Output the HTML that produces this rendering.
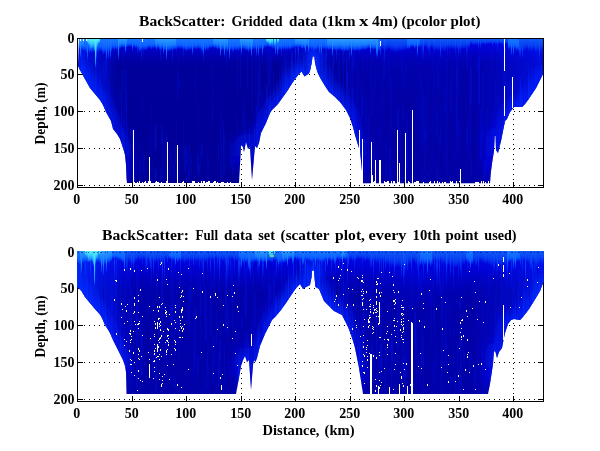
<!DOCTYPE html>
<html><head><meta charset="utf-8"><title>BackScatter</title>
<style>html,body{margin:0;padding:0;background:#fff}body{width:600px;height:451px;overflow:hidden}svg{display:block;will-change:transform;opacity:0.999}.t{font-family:"Liberation Serif",serif;font-weight:bold;font-size:14.67px;fill:#000}</style></head>
<body>
<svg width="600" height="451" viewBox="0 0 600 451" shape-rendering="crispEdges">
<defs>
<linearGradient id="g1" gradientUnits="userSpaceOnUse" x1="0" y1="39" x2="0" y2="187"><stop offset="0" stop-color="#0008e0"/><stop offset="0.054" stop-color="#0002ce"/><stop offset="0.095" stop-color="#0000ba"/><stop offset="0.14" stop-color="#0000a6"/><stop offset="0.2" stop-color="#00009a"/><stop offset="1" stop-color="#000098"/></linearGradient>
<linearGradient id="g2" gradientUnits="userSpaceOnUse" x1="0" y1="251" x2="0" y2="395"><stop offset="0" stop-color="#0010ea"/><stop offset="0.054" stop-color="#0006e0"/><stop offset="0.11" stop-color="#0000d6"/><stop offset="0.19" stop-color="#0000be"/><stop offset="0.28" stop-color="#0000ac"/><stop offset="1" stop-color="#0000aa"/></linearGradient>
<linearGradient id="tb" x1="0" y1="0" x2="0" y2="1"><stop offset="0" stop-color="#1878ff" stop-opacity="1"/><stop offset="0.55" stop-color="#0c60ff" stop-opacity="1"/><stop offset="0.78" stop-color="#0234f8" stop-opacity="0.95"/><stop offset="1" stop-color="#0004e0" stop-opacity="0"/></linearGradient>
<linearGradient id="tb0" x1="0" y1="0" x2="0" y2="1"><stop offset="0" stop-color="#1060f8" stop-opacity="0.9"/><stop offset="0.5" stop-color="#0848f4" stop-opacity="0.85"/><stop offset="0.78" stop-color="#0228ee" stop-opacity="0.7"/><stop offset="1" stop-color="#0004e0" stop-opacity="0"/></linearGradient>
<linearGradient id="hs" x1="0" y1="0" x2="0" y2="1"><stop offset="0" stop-color="#1c78ff" stop-opacity="0.85"/><stop offset="0.4" stop-color="#0c50ff" stop-opacity="0.6"/><stop offset="1" stop-color="#0018f0" stop-opacity="0"/></linearGradient>
<linearGradient id="ss" x1="0" y1="0" x2="0" y2="1"><stop offset="0" stop-color="#0030ff" stop-opacity="0"/><stop offset="0.5" stop-color="#0030ff" stop-opacity="0.8"/><stop offset="1" stop-color="#0838ff" stop-opacity="1"/></linearGradient>
<linearGradient id="tb2" x1="0" y1="0" x2="0" y2="1"><stop offset="0" stop-color="#2c9cff" stop-opacity="1"/><stop offset="0.5" stop-color="#1478ff" stop-opacity="1"/><stop offset="0.78" stop-color="#0440fa" stop-opacity="0.95"/><stop offset="1" stop-color="#0004e0" stop-opacity="0"/></linearGradient>
<linearGradient id="tc" x1="0" y1="0" x2="0" y2="1"><stop offset="0" stop-color="#58f0f4" stop-opacity="1"/><stop offset="0.45" stop-color="#38c8ff" stop-opacity="1"/><stop offset="0.8" stop-color="#1888ff" stop-opacity="0.9"/><stop offset="1" stop-color="#0c50ff" stop-opacity="0"/></linearGradient>
<linearGradient id="hl" x1="0" y1="0" x2="1" y2="0"><stop offset="0" stop-color="#0018f4" stop-opacity="0.7"/><stop offset="1" stop-color="#0018f4" stop-opacity="0"/></linearGradient>
<linearGradient id="hl2" x1="0" y1="0" x2="1" y2="0"><stop offset="0" stop-color="#0030ff" stop-opacity="0.8"/><stop offset="0.5" stop-color="#0020ff" stop-opacity="0.45"/><stop offset="1" stop-color="#0018f4" stop-opacity="0"/></linearGradient>
<linearGradient id="hr" x1="1" y1="0" x2="0" y2="0"><stop offset="0" stop-color="#0018f4" stop-opacity="0.6"/><stop offset="1" stop-color="#0018f4" stop-opacity="0"/></linearGradient>
<radialGradient id="rm"><stop offset="0" stop-color="#0008f0" stop-opacity="0.5"/><stop offset="1" stop-color="#0008f0" stop-opacity="0"/></radialGradient>
<filter id="bl" x="-10%" y="-10%" width="120%" height="120%"><feGaussianBlur stdDeviation="5"/></filter>
<linearGradient id="gg1" gradientUnits="userSpaceOnUse" x1="0" y1="39" x2="0" y2="187"><stop offset="0" stop-color="#0030ff" stop-opacity="0.95"/><stop offset="0.35" stop-color="#0020ff" stop-opacity="0.8"/><stop offset="0.7" stop-color="#0010ff" stop-opacity="0.55"/><stop offset="1" stop-color="#0008ff" stop-opacity="0.35"/></linearGradient>
<linearGradient id="gg2" gradientUnits="userSpaceOnUse" x1="0" y1="251" x2="0" y2="399"><stop offset="0" stop-color="#0030ff" stop-opacity="0.95"/><stop offset="0.35" stop-color="#0020ff" stop-opacity="0.8"/><stop offset="0.7" stop-color="#0010ff" stop-opacity="0.55"/><stop offset="1" stop-color="#0008ff" stop-opacity="0.35"/></linearGradient>
<clipPath id="c1"><path d="M79.0,39.0 L78.0,66.0 L80.0,70.0 L85.0,79.0 L90.0,88.0 L95.0,94.0 L100.0,100.0 L103.0,105.0 L106.0,112.0 L111.0,121.0 L113.0,129.0 L117.0,134.0 L120.0,139.0 L123.0,148.0 L125.0,155.0 L126.0,165.0 L126.5,179.0 L127.0,183.0 L239.0,183.0 L240.0,165.0 L241.0,145.0 L243.0,147.0 L244.0,152.0 L246.0,142.0 L248.0,149.0 L250.0,147.0 L252.0,180.0 L255.0,146.0 L257.0,148.0 L259.0,143.0 L261.0,133.0 L266.0,123.0 L270.0,113.0 L272.0,110.0 L278.0,104.0 L283.0,97.0 L288.0,90.0 L291.0,85.0 L295.0,79.0 L299.0,74.0 L301.5,71.5 L304.5,76.5 L309.0,73.5 L310.5,69.0 L312.0,61.0 L312.6,56.5 L314.4,56.5 L315.0,63.0 L316.5,69.0 L318.0,73.5 L320.5,78.5 L325.0,86.0 L329.0,92.0 L335.0,97.0 L340.0,102.0 L346.0,110.0 L350.0,118.0 L353.0,127.0 L355.0,135.0 L358.0,145.0 L360.0,151.0 L362.0,171.0 L363.0,183.2 L490.0,183.2 L491.0,171.0 L492.5,160.0 L494.0,151.0 L494.6,136.0 L495.6,136.0 L496.0,150.0 L498.0,153.0 L499.5,147.0 L501.0,141.0 L503.0,131.0 L505.0,121.0 L507.0,119.0 L510.0,112.0 L514.0,107.0 L522.0,107.0 L525.0,104.0 L528.0,100.0 L532.0,94.0 L536.0,88.0 L540.0,80.0 L543.0,74.0 L544.0,72.0 L543.0,39.0Z"/></clipPath>
<clipPath id="c2"><path d="M77.0,251.0 L77.0,287.0 L79.0,288.5 L81.5,291.0 L85.0,297.0 L90.0,303.0 L95.0,309.0 L100.0,314.5 L102.0,318.0 L105.0,325.0 L107.0,328.0 L110.0,333.0 L113.0,340.0 L119.0,352.0 L123.0,360.0 L125.0,366.0 L126.0,372.0 L126.5,394.0 L236.0,394.0 L239.0,378.0 L241.0,366.0 L243.0,360.0 L245.0,356.0 L247.0,362.0 L249.0,360.0 L251.0,390.0 L253.0,365.0 L254.0,360.0 L255.5,362.0 L257.0,358.0 L260.0,346.0 L265.0,334.0 L269.0,326.0 L272.0,320.0 L276.0,316.0 L281.0,310.0 L286.0,303.0 L290.0,297.0 L294.0,291.0 L297.0,287.0 L300.0,284.0 L303.0,289.0 L306.0,287.0 L310.0,285.0 L311.6,277.0 L312.0,270.5 L314.0,270.5 L314.6,279.0 L315.5,287.0 L319.0,289.0 L324.0,301.0 L329.0,306.0 L334.0,311.0 L338.0,313.0 L342.0,315.0 L345.0,321.0 L348.0,327.0 L350.0,332.0 L353.0,341.0 L355.0,348.0 L357.0,358.0 L359.0,368.0 L361.0,381.0 L363.0,394.0 L488.0,394.0 L490.0,384.0 L491.5,374.0 L493.0,364.0 L494.0,351.0 L495.5,352.0 L497.0,358.0 L499.0,352.0 L502.0,348.0 L503.5,340.0 L505.0,333.0 L508.0,324.0 L511.0,320.0 L514.0,319.0 L520.0,320.0 L522.0,318.0 L526.0,313.0 L529.0,309.0 L534.0,301.0 L537.0,296.0 L540.0,291.0 L543.0,283.0 L544.0,281.0 L544.0,251.0Z"/></clipPath>
</defs>
<rect width="600" height="451" fill="#fff"/>
<line x1="132.5" y1="184.5" x2="132.5" y2="38.5" stroke="#000" stroke-width="1" stroke-dasharray="1 4"/>
<line x1="186.5" y1="184.5" x2="186.5" y2="38.5" stroke="#000" stroke-width="1" stroke-dasharray="1 4"/>
<line x1="241.5" y1="184.5" x2="241.5" y2="38.5" stroke="#000" stroke-width="1" stroke-dasharray="1 4"/>
<line x1="295.5" y1="184.5" x2="295.5" y2="38.5" stroke="#000" stroke-width="1" stroke-dasharray="1 4"/>
<line x1="350.5" y1="184.5" x2="350.5" y2="38.5" stroke="#000" stroke-width="1" stroke-dasharray="1 4"/>
<line x1="404.5" y1="184.5" x2="404.5" y2="38.5" stroke="#000" stroke-width="1" stroke-dasharray="1 4"/>
<line x1="459.5" y1="184.5" x2="459.5" y2="38.5" stroke="#000" stroke-width="1" stroke-dasharray="1 4"/>
<line x1="513.5" y1="184.5" x2="513.5" y2="38.5" stroke="#000" stroke-width="1" stroke-dasharray="1 4"/>
<line x1="84" y1="74.5" x2="543.5" y2="74.5" stroke="#000" stroke-width="1" stroke-dasharray="1 4"/>
<line x1="84" y1="111.5" x2="543.5" y2="111.5" stroke="#000" stroke-width="1" stroke-dasharray="1 4"/>
<line x1="84" y1="148.5" x2="543.5" y2="148.5" stroke="#000" stroke-width="1" stroke-dasharray="1 4"/>
<line x1="84" y1="185.5" x2="543.5" y2="185.5" stroke="#000" stroke-width="1" stroke-dasharray="1 4"/>
<g clip-path="url(#c1)">
<rect x="78" y="38" width="467" height="150" fill="url(#g1)"/>
<rect x="79" y="39" width="40" height="150" fill="url(#hl)"/>
<rect x="470" y="39" width="74" height="150" fill="url(#hr)"/>
<g filter="url(#bl)"><path d="M78.0,66.0 L80.0,70.0 L85.0,79.0 L90.0,88.0 L95.0,94.0 L100.0,100.0 L103.0,105.0 L106.0,112.0 L111.0,121.0 L113.0,129.0 L117.0,134.0 L120.0,139.0 L123.0,148.0 L125.0,155.0 L126.0,165.0 L126.5,179.0 M240.0,165.0 L241.0,145.0 L243.0,147.0 L244.0,152.0 L246.0,142.0 L248.0,149.0 L250.0,147.0 L252.0,180.0 L255.0,146.0 L257.0,148.0 L259.0,143.0 L261.0,133.0 L266.0,123.0 L270.0,113.0 L272.0,110.0 L278.0,104.0 L283.0,97.0 L288.0,90.0 L291.0,85.0 L295.0,79.0 L299.0,74.0 L301.5,71.5 L304.5,76.5 L309.0,73.5 L310.5,69.0 L312.0,61.0 L312.6,56.5 L314.4,56.5 L315.0,63.0 L316.5,69.0 L318.0,73.5 L320.5,78.5 L325.0,86.0 L329.0,92.0 L335.0,97.0 L340.0,102.0 L346.0,110.0 L350.0,118.0 L353.0,127.0 L355.0,135.0 L358.0,145.0 L360.0,151.0 L362.0,171.0 M491.0,171.0 L492.5,160.0 L494.0,151.0 L494.6,136.0 L495.6,136.0 L496.0,150.0 L498.0,153.0 L499.5,147.0 L501.0,141.0 L503.0,131.0 L505.0,121.0 L507.0,119.0 L510.0,112.0 L514.0,107.0 L522.0,107.0 L525.0,104.0 L528.0,100.0 L532.0,94.0 L536.0,88.0 L540.0,80.0 L543.0,74.0 L544.0,72.0" fill="none" stroke="url(#gg1)" stroke-width="16" stroke-linejoin="round"/></g>
<ellipse cx="420" cy="60" rx="70" ry="40" fill="url(#rm)" opacity="0.25"/>
<rect x="350" y="39" width="195" height="150" fill="#0000ff" opacity="0.13"/>
<rect x="274" y="63" width="2" height="44" fill="#000078" opacity="0.13"/>
<rect x="374" y="48" width="1" height="23" fill="#000078" opacity="0.08"/>
<rect x="155" y="169" width="2" height="10" fill="#0018ff" opacity="0.19"/>
<rect x="109" y="54" width="2" height="41" fill="#0018ff" opacity="0.13"/>
<rect x="363" y="130" width="1" height="14" fill="#000078" opacity="0.16"/>
<rect x="106" y="61" width="1" height="18" fill="#0018ff" opacity="0.17"/>
<rect x="533" y="74" width="1" height="9" fill="#0018ff" opacity="0.10"/>
<rect x="287" y="48" width="1" height="31" fill="#0018ff" opacity="0.12"/>
<rect x="351" y="93" width="1" height="19" fill="#000078" opacity="0.16"/>
<rect x="520" y="80" width="2" height="24" fill="#0018ff" opacity="0.24"/>
<rect x="144" y="158" width="2" height="15" fill="#0018ff" opacity="0.09"/>
<rect x="293" y="61" width="1" height="9" fill="#000078" opacity="0.11"/>
<rect x="454" y="104" width="2" height="53" fill="#0018ff" opacity="0.09"/>
<rect x="220" y="114" width="2" height="64" fill="#0018ff" opacity="0.14"/>
<rect x="245" y="118" width="1" height="21" fill="#0018ff" opacity="0.13"/>
<rect x="453" y="57" width="1" height="42" fill="#0018ff" opacity="0.12"/>
<rect x="420" y="77" width="1" height="69" fill="#0018ff" opacity="0.18"/>
<rect x="247" y="58" width="1" height="32" fill="#0018ff" opacity="0.21"/>
<rect x="385" y="139" width="1" height="15" fill="#0018ff" opacity="0.14"/>
<rect x="536" y="55" width="1" height="17" fill="#0018ff" opacity="0.19"/>
<rect x="405" y="66" width="1" height="40" fill="#000078" opacity="0.13"/>
<rect x="100" y="68" width="1" height="22" fill="#0018ff" opacity="0.19"/>
<rect x="503" y="56" width="1" height="52" fill="#0018ff" opacity="0.15"/>
<rect x="487" y="108" width="1" height="61" fill="#0018ff" opacity="0.16"/>
<rect x="198" y="107" width="1" height="64" fill="#0018ff" opacity="0.12"/>
<rect x="370" y="150" width="2" height="9" fill="#0018ff" opacity="0.19"/>
<rect x="352" y="49" width="1" height="55" fill="#0018ff" opacity="0.21"/>
<rect x="266" y="84" width="2" height="21" fill="#0018ff" opacity="0.11"/>
<rect x="342" y="65" width="1" height="9" fill="#0018ff" opacity="0.14"/>
<rect x="500" y="120" width="1" height="19" fill="#0018ff" opacity="0.16"/>
<rect x="276" y="81" width="1" height="9" fill="#0018ff" opacity="0.16"/>
<rect x="329" y="49" width="1" height="27" fill="#0018ff" opacity="0.14"/>
<rect x="327" y="50" width="1" height="29" fill="#000078" opacity="0.18"/>
<rect x="444" y="86" width="1" height="27" fill="#0018ff" opacity="0.17"/>
<rect x="421" y="101" width="1" height="53" fill="#0018ff" opacity="0.11"/>
<rect x="268" y="70" width="1" height="14" fill="#0018ff" opacity="0.12"/>
<rect x="112" y="103" width="1" height="13" fill="#000078" opacity="0.12"/>
<rect x="178" y="54" width="1" height="34" fill="#0018ff" opacity="0.10"/>
<rect x="155" y="167" width="1" height="10" fill="#0018ff" opacity="0.20"/>
<rect x="165" y="140" width="1" height="38" fill="#0018ff" opacity="0.20"/>
<rect x="326" y="66" width="2" height="17" fill="#0018ff" opacity="0.19"/>
<rect x="433" y="67" width="1" height="66" fill="#0018ff" opacity="0.08"/>
<rect x="346" y="50" width="1" height="52" fill="#0018ff" opacity="0.13"/>
<rect x="372" y="85" width="1" height="33" fill="#0018ff" opacity="0.20"/>
<rect x="270" y="82" width="2" height="13" fill="#000078" opacity="0.13"/>
<rect x="309" y="53" width="2" height="11" fill="#0018ff" opacity="0.09"/>
<rect x="268" y="48" width="2" height="39" fill="#0018ff" opacity="0.16"/>
<rect x="320" y="63" width="2" height="12" fill="#000078" opacity="0.17"/>
<rect x="286" y="62" width="2" height="10" fill="#000078" opacity="0.19"/>
<rect x="125" y="125" width="1" height="29" fill="#000078" opacity="0.17"/>
<rect x="123" y="131" width="1" height="13" fill="#0018ff" opacity="0.15"/>
<rect x="537" y="48" width="2" height="27" fill="#0018ff" opacity="0.09"/>
<rect x="286" y="60" width="1" height="20" fill="#0018ff" opacity="0.23"/>
<rect x="539" y="66" width="1" height="13" fill="#0018ff" opacity="0.19"/>
<rect x="173" y="164" width="2" height="15" fill="#0018ff" opacity="0.16"/>
<rect x="124" y="70" width="1" height="22" fill="#0018ff" opacity="0.19"/>
<rect x="489" y="159" width="1" height="24" fill="#0018ff" opacity="0.12"/>
<rect x="144" y="169" width="1" height="9" fill="#0018ff" opacity="0.08"/>
<rect x="120" y="54" width="2" height="42" fill="#000078" opacity="0.17"/>
<rect x="117" y="58" width="1" height="27" fill="#000078" opacity="0.17"/>
<rect x="446" y="104" width="1" height="42" fill="#0018ff" opacity="0.11"/>
<rect x="257" y="92" width="1" height="28" fill="#0018ff" opacity="0.16"/>
<rect x="479" y="95" width="1" height="55" fill="#0018ff" opacity="0.10"/>
<rect x="156" y="83" width="1" height="37" fill="#000078" opacity="0.18"/>
<rect x="82" y="55" width="2" height="18" fill="#0018ff" opacity="0.20"/>
<rect x="447" y="121" width="1" height="58" fill="#0018ff" opacity="0.16"/>
<rect x="458" y="59" width="1" height="35" fill="#0018ff" opacity="0.10"/>
<rect x="88" y="67" width="1" height="14" fill="#0018ff" opacity="0.23"/>
<rect x="502" y="78" width="1" height="44" fill="#000078" opacity="0.11"/>
<rect x="96" y="63" width="1" height="29" fill="#0018ff" opacity="0.22"/>
<rect x="512" y="81" width="1" height="21" fill="#0018ff" opacity="0.13"/>
<rect x="438" y="54" width="1" height="37" fill="#0018ff" opacity="0.16"/>
<rect x="221" y="163" width="1" height="16" fill="#0018ff" opacity="0.15"/>
<rect x="200" y="147" width="1" height="22" fill="#0018ff" opacity="0.11"/>
<rect x="105" y="50" width="2" height="26" fill="#0018ff" opacity="0.19"/>
<rect x="95" y="68" width="1" height="26" fill="#000078" opacity="0.18"/>
<rect x="269" y="95" width="1" height="20" fill="#000078" opacity="0.10"/>
<rect x="300" y="55" width="1" height="8" fill="#0018ff" opacity="0.23"/>
<rect x="82" y="55" width="1" height="15" fill="#000078" opacity="0.14"/>
<rect x="330" y="69" width="1" height="9" fill="#0018ff" opacity="0.09"/>
<rect x="317" y="55" width="2" height="13" fill="#0018ff" opacity="0.11"/>
<rect x="471" y="164" width="1" height="19" fill="#0018ff" opacity="0.11"/>
<rect x="169" y="169" width="1" height="13" fill="#0018ff" opacity="0.10"/>
<rect x="118" y="89" width="1" height="18" fill="#0018ff" opacity="0.09"/>
<rect x="258" y="71" width="1" height="36" fill="#0018ff" opacity="0.23"/>
<rect x="302" y="53" width="1" height="15" fill="#000078" opacity="0.14"/>
<rect x="179" y="79" width="2" height="9" fill="#0018ff" opacity="0.12"/>
<rect x="432" y="121" width="1" height="49" fill="#0018ff" opacity="0.10"/>
<rect x="467" y="123" width="1" height="19" fill="#0018ff" opacity="0.20"/>
<rect x="337" y="54" width="1" height="15" fill="#0018ff" opacity="0.10"/>
<rect x="425" y="126" width="2" height="30" fill="#0018ff" opacity="0.12"/>
<rect x="346" y="58" width="2" height="50" fill="#0018ff" opacity="0.11"/>
<rect x="249" y="101" width="2" height="25" fill="#000078" opacity="0.19"/>
<rect x="385" y="165" width="2" height="12" fill="#0018ff" opacity="0.16"/>
<rect x="484" y="160" width="2" height="19" fill="#0018ff" opacity="0.22"/>
<rect x="428" y="81" width="1" height="9" fill="#0018ff" opacity="0.08"/>
<rect x="88" y="72" width="1" height="9" fill="#0018ff" opacity="0.20"/>
<rect x="176" y="122" width="1" height="55" fill="#0018ff" opacity="0.13"/>
<rect x="422" y="171" width="1" height="9" fill="#0018ff" opacity="0.20"/>
<rect x="507" y="81" width="1" height="14" fill="#0018ff" opacity="0.19"/>
<rect x="500" y="75" width="1" height="31" fill="#000078" opacity="0.10"/>
<rect x="343" y="87" width="2" height="18" fill="#0018ff" opacity="0.15"/>
<rect x="499" y="112" width="1" height="9" fill="#0018ff" opacity="0.09"/>
<rect x="348" y="53" width="2" height="31" fill="#0018ff" opacity="0.16"/>
<rect x="366" y="149" width="1" height="10" fill="#000078" opacity="0.20"/>
<rect x="132" y="128" width="1" height="22" fill="#0018ff" opacity="0.24"/>
<rect x="177" y="160" width="2" height="18" fill="#000078" opacity="0.11"/>
<rect x="440" y="106" width="1" height="15" fill="#0018ff" opacity="0.10"/>
<rect x="195" y="65" width="1" height="23" fill="#0018ff" opacity="0.17"/>
<rect x="352" y="57" width="2" height="14" fill="#0018ff" opacity="0.17"/>
<rect x="266" y="95" width="1" height="9" fill="#0018ff" opacity="0.11"/>
<rect x="470" y="58" width="1" height="48" fill="#0018ff" opacity="0.17"/>
<rect x="186" y="148" width="2" height="17" fill="#0018ff" opacity="0.22"/>
<rect x="531" y="82" width="2" height="12" fill="#0018ff" opacity="0.22"/>
<rect x="279" y="90" width="2" height="10" fill="#0018ff" opacity="0.09"/>
<rect x="298" y="51" width="1" height="22" fill="#0018ff" opacity="0.15"/>
<rect x="435" y="59" width="1" height="31" fill="#0018ff" opacity="0.12"/>
<rect x="273" y="70" width="1" height="24" fill="#0018ff" opacity="0.09"/>
<rect x="389" y="149" width="2" height="29" fill="#0018ff" opacity="0.20"/>
<rect x="126" y="121" width="2" height="16" fill="#0018ff" opacity="0.15"/>
<rect x="289" y="76" width="1" height="10" fill="#0018ff" opacity="0.18"/>
<rect x="310" y="47" width="1" height="16" fill="#0018ff" opacity="0.22"/>
<rect x="271" y="48" width="1" height="25" fill="#0018ff" opacity="0.15"/>
<rect x="445" y="82" width="1" height="68" fill="#0018ff" opacity="0.12"/>
<rect x="501" y="99" width="1" height="22" fill="#0018ff" opacity="0.15"/>
<rect x="492" y="137" width="1" height="11" fill="#0018ff" opacity="0.16"/>
<rect x="385" y="144" width="1" height="33" fill="#0018ff" opacity="0.08"/>
<rect x="248" y="130" width="1" height="16" fill="#0018ff" opacity="0.11"/>
<rect x="397" y="108" width="2" height="46" fill="#0018ff" opacity="0.22"/>
<rect x="272" y="94" width="2" height="15" fill="#0018ff" opacity="0.12"/>
<rect x="333" y="59" width="1" height="11" fill="#0018ff" opacity="0.16"/>
<rect x="310" y="57" width="2" height="8" fill="#0018ff" opacity="0.12"/>
<rect x="132" y="149" width="1" height="19" fill="#0018ff" opacity="0.10"/>
<rect x="378" y="98" width="1" height="37" fill="#0018ff" opacity="0.10"/>
<rect x="405" y="131" width="2" height="42" fill="#0018ff" opacity="0.09"/>
<rect x="361" y="79" width="1" height="41" fill="#0018ff" opacity="0.20"/>
<rect x="540" y="57" width="1" height="14" fill="#0018ff" opacity="0.23"/>
<rect x="423" y="94" width="2" height="53" fill="#0018ff" opacity="0.15"/>
<rect x="450" y="81" width="1" height="32" fill="#0018ff" opacity="0.23"/>
<rect x="486" y="156" width="2" height="10" fill="#0018ff" opacity="0.09"/>
<rect x="105" y="59" width="2" height="43" fill="#0018ff" opacity="0.16"/>
<rect x="351" y="63" width="1" height="48" fill="#0018ff" opacity="0.18"/>
<rect x="292" y="56" width="1" height="10" fill="#000078" opacity="0.09"/>
<rect x="252" y="119" width="1" height="26" fill="#0018ff" opacity="0.08"/>
<rect x="229" y="147" width="1" height="20" fill="#000078" opacity="0.16"/>
<rect x="322" y="55" width="1" height="14" fill="#0018ff" opacity="0.18"/>
<rect x="286" y="57" width="1" height="33" fill="#0018ff" opacity="0.19"/>
<rect x="306" y="53" width="1" height="17" fill="#0018ff" opacity="0.13"/>
<rect x="128" y="99" width="2" height="48" fill="#000078" opacity="0.09"/>
<rect x="244" y="96" width="1" height="35" fill="#0018ff" opacity="0.09"/>
<rect x="491" y="141" width="1" height="10" fill="#0018ff" opacity="0.19"/>
<rect x="252" y="54" width="1" height="59" fill="#0018ff" opacity="0.20"/>
<rect x="292" y="51" width="1" height="23" fill="#0018ff" opacity="0.21"/>
<rect x="470" y="68" width="2" height="34" fill="#0018ff" opacity="0.24"/>
<rect x="414" y="122" width="1" height="37" fill="#000078" opacity="0.17"/>
<rect x="493" y="112" width="1" height="22" fill="#0018ff" opacity="0.17"/>
<rect x="277" y="49" width="1" height="46" fill="#000078" opacity="0.15"/>
<rect x="298" y="50" width="1" height="16" fill="#0018ff" opacity="0.20"/>
<rect x="354" y="53" width="1" height="18" fill="#0018ff" opacity="0.20"/>
<rect x="329" y="69" width="2" height="21" fill="#0018ff" opacity="0.22"/>
<rect x="362" y="151" width="2" height="9" fill="#0018ff" opacity="0.15"/>
<rect x="125" y="71" width="2" height="41" fill="#0018ff" opacity="0.13"/>
<rect x="346" y="57" width="2" height="36" fill="#0018ff" opacity="0.20"/>
<rect x="97" y="65" width="2" height="11" fill="#0018ff" opacity="0.14"/>
<rect x="438" y="74" width="1" height="26" fill="#0018ff" opacity="0.12"/>
<rect x="91" y="67" width="1" height="12" fill="#0018ff" opacity="0.13"/>
<rect x="183" y="117" width="1" height="42" fill="#0018ff" opacity="0.11"/>
<rect x="408" y="82" width="1" height="49" fill="#000078" opacity="0.10"/>
<rect x="102" y="66" width="1" height="13" fill="#0018ff" opacity="0.22"/>
<rect x="494" y="118" width="1" height="29" fill="#0018ff" opacity="0.20"/>
<rect x="309" y="50" width="1" height="15" fill="#0018ff" opacity="0.11"/>
<rect x="92" y="57" width="1" height="29" fill="#0018ff" opacity="0.17"/>
<rect x="288" y="59" width="2" height="19" fill="#0018ff" opacity="0.12"/>
<rect x="412" y="145" width="1" height="10" fill="#0018ff" opacity="0.20"/>
<rect x="106" y="97" width="1" height="11" fill="#0018ff" opacity="0.10"/>
<rect x="342" y="68" width="1" height="30" fill="#0018ff" opacity="0.10"/>
<rect x="126" y="75" width="1" height="44" fill="#0018ff" opacity="0.10"/>
<rect x="403" y="76" width="1" height="46" fill="#0018ff" opacity="0.11"/>
<rect x="397" y="131" width="1" height="34" fill="#0018ff" opacity="0.19"/>
<rect x="320" y="53" width="1" height="12" fill="#0018ff" opacity="0.16"/>
<rect x="264" y="110" width="2" height="15" fill="#0018ff" opacity="0.23"/>
<rect x="390" y="151" width="1" height="25" fill="#000078" opacity="0.13"/>
<rect x="277" y="64" width="2" height="32" fill="#000078" opacity="0.11"/>
<rect x="234" y="88" width="2" height="68" fill="#000078" opacity="0.20"/>
<rect x="379" y="127" width="1" height="14" fill="#0018ff" opacity="0.18"/>
<rect x="402" y="105" width="1" height="16" fill="#0018ff" opacity="0.13"/>
<rect x="338" y="53" width="2" height="43" fill="#0018ff" opacity="0.21"/>
<rect x="230" y="142" width="2" height="25" fill="#0018ff" opacity="0.15"/>
<rect x="237" y="53" width="1" height="40" fill="#0018ff" opacity="0.18"/>
<rect x="330" y="76" width="2" height="11" fill="#0018ff" opacity="0.10"/>
<rect x="240" y="47" width="1" height="41" fill="#0018ff" opacity="0.23"/>
<rect x="198" y="155" width="1" height="25" fill="#0018ff" opacity="0.19"/>
<rect x="344" y="83" width="2" height="22" fill="#000078" opacity="0.15"/>
<rect x="223" y="132" width="2" height="43" fill="#0018ff" opacity="0.22"/>
<rect x="456" y="68" width="1" height="56" fill="#0018ff" opacity="0.22"/>
<rect x="328" y="71" width="1" height="8" fill="#0018ff" opacity="0.12"/>
<rect x="305" y="48" width="2" height="18" fill="#0018ff" opacity="0.09"/>
<rect x="218" y="143" width="1" height="18" fill="#0018ff" opacity="0.22"/>
<rect x="470" y="95" width="1" height="64" fill="#0018ff" opacity="0.18"/>
<rect x="266" y="86" width="2" height="21" fill="#0018ff" opacity="0.23"/>
<rect x="333" y="54" width="1" height="23" fill="#0018ff" opacity="0.23"/>
<rect x="258" y="56" width="1" height="37" fill="#0018ff" opacity="0.08"/>
<rect x="332" y="61" width="1" height="19" fill="#0018ff" opacity="0.09"/>
<rect x="518" y="77" width="1" height="15" fill="#0018ff" opacity="0.15"/>
<rect x="275" y="62" width="2" height="22" fill="#000078" opacity="0.19"/>
<rect x="539" y="63" width="2" height="11" fill="#0018ff" opacity="0.11"/>
<rect x="427" y="170" width="2" height="9" fill="#0018ff" opacity="0.11"/>
<rect x="96" y="74" width="2" height="18" fill="#0018ff" opacity="0.13"/>
<rect x="406" y="156" width="2" height="10" fill="#0018ff" opacity="0.13"/>
<rect x="93" y="51" width="1" height="23" fill="#000078" opacity="0.15"/>
<rect x="375" y="63" width="1" height="29" fill="#0018ff" opacity="0.13"/>
<rect x="497" y="94" width="2" height="8" fill="#0018ff" opacity="0.16"/>
<rect x="530" y="79" width="2" height="15" fill="#0018ff" opacity="0.22"/>
<rect x="311" y="53" width="1" height="12" fill="#0018ff" opacity="0.17"/>
<rect x="514" y="70" width="1" height="21" fill="#0018ff" opacity="0.22"/>
<rect x="82" y="60" width="2" height="9" fill="#0018ff" opacity="0.10"/>
<rect x="495" y="48" width="1" height="27" fill="#000078" opacity="0.16"/>
<rect x="401" y="55" width="1" height="18" fill="#0018ff" opacity="0.11"/>
<rect x="226" y="52" width="1" height="17" fill="#0018ff" opacity="0.20"/>
<rect x="371" y="136" width="1" height="43" fill="#0018ff" opacity="0.12"/>
<rect x="149" y="135" width="1" height="16" fill="#0018ff" opacity="0.12"/>
<rect x="160" y="169" width="2" height="12" fill="#0018ff" opacity="0.18"/>
<rect x="335" y="72" width="2" height="13" fill="#0018ff" opacity="0.12"/>
<rect x="108" y="79" width="1" height="31" fill="#0018ff" opacity="0.22"/>
<rect x="453" y="155" width="1" height="11" fill="#0018ff" opacity="0.18"/>
<rect x="381" y="79" width="1" height="32" fill="#0018ff" opacity="0.15"/>
<rect x="412" y="47" width="2" height="35" fill="#000078" opacity="0.14"/>
<rect x="133" y="150" width="1" height="11" fill="#0018ff" opacity="0.10"/>
<rect x="440" y="125" width="1" height="21" fill="#0018ff" opacity="0.24"/>
<rect x="175" y="145" width="1" height="19" fill="#0018ff" opacity="0.23"/>
<rect x="357" y="64" width="1" height="50" fill="#0018ff" opacity="0.12"/>
<rect x="437" y="166" width="1" height="17" fill="#0018ff" opacity="0.23"/>
<rect x="525" y="62" width="1" height="26" fill="#0018ff" opacity="0.11"/>
<rect x="479" y="153" width="1" height="8" fill="#0018ff" opacity="0.11"/>
<rect x="427" y="76" width="1" height="63" fill="#0018ff" opacity="0.18"/>
<rect x="151" y="105" width="1" height="68" fill="#0018ff" opacity="0.10"/>
<rect x="198" y="165" width="2" height="10" fill="#0018ff" opacity="0.19"/>
<rect x="97" y="52" width="1" height="17" fill="#0018ff" opacity="0.19"/>
<rect x="237" y="138" width="1" height="14" fill="#000078" opacity="0.12"/>
<rect x="390" y="78" width="1" height="61" fill="#0018ff" opacity="0.19"/>
<rect x="436" y="107" width="2" height="34" fill="#0018ff" opacity="0.15"/>
<rect x="367" y="145" width="1" height="11" fill="#000078" opacity="0.17"/>
<rect x="281" y="63" width="1" height="18" fill="#0018ff" opacity="0.12"/>
<rect x="243" y="100" width="2" height="28" fill="#0018ff" opacity="0.10"/>
<rect x="121" y="70" width="1" height="68" fill="#0018ff" opacity="0.24"/>
<rect x="388" y="58" width="2" height="33" fill="#0018ff" opacity="0.11"/>
<rect x="498" y="99" width="1" height="38" fill="#0018ff" opacity="0.11"/>
<rect x="316" y="49" width="1" height="17" fill="#0018ff" opacity="0.09"/>
<rect x="480" y="114" width="1" height="14" fill="#0018ff" opacity="0.10"/>
<rect x="471" y="162" width="1" height="12" fill="#0018ff" opacity="0.21"/>
<rect x="373" y="138" width="1" height="15" fill="#0018ff" opacity="0.11"/>
<rect x="393" y="98" width="1" height="41" fill="#000078" opacity="0.14"/>
<rect x="294" y="55" width="1" height="24" fill="#0018ff" opacity="0.08"/>
<rect x="406" y="131" width="2" height="38" fill="#0018ff" opacity="0.21"/>
<rect x="510" y="52" width="1" height="17" fill="#0018ff" opacity="0.17"/>
<rect x="311" y="47" width="1" height="16" fill="#0018ff" opacity="0.21"/>
<rect x="115" y="112" width="2" height="16" fill="#0018ff" opacity="0.13"/>
<rect x="341" y="83" width="1" height="14" fill="#0018ff" opacity="0.19"/>
<rect x="127" y="140" width="2" height="42" fill="#0018ff" opacity="0.17"/>
<rect x="357" y="71" width="1" height="33" fill="#0018ff" opacity="0.16"/>
<rect x="100" y="64" width="1" height="21" fill="#0018ff" opacity="0.11"/>
<rect x="533" y="72" width="1" height="15" fill="#000078" opacity="0.09"/>
<rect x="279" y="67" width="2" height="23" fill="#0018ff" opacity="0.11"/>
<rect x="309" y="58" width="1" height="14" fill="#0018ff" opacity="0.08"/>
<rect x="207" y="151" width="1" height="31" fill="#0018ff" opacity="0.11"/>
<rect x="485" y="110" width="1" height="48" fill="#0018ff" opacity="0.20"/>
<rect x="332" y="76" width="1" height="13" fill="#000078" opacity="0.11"/>
<rect x="512" y="93" width="1" height="13" fill="#0018ff" opacity="0.21"/>
<rect x="364" y="167" width="1" height="12" fill="#0018ff" opacity="0.24"/>
<rect x="369" y="171" width="1" height="9" fill="#0018ff" opacity="0.15"/>
<rect x="351" y="98" width="1" height="19" fill="#0018ff" opacity="0.08"/>
<rect x="163" y="139" width="1" height="8" fill="#000078" opacity="0.18"/>
<rect x="424" y="156" width="1" height="15" fill="#0018ff" opacity="0.23"/>
<rect x="161" y="125" width="2" height="20" fill="#0018ff" opacity="0.18"/>
<rect x="285" y="75" width="1" height="12" fill="#0018ff" opacity="0.12"/>
<rect x="124" y="105" width="1" height="46" fill="#0018ff" opacity="0.19"/>
<rect x="310" y="48" width="2" height="20" fill="#0018ff" opacity="0.11"/>
<rect x="177" y="70" width="1" height="31" fill="#0018ff" opacity="0.23"/>
<rect x="287" y="79" width="1" height="11" fill="#0018ff" opacity="0.16"/>
<rect x="344" y="56" width="1" height="12" fill="#0018ff" opacity="0.17"/>
<rect x="354" y="96" width="1" height="33" fill="#0018ff" opacity="0.12"/>
<rect x="439" y="137" width="1" height="29" fill="#0018ff" opacity="0.13"/>
<rect x="212" y="65" width="1" height="60" fill="#0018ff" opacity="0.22"/>
<rect x="480" y="110" width="2" height="49" fill="#0018ff" opacity="0.18"/>
<rect x="417" y="93" width="1" height="29" fill="#0018ff" opacity="0.18"/>
<rect x="155" y="125" width="2" height="25" fill="#0018ff" opacity="0.22"/>
<rect x="509" y="83" width="1" height="30" fill="#0018ff" opacity="0.13"/>
<rect x="295" y="56" width="1" height="14" fill="#0018ff" opacity="0.22"/>
<rect x="81" y="52" width="2" height="10" fill="#0018ff" opacity="0.22"/>
<rect x="483" y="78" width="1" height="59" fill="#0018ff" opacity="0.11"/>
<rect x="517" y="81" width="1" height="14" fill="#0018ff" opacity="0.14"/>
<rect x="197" y="154" width="1" height="20" fill="#0018ff" opacity="0.18"/>
<rect x="535" y="68" width="2" height="10" fill="#0018ff" opacity="0.19"/>
<rect x="482" y="72" width="1" height="38" fill="#0018ff" opacity="0.23"/>
<rect x="184" y="145" width="2" height="26" fill="#0018ff" opacity="0.22"/>
<rect x="333" y="55" width="2" height="9" fill="#0018ff" opacity="0.15"/>
<rect x="456" y="50" width="2" height="32" fill="#0018ff" opacity="0.16"/>
<rect x="124" y="139" width="1" height="12" fill="#0018ff" opacity="0.19"/>
<rect x="284" y="54" width="1" height="28" fill="#0018ff" opacity="0.19"/>
<rect x="237" y="116" width="1" height="34" fill="#0018ff" opacity="0.16"/>
<rect x="439" y="103" width="1" height="45" fill="#0018ff" opacity="0.09"/>
<rect x="320" y="49" width="1" height="20" fill="#000078" opacity="0.08"/>
<rect x="134" y="166" width="1" height="16" fill="#0018ff" opacity="0.23"/>
<rect x="171" y="153" width="2" height="22" fill="#0018ff" opacity="0.09"/>
<rect x="328" y="63" width="1" height="19" fill="#0018ff" opacity="0.12"/>
<rect x="107" y="49" width="1" height="54" fill="#0018ff" opacity="0.22"/>
<rect x="258" y="111" width="1" height="24" fill="#0018ff" opacity="0.15"/>
<rect x="375" y="81" width="1" height="31" fill="#0018ff" opacity="0.10"/>
<rect x="259" y="68" width="2" height="59" fill="#0018ff" opacity="0.09"/>
<rect x="123" y="115" width="1" height="32" fill="#0018ff" opacity="0.09"/>
<rect x="532" y="68" width="1" height="22" fill="#0018ff" opacity="0.11"/>
<rect x="166" y="132" width="1" height="19" fill="#0018ff" opacity="0.23"/>
<rect x="402" y="56" width="1" height="37" fill="#0018ff" opacity="0.08"/>
<rect x="515" y="86" width="1" height="16" fill="#0018ff" opacity="0.12"/>
<rect x="383" y="53" width="2" height="28" fill="#0018ff" opacity="0.20"/>
<rect x="422" y="83" width="1" height="46" fill="#0018ff" opacity="0.15"/>
<rect x="391" y="77" width="1" height="49" fill="#0018ff" opacity="0.12"/>
<rect x="514" y="90" width="1" height="12" fill="#0018ff" opacity="0.08"/>
<rect x="176" y="171" width="1" height="8" fill="#0018ff" opacity="0.23"/>
<rect x="347" y="72" width="1" height="22" fill="#0018ff" opacity="0.23"/>
<rect x="404" y="169" width="2" height="12" fill="#0018ff" opacity="0.23"/>
<rect x="291" y="51" width="1" height="13" fill="#0018ff" opacity="0.22"/>
<rect x="304" y="53" width="2" height="18" fill="#000078" opacity="0.17"/>
<rect x="169" y="147" width="1" height="10" fill="#0018ff" opacity="0.12"/>
<rect x="262" y="109" width="1" height="13" fill="#0018ff" opacity="0.13"/>
<rect x="367" y="53" width="1" height="14" fill="#0018ff" opacity="0.10"/>
<rect x="381" y="115" width="1" height="19" fill="#0018ff" opacity="0.11"/>
<rect x="454" y="125" width="1" height="25" fill="#000078" opacity="0.18"/>
<rect x="362" y="47" width="1" height="27" fill="#0018ff" opacity="0.14"/>
<rect x="518" y="93" width="1" height="12" fill="#0018ff" opacity="0.19"/>
<rect x="95" y="75" width="2" height="16" fill="#0018ff" opacity="0.19"/>
<rect x="103" y="57" width="2" height="29" fill="#0018ff" opacity="0.13"/>
<rect x="232" y="157" width="1" height="18" fill="#0018ff" opacity="0.16"/>
<rect x="127" y="60" width="2" height="67" fill="#000078" opacity="0.09"/>
<rect x="142" y="93" width="1" height="23" fill="#0018ff" opacity="0.10"/>
<rect x="457" y="125" width="1" height="44" fill="#0018ff" opacity="0.14"/>
<rect x="508" y="87" width="1" height="28" fill="#0018ff" opacity="0.14"/>
<rect x="376" y="152" width="1" height="12" fill="#0018ff" opacity="0.08"/>
<rect x="285" y="78" width="1" height="13" fill="#0018ff" opacity="0.09"/>
<rect x="306" y="55" width="1" height="14" fill="#000078" opacity="0.15"/>
<rect x="141" y="143" width="1" height="30" fill="#0018ff" opacity="0.11"/>
<rect x="479" y="48" width="1" height="59" fill="#0018ff" opacity="0.13"/>
<rect x="256" y="105" width="2" height="29" fill="#0018ff" opacity="0.21"/>
<rect x="472" y="112" width="2" height="51" fill="#000078" opacity="0.18"/>
<rect x="245" y="132" width="1" height="10" fill="#0018ff" opacity="0.19"/>
<rect x="371" y="54" width="1" height="20" fill="#0018ff" opacity="0.11"/>
<rect x="481" y="129" width="1" height="31" fill="#0018ff" opacity="0.17"/>
<rect x="340" y="66" width="1" height="32" fill="#0018ff" opacity="0.08"/>
<rect x="366" y="96" width="1" height="27" fill="#0018ff" opacity="0.20"/>
<rect x="223" y="119" width="1" height="34" fill="#0018ff" opacity="0.16"/>
<rect x="296" y="57" width="1" height="17" fill="#0018ff" opacity="0.14"/>
<rect x="482" y="126" width="1" height="15" fill="#0018ff" opacity="0.24"/>
<rect x="330" y="61" width="2" height="11" fill="#0018ff" opacity="0.17"/>
<rect x="391" y="167" width="1" height="14" fill="#0018ff" opacity="0.21"/>
<rect x="495" y="79" width="1" height="30" fill="#0018ff" opacity="0.17"/>
<rect x="260" y="120" width="1" height="11" fill="#000078" opacity="0.11"/>
<rect x="485" y="162" width="1" height="13" fill="#0018ff" opacity="0.14"/>
<rect x="324" y="71" width="1" height="13" fill="#0018ff" opacity="0.14"/>
<rect x="370" y="69" width="1" height="55" fill="#0018ff" opacity="0.14"/>
<rect x="383" y="85" width="1" height="38" fill="#0018ff" opacity="0.09"/>
<rect x="273" y="71" width="1" height="10" fill="#0018ff" opacity="0.22"/>
<rect x="103" y="62" width="2" height="41" fill="#0018ff" opacity="0.23"/>
<rect x="191" y="156" width="1" height="21" fill="#0018ff" opacity="0.19"/>
<rect x="233" y="148" width="1" height="25" fill="#0018ff" opacity="0.18"/>
<rect x="298" y="63" width="1" height="11" fill="#0018ff" opacity="0.10"/>
<rect x="154" y="125" width="2" height="27" fill="#0018ff" opacity="0.11"/>
<rect x="99" y="72" width="2" height="25" fill="#0018ff" opacity="0.17"/>
<rect x="269" y="101" width="2" height="13" fill="#0018ff" opacity="0.16"/>
<rect x="423" y="66" width="1" height="22" fill="#000078" opacity="0.14"/>
<rect x="469" y="98" width="1" height="64" fill="#0018ff" opacity="0.11"/>
<rect x="81" y="59" width="1" height="10" fill="#0018ff" opacity="0.16"/>
<rect x="504" y="65" width="1" height="51" fill="#0018ff" opacity="0.14"/>
<rect x="539" y="53" width="1" height="9" fill="#0018ff" opacity="0.21"/>
<rect x="492" y="131" width="1" height="27" fill="#0018ff" opacity="0.11"/>
<rect x="162" y="134" width="2" height="44" fill="#0018ff" opacity="0.12"/>
<rect x="456" y="102" width="1" height="53" fill="#0018ff" opacity="0.14"/>
<rect x="346" y="70" width="1" height="27" fill="#0018ff" opacity="0.20"/>
<rect x="537" y="73" width="1" height="10" fill="#0018ff" opacity="0.18"/>
<rect x="284" y="52" width="1" height="34" fill="#0018ff" opacity="0.24"/>
<rect x="270" y="57" width="1" height="54" fill="#0018ff" opacity="0.20"/>
<rect x="259" y="110" width="1" height="26" fill="#0018ff" opacity="0.17"/>
<rect x="152" y="157" width="1" height="15" fill="#0018ff" opacity="0.12"/>
<rect x="86" y="52" width="1" height="16" fill="#0018ff" opacity="0.12"/>
<rect x="253" y="133" width="1" height="17" fill="#000078" opacity="0.14"/>
<rect x="428" y="63" width="1" height="50" fill="#000078" opacity="0.10"/>
<rect x="325" y="54" width="2" height="12" fill="#0018ff" opacity="0.23"/>
<rect x="459" y="120" width="1" height="36" fill="#0018ff" opacity="0.22"/>
<rect x="326" y="50" width="1" height="11" fill="#0018ff" opacity="0.18"/>
<rect x="96" y="58" width="1" height="37" fill="#0018ff" opacity="0.16"/>
<rect x="244" y="138" width="1" height="9" fill="#000078" opacity="0.08"/>
<rect x="458" y="140" width="2" height="22" fill="#000078" opacity="0.13"/>
<rect x="353" y="113" width="1" height="10" fill="#0018ff" opacity="0.22"/>
<rect x="217" y="75" width="1" height="44" fill="#0018ff" opacity="0.09"/>
<rect x="343" y="60" width="1" height="29" fill="#0018ff" opacity="0.23"/>
<rect x="119" y="89" width="2" height="19" fill="#0018ff" opacity="0.09"/>
<rect x="323" y="68" width="1" height="12" fill="#0018ff" opacity="0.10"/>
<rect x="282" y="65" width="2" height="17" fill="#0018ff" opacity="0.15"/>
<rect x="519" y="75" width="2" height="30" fill="#0018ff" opacity="0.17"/>
<rect x="504" y="49" width="1" height="28" fill="#0018ff" opacity="0.08"/>
<rect x="522" y="69" width="2" height="9" fill="#0018ff" opacity="0.16"/>
<rect x="79" y="52" width="1" height="14" fill="#0018ff" opacity="0.16"/>
<rect x="122" y="48" width="2" height="55" fill="#0018ff" opacity="0.10"/>
<rect x="352" y="88" width="2" height="28" fill="#0018ff" opacity="0.17"/>
<rect x="499" y="121" width="1" height="28" fill="#0018ff" opacity="0.08"/>
<rect x="477" y="61" width="2" height="10" fill="#0018ff" opacity="0.16"/>
<rect x="466" y="129" width="2" height="24" fill="#0018ff" opacity="0.18"/>
<rect x="96" y="56" width="2" height="9" fill="#0018ff" opacity="0.17"/>
<rect x="329" y="49" width="2" height="10" fill="#0018ff" opacity="0.09"/>
<rect x="505" y="48" width="1" height="49" fill="#0018ff" opacity="0.22"/>
<rect x="108" y="81" width="2" height="18" fill="#0018ff" opacity="0.12"/>
<rect x="362" y="94" width="2" height="21" fill="#0018ff" opacity="0.20"/>
<rect x="441" y="61" width="1" height="57" fill="#0018ff" opacity="0.13"/>
<rect x="332" y="80" width="1" height="13" fill="#0018ff" opacity="0.08"/>
<rect x="100" y="73" width="1" height="8" fill="#0018ff" opacity="0.12"/>
<rect x="505" y="65" width="1" height="24" fill="#0018ff" opacity="0.13"/>
<rect x="301" y="54" width="1" height="9" fill="#000078" opacity="0.16"/>
<rect x="261" y="90" width="1" height="12" fill="#0018ff" opacity="0.18"/>
<rect x="386" y="102" width="2" height="23" fill="#000078" opacity="0.17"/>
<rect x="112" y="85" width="1" height="36" fill="#0018ff" opacity="0.11"/>
<rect x="424" y="131" width="2" height="10" fill="#0018ff" opacity="0.18"/>
<rect x="235" y="110" width="1" height="17" fill="#0018ff" opacity="0.10"/>
<rect x="189" y="145" width="1" height="36" fill="#0018ff" opacity="0.23"/>
<rect x="373" y="150" width="2" height="26" fill="#0018ff" opacity="0.10"/>
<rect x="446" y="59" width="2" height="59" fill="#0018ff" opacity="0.14"/>
<rect x="178" y="109" width="1" height="69" fill="#000078" opacity="0.20"/>
<rect x="347" y="72" width="1" height="14" fill="#0018ff" opacity="0.11"/>
<rect x="139" y="159" width="2" height="20" fill="#0018ff" opacity="0.08"/>
<rect x="467" y="57" width="1" height="14" fill="#0018ff" opacity="0.24"/>
<rect x="437" y="156" width="1" height="25" fill="#0018ff" opacity="0.08"/>
<rect x="201" y="143" width="2" height="15" fill="#0018ff" opacity="0.21"/>
<rect x="372" y="63" width="1" height="21" fill="#0018ff" opacity="0.09"/>
<rect x="132" y="128" width="2" height="21" fill="#0018ff" opacity="0.23"/>
<rect x="457" y="80" width="1" height="58" fill="#0018ff" opacity="0.21"/>
<rect x="170" y="151" width="1" height="23" fill="#0018ff" opacity="0.13"/>
<rect x="267" y="56" width="1" height="25" fill="#0018ff" opacity="0.12"/>
<rect x="368" y="116" width="1" height="54" fill="#0018ff" opacity="0.20"/>
<rect x="286" y="63" width="1" height="13" fill="#0018ff" opacity="0.09"/>
<rect x="440" y="154" width="2" height="15" fill="#000078" opacity="0.10"/>
<rect x="242" y="110" width="2" height="17" fill="#0018ff" opacity="0.12"/>
<rect x="179" y="161" width="1" height="16" fill="#0018ff" opacity="0.20"/>
<rect x="342" y="51" width="1" height="16" fill="#0018ff" opacity="0.19"/>
<rect x="97" y="76" width="2" height="17" fill="#0018ff" opacity="0.22"/>
<rect x="126" y="88" width="1" height="66" fill="#0018ff" opacity="0.19"/>
<rect x="478" y="56" width="2" height="47" fill="#0018ff" opacity="0.24"/>
<rect x="407" y="118" width="1" height="63" fill="#0018ff" opacity="0.15"/>
<rect x="259" y="54" width="1" height="42" fill="#0018ff" opacity="0.22"/>
<rect x="432" y="50" width="1" height="21" fill="#0018ff" opacity="0.13"/>
<rect x="433" y="78" width="1" height="45" fill="#0018ff" opacity="0.10"/>
<rect x="186" y="142" width="1" height="40" fill="#0018ff" opacity="0.08"/>
<rect x="330" y="73" width="2" height="8" fill="#0018ff" opacity="0.16"/>
<rect x="504" y="105" width="1" height="20" fill="#0018ff" opacity="0.21"/>
<rect x="324" y="65" width="1" height="15" fill="#000078" opacity="0.10"/>
<rect x="195" y="81" width="1" height="22" fill="#0018ff" opacity="0.12"/>
<rect x="500" y="107" width="2" height="36" fill="#000078" opacity="0.09"/>
<rect x="445" y="147" width="1" height="19" fill="#0018ff" opacity="0.19"/>
<rect x="367" y="162" width="1" height="8" fill="#0018ff" opacity="0.10"/>
<rect x="255" y="53" width="2" height="43" fill="#0018ff" opacity="0.10"/>
<rect x="405" y="71" width="1" height="13" fill="#0018ff" opacity="0.19"/>
<rect x="188" y="166" width="1" height="11" fill="#0018ff" opacity="0.18"/>
<rect x="348" y="86" width="2" height="20" fill="#0018ff" opacity="0.20"/>
<rect x="143" y="153" width="1" height="20" fill="#0018ff" opacity="0.22"/>
<rect x="328" y="63" width="1" height="20" fill="#000078" opacity="0.19"/>
<rect x="506" y="107" width="2" height="10" fill="#0018ff" opacity="0.11"/>
<rect x="208" y="159" width="1" height="14" fill="#0018ff" opacity="0.19"/>
<rect x="451" y="65" width="1" height="52" fill="#0018ff" opacity="0.13"/>
<rect x="405" y="65" width="1" height="9" fill="#0018ff" opacity="0.19"/>
<rect x="437" y="63" width="1" height="24" fill="#0018ff" opacity="0.12"/>
<rect x="164" y="149" width="2" height="9" fill="#0018ff" opacity="0.09"/>
<rect x="133" y="114" width="1" height="11" fill="#000078" opacity="0.15"/>
<rect x="79" y="46" width="1" height="24" fill="url(#ss)" opacity="0.17"/>
<rect x="81" y="48" width="1" height="26" fill="url(#ss)" opacity="0.46"/>
<rect x="82" y="43" width="1" height="32" fill="url(#ss)" opacity="0.38"/>
<rect x="83" y="49" width="1" height="28" fill="url(#ss)" opacity="0.33"/>
<rect x="84" y="43" width="1" height="36" fill="url(#ss)" opacity="0.26"/>
<rect x="87" y="68" width="1" height="17" fill="url(#ss)" opacity="0.28"/>
<rect x="89" y="61" width="1" height="27" fill="url(#ss)" opacity="0.23"/>
<rect x="93" y="61" width="1" height="32" fill="url(#ss)" opacity="0.25"/>
<rect x="95" y="59" width="1" height="36" fill="url(#ss)" opacity="0.44"/>
<rect x="100" y="63" width="1" height="39" fill="url(#ss)" opacity="0.25"/>
<rect x="101" y="81" width="1" height="22" fill="url(#ss)" opacity="0.24"/>
<rect x="102" y="67" width="1" height="38" fill="url(#ss)" opacity="0.13"/>
<rect x="104" y="95" width="1" height="14" fill="url(#ss)" opacity="0.21"/>
<rect x="105" y="99" width="1" height="13" fill="url(#ss)" opacity="0.34"/>
<rect x="113" y="106" width="1" height="25" fill="url(#ss)" opacity="0.33"/>
<rect x="117" y="114" width="1" height="22" fill="url(#ss)" opacity="0.11"/>
<rect x="122" y="117" width="1" height="31" fill="url(#ss)" opacity="0.24"/>
<rect x="123" y="112" width="1" height="38" fill="url(#ss)" opacity="0.09"/>
<rect x="124" y="129" width="1" height="25" fill="url(#ss)" opacity="0.23"/>
<rect x="241" y="123" width="1" height="23" fill="url(#ss)" opacity="0.12"/>
<rect x="243" y="118" width="1" height="33" fill="url(#ss)" opacity="0.11"/>
<rect x="244" y="113" width="1" height="38" fill="url(#ss)" opacity="0.08"/>
<rect x="249" y="111" width="1" height="38" fill="url(#ss)" opacity="0.15"/>
<rect x="253" y="154" width="1" height="10" fill="url(#ss)" opacity="0.27"/>
<rect x="254" y="120" width="1" height="32" fill="url(#ss)" opacity="0.34"/>
<rect x="256" y="114" width="1" height="35" fill="url(#ss)" opacity="0.18"/>
<rect x="257" y="122" width="1" height="26" fill="url(#ss)" opacity="0.26"/>
<rect x="260" y="105" width="1" height="31" fill="url(#ss)" opacity="0.18"/>
<rect x="262" y="118" width="1" height="13" fill="url(#ss)" opacity="0.34"/>
<rect x="263" y="108" width="1" height="21" fill="url(#ss)" opacity="0.10"/>
<rect x="265" y="115" width="1" height="10" fill="url(#ss)" opacity="0.17"/>
<rect x="268" y="80" width="1" height="38" fill="url(#ss)" opacity="0.11"/>
<rect x="269" y="90" width="1" height="25" fill="url(#ss)" opacity="0.34"/>
<rect x="270" y="80" width="1" height="34" fill="url(#ss)" opacity="0.18"/>
<rect x="274" y="79" width="1" height="29" fill="url(#ss)" opacity="0.24"/>
<rect x="277" y="79" width="1" height="26" fill="url(#ss)" opacity="0.31"/>
<rect x="282" y="64" width="1" height="35" fill="url(#ss)" opacity="0.30"/>
<rect x="284" y="71" width="1" height="25" fill="url(#ss)" opacity="0.24"/>
<rect x="285" y="57" width="1" height="37" fill="url(#ss)" opacity="0.40"/>
<rect x="286" y="82" width="1" height="11" fill="url(#ss)" opacity="0.45"/>
<rect x="287" y="67" width="1" height="24" fill="url(#ss)" opacity="0.30"/>
<rect x="291" y="47" width="1" height="38" fill="url(#ss)" opacity="0.40"/>
<rect x="292" y="51" width="1" height="33" fill="url(#ss)" opacity="0.45"/>
<rect x="293" y="71" width="1" height="12" fill="url(#ss)" opacity="0.13"/>
<rect x="295" y="46" width="1" height="33" fill="url(#ss)" opacity="0.18"/>
<rect x="296" y="64" width="1" height="14" fill="url(#ss)" opacity="0.41"/>
<rect x="297" y="54" width="1" height="23" fill="url(#ss)" opacity="0.41"/>
<rect x="298" y="66" width="1" height="9" fill="url(#ss)" opacity="0.11"/>
<rect x="300" y="62" width="1" height="11" fill="url(#ss)" opacity="0.31"/>
<rect x="302" y="61" width="1" height="13" fill="url(#ss)" opacity="0.18"/>
<rect x="303" y="43" width="1" height="32" fill="url(#ss)" opacity="0.14"/>
<rect x="307" y="66" width="1" height="10" fill="url(#ss)" opacity="0.30"/>
<rect x="308" y="45" width="1" height="29" fill="url(#ss)" opacity="0.13"/>
<rect x="309" y="63" width="1" height="10" fill="url(#ss)" opacity="0.29"/>
<rect x="310" y="45" width="1" height="25" fill="url(#ss)" opacity="0.28"/>
<rect x="311" y="50" width="1" height="15" fill="url(#ss)" opacity="0.47"/>
<rect x="312" y="46" width="1" height="12" fill="url(#ss)" opacity="0.35"/>
<rect x="314" y="43" width="1" height="16" fill="url(#ss)" opacity="0.45"/>
<rect x="316" y="49" width="1" height="21" fill="url(#ss)" opacity="0.31"/>
<rect x="317" y="49" width="1" height="24" fill="url(#ss)" opacity="0.36"/>
<rect x="321" y="54" width="1" height="27" fill="url(#ss)" opacity="0.29"/>
<rect x="323" y="70" width="1" height="14" fill="url(#ss)" opacity="0.36"/>
<rect x="325" y="56" width="1" height="32" fill="url(#ss)" opacity="0.38"/>
<rect x="327" y="80" width="1" height="11" fill="url(#ss)" opacity="0.18"/>
<rect x="330" y="84" width="1" height="10" fill="url(#ss)" opacity="0.22"/>
<rect x="332" y="59" width="1" height="37" fill="url(#ss)" opacity="0.37"/>
<rect x="336" y="77" width="1" height="22" fill="url(#ss)" opacity="0.23"/>
<rect x="338" y="71" width="1" height="31" fill="url(#ss)" opacity="0.11"/>
<rect x="339" y="87" width="1" height="16" fill="url(#ss)" opacity="0.15"/>
<rect x="342" y="83" width="1" height="23" fill="url(#ss)" opacity="0.10"/>
<rect x="343" y="94" width="1" height="13" fill="url(#ss)" opacity="0.32"/>
<rect x="346" y="91" width="1" height="21" fill="url(#ss)" opacity="0.17"/>
<rect x="348" y="84" width="1" height="32" fill="url(#ss)" opacity="0.24"/>
<rect x="352" y="96" width="1" height="31" fill="url(#ss)" opacity="0.17"/>
<rect x="353" y="95" width="1" height="35" fill="url(#ss)" opacity="0.14"/>
<rect x="354" y="103" width="1" height="31" fill="url(#ss)" opacity="0.33"/>
<rect x="355" y="107" width="1" height="30" fill="url(#ss)" opacity="0.20"/>
<rect x="356" y="115" width="1" height="26" fill="url(#ss)" opacity="0.13"/>
<rect x="357" y="123" width="1" height="21" fill="url(#ss)" opacity="0.26"/>
<rect x="358" y="132" width="1" height="16" fill="url(#ss)" opacity="0.23"/>
<rect x="359" y="125" width="1" height="26" fill="url(#ss)" opacity="0.26"/>
<rect x="360" y="121" width="1" height="36" fill="url(#ss)" opacity="0.33"/>
<rect x="361" y="156" width="1" height="11" fill="url(#ss)" opacity="0.10"/>
<rect x="362" y="160" width="1" height="18" fill="url(#ss)" opacity="0.23"/>
<rect x="491" y="151" width="1" height="17" fill="url(#ss)" opacity="0.12"/>
<rect x="496" y="120" width="1" height="31" fill="url(#ss)" opacity="0.17"/>
<rect x="497" y="123" width="1" height="30" fill="url(#ss)" opacity="0.17"/>
<rect x="498" y="126" width="1" height="26" fill="url(#ss)" opacity="0.14"/>
<rect x="499" y="117" width="1" height="31" fill="url(#ss)" opacity="0.29"/>
<rect x="501" y="120" width="1" height="19" fill="url(#ss)" opacity="0.26"/>
<rect x="502" y="103" width="1" height="31" fill="url(#ss)" opacity="0.24"/>
<rect x="503" y="95" width="1" height="35" fill="url(#ss)" opacity="0.12"/>
<rect x="504" y="100" width="1" height="25" fill="url(#ss)" opacity="0.35"/>
<rect x="507" y="100" width="1" height="18" fill="url(#ss)" opacity="0.17"/>
<rect x="508" y="102" width="1" height="14" fill="url(#ss)" opacity="0.14"/>
<rect x="510" y="74" width="1" height="38" fill="url(#ss)" opacity="0.29"/>
<rect x="513" y="93" width="1" height="16" fill="url(#ss)" opacity="0.23"/>
<rect x="514" y="94" width="1" height="14" fill="url(#ss)" opacity="0.28"/>
<rect x="516" y="98" width="1" height="10" fill="url(#ss)" opacity="0.13"/>
<rect x="517" y="93" width="1" height="15" fill="url(#ss)" opacity="0.25"/>
<rect x="519" y="88" width="1" height="20" fill="url(#ss)" opacity="0.29"/>
<rect x="520" y="73" width="1" height="35" fill="url(#ss)" opacity="0.42"/>
<rect x="521" y="87" width="1" height="21" fill="url(#ss)" opacity="0.36"/>
<rect x="522" y="82" width="1" height="26" fill="url(#ss)" opacity="0.36"/>
<rect x="524" y="69" width="1" height="37" fill="url(#ss)" opacity="0.29"/>
<rect x="526" y="93" width="1" height="10" fill="url(#ss)" opacity="0.26"/>
<rect x="528" y="62" width="1" height="38" fill="url(#ss)" opacity="0.43"/>
<rect x="529" y="76" width="1" height="23" fill="url(#ss)" opacity="0.42"/>
<rect x="530" y="71" width="1" height="26" fill="url(#ss)" opacity="0.16"/>
<rect x="532" y="67" width="1" height="27" fill="url(#ss)" opacity="0.24"/>
<rect x="535" y="64" width="1" height="26" fill="url(#ss)" opacity="0.18"/>
<rect x="541" y="60" width="1" height="18" fill="url(#ss)" opacity="0.45"/>
<rect x="216" y="39" width="1" height="11" fill="url(#hs)" opacity="0.86"/>
<rect x="326" y="39" width="1" height="25" fill="url(#hs)" opacity="0.69"/>
<rect x="96" y="39" width="1" height="27" fill="url(#hs)" opacity="0.58"/>
<rect x="172" y="39" width="1" height="27" fill="url(#hs)" opacity="0.72"/>
<rect x="79" y="39" width="1" height="11" fill="url(#hs)" opacity="0.69"/>
<rect x="84" y="39" width="1" height="14" fill="url(#hs)" opacity="0.58"/>
<rect x="325" y="39" width="1" height="14" fill="url(#hs)" opacity="0.64"/>
<rect x="141" y="39" width="1" height="25" fill="url(#hs)" opacity="0.95"/>
<rect x="537" y="39" width="1" height="17" fill="url(#hs)" opacity="0.55"/>
<rect x="281" y="39" width="1" height="22" fill="url(#hs)" opacity="0.94"/>
<rect x="357" y="39" width="1" height="12" fill="url(#hs)" opacity="0.70"/>
<rect x="421" y="39" width="1" height="20" fill="url(#hs)" opacity="0.59"/>
<rect x="126" y="39" width="1" height="16" fill="url(#hs)" opacity="0.89"/>
<rect x="295" y="39" width="1" height="25" fill="url(#hs)" opacity="0.83"/>
<rect x="297" y="39" width="1" height="21" fill="url(#hs)" opacity="0.60"/>
<rect x="183" y="39" width="1" height="22" fill="url(#hs)" opacity="0.76"/>
<rect x="312" y="39" width="1" height="12" fill="url(#hs)" opacity="0.86"/>
<rect x="469" y="39" width="1" height="13" fill="url(#hs)" opacity="0.56"/>
<rect x="385" y="39" width="1" height="14" fill="url(#hs)" opacity="0.60"/>
<rect x="370" y="39" width="1" height="18" fill="url(#hs)" opacity="0.77"/>
<rect x="460" y="39" width="1" height="23" fill="url(#hs)" opacity="0.61"/>
<rect x="336" y="39" width="1" height="27" fill="url(#hs)" opacity="0.93"/>
<rect x="384" y="39" width="1" height="27" fill="url(#hs)" opacity="0.91"/>
<rect x="201" y="39" width="1" height="19" fill="url(#hs)" opacity="0.91"/>
<rect x="423" y="39" width="1" height="24" fill="url(#hs)" opacity="0.95"/>
<rect x="349" y="39" width="1" height="27" fill="url(#hs)" opacity="0.60"/>
<rect x="422" y="39" width="1" height="22" fill="url(#hs)" opacity="0.57"/>
<rect x="449" y="39" width="1" height="21" fill="url(#hs)" opacity="0.50"/>
<rect x="213" y="39" width="1" height="11" fill="url(#hs)" opacity="0.52"/>
<rect x="343" y="39" width="1" height="27" fill="url(#hs)" opacity="0.55"/>
<rect x="455" y="39" width="1" height="21" fill="url(#hs)" opacity="0.75"/>
<rect x="422" y="39" width="1" height="10" fill="url(#hs)" opacity="0.65"/>
<rect x="102" y="39" width="1" height="13" fill="url(#hs)" opacity="0.58"/>
<rect x="156" y="39" width="1" height="13" fill="url(#hs)" opacity="0.84"/>
<rect x="205" y="39" width="1" height="16" fill="url(#hs)" opacity="0.60"/>
<rect x="208" y="39" width="1" height="13" fill="url(#hs)" opacity="0.57"/>
<rect x="466" y="39" width="1" height="24" fill="url(#hs)" opacity="0.63"/>
<rect x="466" y="39" width="1" height="12" fill="url(#hs)" opacity="0.84"/>
<rect x="359" y="39" width="1" height="16" fill="url(#hs)" opacity="0.68"/>
<rect x="266" y="39" width="1" height="15" fill="url(#hs)" opacity="0.58"/>
<rect x="286" y="39" width="1" height="15" fill="url(#hs)" opacity="0.74"/>
<rect x="497" y="39" width="1" height="16" fill="url(#hs)" opacity="0.59"/>
<rect x="232" y="39" width="1" height="15" fill="url(#hs)" opacity="0.90"/>
<rect x="429" y="39" width="1" height="22" fill="url(#hs)" opacity="0.74"/>
<rect x="81" y="39" width="1" height="20" fill="url(#hs)" opacity="0.92"/>
<rect x="434" y="39" width="1" height="19" fill="url(#hs)" opacity="0.99"/>
<rect x="137" y="39" width="1" height="19" fill="url(#hs)" opacity="0.96"/>
<rect x="138" y="39" width="1" height="19" fill="url(#hs)" opacity="0.60"/>
<rect x="530" y="39" width="1" height="11" fill="url(#hs)" opacity="0.86"/>
<rect x="539" y="39" width="1" height="27" fill="url(#hs)" opacity="0.96"/>
<rect x="226" y="39" width="1" height="24" fill="url(#hs)" opacity="0.63"/>
<rect x="344" y="39" width="1" height="13" fill="url(#hs)" opacity="0.51"/>
<rect x="339" y="39" width="1" height="14" fill="url(#hs)" opacity="0.56"/>
<rect x="254" y="39" width="1" height="18" fill="url(#hs)" opacity="0.62"/>
<rect x="262" y="39" width="1" height="25" fill="url(#hs)" opacity="0.53"/>
<rect x="349" y="39" width="1" height="12" fill="url(#hs)" opacity="0.75"/>
<rect x="176" y="39" width="1" height="15" fill="url(#hs)" opacity="0.77"/>
<rect x="428" y="39" width="1" height="15" fill="url(#hs)" opacity="0.63"/>
<rect x="298" y="39" width="1" height="26" fill="url(#hs)" opacity="0.98"/>
<rect x="143" y="39" width="1" height="20" fill="url(#hs)" opacity="0.67"/>
<rect x="467" y="39" width="1" height="20" fill="url(#hs)" opacity="0.63"/>
<rect x="203" y="39" width="1" height="27" fill="url(#hs)" opacity="0.88"/>
<rect x="186" y="39" width="1" height="10" fill="url(#hs)" opacity="0.56"/>
<rect x="447" y="39" width="1" height="19" fill="url(#hs)" opacity="0.85"/>
<rect x="160" y="39" width="1" height="27" fill="url(#hs)" opacity="0.66"/>
<rect x="118" y="39" width="1" height="25" fill="url(#hs)" opacity="0.77"/>
<rect x="79" y="39" width="1" height="11.4" fill="url(#tb2)"/>
<rect x="80" y="39" width="1" height="21.8" fill="url(#tb2)"/>
<rect x="81" y="39" width="1" height="12.1" fill="url(#tb2)"/>
<rect x="82" y="39" width="1" height="11.9" fill="url(#tb2)"/>
<rect x="83" y="39" width="1" height="13.0" fill="url(#tb2)"/>
<rect x="84" y="39" width="1" height="13.5" fill="url(#tb)"/>
<rect x="85" y="39" width="1" height="13.9" fill="url(#tb)"/>
<rect x="86" y="39" width="1" height="15.3" fill="url(#tb)"/>
<rect x="87" y="39" width="1" height="23.6" fill="url(#tb)"/>
<rect x="88" y="39" width="1" height="13.8" fill="url(#tb)"/>
<rect x="89" y="39" width="1" height="15.9" fill="url(#tb)"/>
<rect x="90" y="39" width="1" height="14.6" fill="url(#tb)"/>
<rect x="91" y="39" width="1" height="15.6" fill="url(#tb)"/>
<rect x="92" y="39" width="1" height="14.1" fill="url(#tb)"/>
<rect x="93" y="39" width="1" height="14.7" fill="url(#tb)"/>
<rect x="94" y="39" width="1" height="14.2" fill="url(#tb)"/>
<rect x="95" y="39" width="1" height="12.8" fill="url(#tb)"/>
<rect x="96" y="39" width="1" height="23.0" fill="url(#tb)"/>
<rect x="97" y="39" width="1" height="13.5" fill="url(#tb)"/>
<rect x="98" y="39" width="1" height="14.6" fill="url(#tb)"/>
<rect x="99" y="39" width="1" height="12.8" fill="url(#tb)"/>
<rect x="100" y="39" width="1" height="13.1" fill="url(#tb)"/>
<rect x="101" y="39" width="1" height="13.4" fill="url(#tb)"/>
<rect x="102" y="39" width="1" height="15.5" fill="url(#tb)"/>
<rect x="103" y="39" width="1" height="16.8" fill="url(#tb)"/>
<rect x="104" y="39" width="1" height="15.8" fill="url(#tb)"/>
<rect x="105" y="39" width="1" height="15.1" fill="url(#tb)"/>
<rect x="106" y="39" width="1" height="24.1" fill="url(#tb)"/>
<rect x="107" y="39" width="1" height="13.7" fill="url(#tb)"/>
<rect x="108" y="39" width="1" height="21.4" fill="url(#tb)"/>
<rect x="109" y="39" width="1" height="13.5" fill="url(#tb)"/>
<rect x="110" y="39" width="1" height="21.7" fill="url(#tb)"/>
<rect x="111" y="39" width="1" height="13.9" fill="url(#tb)"/>
<rect x="112" y="39" width="1" height="10.9" fill="url(#tb)"/>
<rect x="113" y="39" width="1" height="11.6" fill="url(#tb)"/>
<rect x="114" y="39" width="1" height="12.3" fill="url(#tb)"/>
<rect x="115" y="39" width="1" height="10.9" fill="url(#tb)"/>
<rect x="116" y="39" width="1" height="12.5" fill="url(#tb)"/>
<rect x="117" y="39" width="1" height="10.8" fill="url(#tb)"/>
<rect x="118" y="39" width="1" height="22.2" fill="url(#tb2)"/>
<rect x="119" y="39" width="1" height="10.7" fill="url(#tb2)"/>
<rect x="120" y="39" width="1" height="10.3" fill="url(#tb2)"/>
<rect x="121" y="39" width="1" height="8.9" fill="url(#tb2)"/>
<rect x="122" y="39" width="1" height="9.1" fill="url(#tb2)"/>
<rect x="123" y="39" width="1" height="9.2" fill="url(#tb2)"/>
<rect x="124" y="39" width="1" height="9.4" fill="url(#tb2)"/>
<rect x="125" y="39" width="1" height="14.9" fill="url(#tb2)"/>
<rect x="126" y="39" width="1" height="9.1" fill="url(#tb2)"/>
<rect x="127" y="39" width="1" height="8.7" fill="url(#tb)"/>
<rect x="128" y="39" width="1" height="8.2" fill="url(#tb)"/>
<rect x="129" y="39" width="1" height="8.6" fill="url(#tb)"/>
<rect x="130" y="39" width="1" height="8.2" fill="url(#tb)"/>
<rect x="131" y="39" width="1" height="8.4" fill="url(#tb)"/>
<rect x="132" y="39" width="1" height="12.8" fill="url(#tb)"/>
<rect x="133" y="39" width="1" height="8.8" fill="url(#tb)"/>
<rect x="134" y="39" width="1" height="8.9" fill="url(#tb)"/>
<rect x="135" y="39" width="1" height="10.3" fill="url(#tb)"/>
<rect x="136" y="39" width="1" height="9.7" fill="url(#tb)"/>
<rect x="137" y="39" width="1" height="11.4" fill="url(#tb)"/>
<rect x="138" y="39" width="1" height="10.9" fill="url(#tb)"/>
<rect x="139" y="39" width="1" height="14.2" fill="url(#tb)"/>
<rect x="140" y="39" width="1" height="13.2" fill="url(#tb)"/>
<rect x="141" y="39" width="1" height="12.5" fill="url(#tb)"/>
<rect x="142" y="39" width="1" height="11.8" fill="url(#tb)"/>
<rect x="143" y="39" width="1" height="11.6" fill="url(#tb)"/>
<rect x="144" y="39" width="1" height="12.1" fill="url(#tb)"/>
<rect x="145" y="39" width="1" height="11.9" fill="url(#tb)"/>
<rect x="146" y="39" width="1" height="12.1" fill="url(#tb)"/>
<rect x="147" y="39" width="1" height="10.9" fill="url(#tb)"/>
<rect x="148" y="39" width="1" height="9.8" fill="url(#tb)"/>
<rect x="149" y="39" width="1" height="10.1" fill="url(#tb)"/>
<rect x="150" y="39" width="1" height="10.4" fill="url(#tb)"/>
<rect x="151" y="39" width="1" height="11.2" fill="url(#tb)"/>
<rect x="152" y="39" width="1" height="10.0" fill="url(#tb)"/>
<rect x="153" y="39" width="1" height="10.7" fill="url(#tb)"/>
<rect x="154" y="39" width="1" height="9.3" fill="url(#tb)"/>
<rect x="155" y="39" width="1" height="10.4" fill="url(#tb2)"/>
<rect x="156" y="39" width="1" height="11.9" fill="url(#tb2)"/>
<rect x="157" y="39" width="1" height="9.8" fill="url(#tb2)"/>
<rect x="158" y="39" width="1" height="9.9" fill="url(#tb2)"/>
<rect x="159" y="39" width="1" height="11.7" fill="url(#tb2)"/>
<rect x="160" y="39" width="1" height="12.6" fill="url(#tb2)"/>
<rect x="161" y="39" width="1" height="12.1" fill="url(#tb2)"/>
<rect x="162" y="39" width="1" height="10.5" fill="url(#tb2)"/>
<rect x="163" y="39" width="1" height="16.0" fill="url(#tb2)"/>
<rect x="164" y="39" width="1" height="12.6" fill="url(#tb2)"/>
<rect x="165" y="39" width="1" height="12.3" fill="url(#tb2)"/>
<rect x="166" y="39" width="1" height="22.9" fill="url(#tb2)"/>
<rect x="167" y="39" width="1" height="13.2" fill="url(#tb2)"/>
<rect x="168" y="39" width="1" height="13.3" fill="url(#tb2)"/>
<rect x="169" y="39" width="1" height="13.2" fill="url(#tb2)"/>
<rect x="170" y="39" width="1" height="12.8" fill="url(#tb2)"/>
<rect x="171" y="39" width="1" height="12.2" fill="url(#tb2)"/>
<rect x="172" y="39" width="1" height="12.0" fill="url(#tb2)"/>
<rect x="173" y="39" width="1" height="12.2" fill="url(#tb2)"/>
<rect x="174" y="39" width="1" height="11.2" fill="url(#tb2)"/>
<rect x="175" y="39" width="1" height="11.6" fill="url(#tb2)"/>
<rect x="176" y="39" width="1" height="11.7" fill="url(#tb)"/>
<rect x="177" y="39" width="1" height="10.6" fill="url(#tb)"/>
<rect x="178" y="39" width="1" height="10.1" fill="url(#tb)"/>
<rect x="179" y="39" width="1" height="10.3" fill="url(#tb)"/>
<rect x="180" y="39" width="1" height="10.6" fill="url(#tb)"/>
<rect x="181" y="39" width="1" height="10.5" fill="url(#tb)"/>
<rect x="182" y="39" width="1" height="11.1" fill="url(#tb)"/>
<rect x="183" y="39" width="1" height="12.0" fill="url(#tb)"/>
<rect x="184" y="39" width="1" height="11.6" fill="url(#tb)"/>
<rect x="185" y="39" width="1" height="12.7" fill="url(#tb)"/>
<rect x="186" y="39" width="1" height="13.7" fill="url(#tb)"/>
<rect x="187" y="39" width="1" height="12.0" fill="url(#tb)"/>
<rect x="188" y="39" width="1" height="11.9" fill="url(#tb)"/>
<rect x="189" y="39" width="1" height="12.3" fill="url(#tb)"/>
<rect x="190" y="39" width="1" height="11.6" fill="url(#tb)"/>
<rect x="191" y="39" width="1" height="11.3" fill="url(#tb)"/>
<rect x="192" y="39" width="1" height="17.3" fill="url(#tb)"/>
<rect x="193" y="39" width="1" height="10.6" fill="url(#tb)"/>
<rect x="194" y="39" width="1" height="10.8" fill="url(#tb)"/>
<rect x="195" y="39" width="1" height="11.1" fill="url(#tb)"/>
<rect x="196" y="39" width="1" height="11.4" fill="url(#tb)"/>
<rect x="197" y="39" width="1" height="10.2" fill="url(#tb)"/>
<rect x="198" y="39" width="1" height="10.6" fill="url(#tb)"/>
<rect x="199" y="39" width="1" height="10.7" fill="url(#tb)"/>
<rect x="200" y="39" width="1" height="11.2" fill="url(#tb)"/>
<rect x="201" y="39" width="1" height="13.0" fill="url(#tb)"/>
<rect x="202" y="39" width="1" height="14.0" fill="url(#tb)"/>
<rect x="203" y="39" width="1" height="18.8" fill="url(#tb)"/>
<rect x="204" y="39" width="1" height="11.2" fill="url(#tb)"/>
<rect x="205" y="39" width="1" height="13.5" fill="url(#tb)"/>
<rect x="206" y="39" width="1" height="11.3" fill="url(#tb)"/>
<rect x="207" y="39" width="1" height="12.1" fill="url(#tb)"/>
<rect x="208" y="39" width="1" height="11.4" fill="url(#tb)"/>
<rect x="209" y="39" width="1" height="10.1" fill="url(#tb)"/>
<rect x="210" y="39" width="1" height="9.8" fill="url(#tb)"/>
<rect x="211" y="39" width="1" height="10.2" fill="url(#tb)"/>
<rect x="212" y="39" width="1" height="9.3" fill="url(#tb)"/>
<rect x="213" y="39" width="1" height="8.6" fill="url(#tb2)"/>
<rect x="214" y="39" width="1" height="10.4" fill="url(#tb2)"/>
<rect x="215" y="39" width="1" height="9.5" fill="url(#tb2)"/>
<rect x="216" y="39" width="1" height="10.3" fill="url(#tb2)"/>
<rect x="217" y="39" width="1" height="11.7" fill="url(#tb2)"/>
<rect x="218" y="39" width="1" height="10.2" fill="url(#tb2)"/>
<rect x="219" y="39" width="1" height="11.1" fill="url(#tb2)"/>
<rect x="220" y="39" width="1" height="19.2" fill="url(#tb2)"/>
<rect x="221" y="39" width="1" height="12.4" fill="url(#tb2)"/>
<rect x="222" y="39" width="1" height="11.9" fill="url(#tb2)"/>
<rect x="223" y="39" width="1" height="11.8" fill="url(#tb2)"/>
<rect x="224" y="39" width="1" height="19.3" fill="url(#tb2)"/>
<rect x="225" y="39" width="1" height="12.2" fill="url(#tb2)"/>
<rect x="226" y="39" width="1" height="12.2" fill="url(#tb2)"/>
<rect x="227" y="39" width="1" height="14.0" fill="url(#tb2)"/>
<rect x="228" y="39" width="1" height="11.9" fill="url(#tb)"/>
<rect x="229" y="39" width="1" height="22.4" fill="url(#tb)"/>
<rect x="230" y="39" width="1" height="13.0" fill="url(#tb)"/>
<rect x="231" y="39" width="1" height="12.0" fill="url(#tb)"/>
<rect x="232" y="39" width="1" height="13.8" fill="url(#tb)"/>
<rect x="233" y="39" width="1" height="13.6" fill="url(#tb)"/>
<rect x="234" y="39" width="1" height="11.9" fill="url(#tb)"/>
<rect x="235" y="39" width="1" height="12.5" fill="url(#tb)"/>
<rect x="236" y="39" width="1" height="12.7" fill="url(#tb)"/>
<rect x="237" y="39" width="1" height="11.8" fill="url(#tb)"/>
<rect x="238" y="39" width="1" height="13.5" fill="url(#tb)"/>
<rect x="239" y="39" width="1" height="11.5" fill="url(#tb)"/>
<rect x="240" y="39" width="1" height="11.0" fill="url(#tb2)"/>
<rect x="241" y="39" width="1" height="16.5" fill="url(#tb2)"/>
<rect x="242" y="39" width="1" height="10.5" fill="url(#tb2)"/>
<rect x="243" y="39" width="1" height="11.0" fill="url(#tb2)"/>
<rect x="244" y="39" width="1" height="11.2" fill="url(#tb2)"/>
<rect x="245" y="39" width="1" height="12.0" fill="url(#tb2)"/>
<rect x="246" y="39" width="1" height="12.4" fill="url(#tb2)"/>
<rect x="247" y="39" width="1" height="12.6" fill="url(#tb2)"/>
<rect x="248" y="39" width="1" height="14.4" fill="url(#tb2)"/>
<rect x="249" y="39" width="1" height="12.2" fill="url(#tb2)"/>
<rect x="250" y="39" width="1" height="12.4" fill="url(#tb2)"/>
<rect x="251" y="39" width="1" height="18.8" fill="url(#tb2)"/>
<rect x="252" y="39" width="1" height="11.7" fill="url(#tb2)"/>
<rect x="253" y="39" width="1" height="11.5" fill="url(#tb)"/>
<rect x="254" y="39" width="1" height="11.5" fill="url(#tb)"/>
<rect x="255" y="39" width="1" height="11.2" fill="url(#tb)"/>
<rect x="256" y="39" width="1" height="17.7" fill="url(#tb)"/>
<rect x="257" y="39" width="1" height="11.0" fill="url(#tb)"/>
<rect x="258" y="39" width="1" height="18.5" fill="url(#tb)"/>
<rect x="259" y="39" width="1" height="11.0" fill="url(#tb)"/>
<rect x="260" y="39" width="1" height="11.6" fill="url(#tb)"/>
<rect x="261" y="39" width="1" height="10.7" fill="url(#tb)"/>
<rect x="262" y="39" width="1" height="17.9" fill="url(#tb)"/>
<rect x="263" y="39" width="1" height="11.5" fill="url(#tb)"/>
<rect x="264" y="39" width="1" height="9.3" fill="url(#tb)"/>
<rect x="265" y="39" width="1" height="8.9" fill="url(#tb)"/>
<rect x="266" y="39" width="1" height="8.7" fill="url(#tb)"/>
<rect x="267" y="39" width="1" height="8.3" fill="url(#tb)"/>
<rect x="268" y="39" width="1" height="8.8" fill="url(#tb)"/>
<rect x="269" y="39" width="1" height="9.4" fill="url(#tb)"/>
<rect x="270" y="39" width="1" height="9.3" fill="url(#tb)"/>
<rect x="271" y="39" width="1" height="9.6" fill="url(#tb)"/>
<rect x="272" y="39" width="1" height="10.7" fill="url(#tb)"/>
<rect x="273" y="39" width="1" height="10.1" fill="url(#tb)"/>
<rect x="274" y="39" width="1" height="10.7" fill="url(#tb)"/>
<rect x="275" y="39" width="1" height="17.5" fill="url(#tb)"/>
<rect x="276" y="39" width="1" height="11.4" fill="url(#tb)"/>
<rect x="277" y="39" width="1" height="18.3" fill="url(#tb)"/>
<rect x="278" y="39" width="1" height="12.9" fill="url(#tb)"/>
<rect x="279" y="39" width="1" height="11.7" fill="url(#tb)"/>
<rect x="280" y="39" width="1" height="12.1" fill="url(#tb)"/>
<rect x="281" y="39" width="1" height="13.0" fill="url(#tb)"/>
<rect x="282" y="39" width="1" height="11.0" fill="url(#tb)"/>
<rect x="283" y="39" width="1" height="12.5" fill="url(#tb)"/>
<rect x="284" y="39" width="1" height="10.9" fill="url(#tb)"/>
<rect x="285" y="39" width="1" height="12.1" fill="url(#tb)"/>
<rect x="286" y="39" width="1" height="11.1" fill="url(#tb)"/>
<rect x="287" y="39" width="1" height="11.8" fill="url(#tb)"/>
<rect x="288" y="39" width="1" height="10.8" fill="url(#tb)"/>
<rect x="289" y="39" width="1" height="12.4" fill="url(#tb)"/>
<rect x="290" y="39" width="1" height="11.6" fill="url(#tb)"/>
<rect x="291" y="39" width="1" height="10.9" fill="url(#tb)"/>
<rect x="292" y="39" width="1" height="10.3" fill="url(#tb)"/>
<rect x="293" y="39" width="1" height="10.5" fill="url(#tb)"/>
<rect x="294" y="39" width="1" height="9.4" fill="url(#tb)"/>
<rect x="295" y="39" width="1" height="9.3" fill="url(#tb2)"/>
<rect x="296" y="39" width="1" height="9.2" fill="url(#tb2)"/>
<rect x="297" y="39" width="1" height="9.1" fill="url(#tb2)"/>
<rect x="298" y="39" width="1" height="8.9" fill="url(#tb2)"/>
<rect x="299" y="39" width="1" height="9.4" fill="url(#tb2)"/>
<rect x="300" y="39" width="1" height="8.7" fill="url(#tb2)"/>
<rect x="301" y="39" width="1" height="10.6" fill="url(#tb2)"/>
<rect x="302" y="39" width="1" height="10.8" fill="url(#tb2)"/>
<rect x="303" y="39" width="1" height="9.7" fill="url(#tb2)"/>
<rect x="304" y="39" width="1" height="10.9" fill="url(#tb2)"/>
<rect x="305" y="39" width="1" height="14.8" fill="url(#tb2)"/>
<rect x="306" y="39" width="1" height="9.2" fill="url(#tb2)"/>
<rect x="307" y="39" width="1" height="9.1" fill="url(#tb2)"/>
<rect x="308" y="39" width="1" height="15.5" fill="url(#tb2)"/>
<rect x="309" y="39" width="1" height="11.3" fill="url(#tb)"/>
<rect x="310" y="39" width="1" height="10.9" fill="url(#tb)"/>
<rect x="311" y="39" width="1" height="12.7" fill="url(#tb)"/>
<rect x="312" y="39" width="1" height="11.7" fill="url(#tb)"/>
<rect x="313" y="39" width="1" height="14.2" fill="url(#tb)"/>
<rect x="314" y="39" width="1" height="13.0" fill="url(#tb)"/>
<rect x="315" y="39" width="1" height="12.9" fill="url(#tb)"/>
<rect x="316" y="39" width="1" height="12.4" fill="url(#tb)"/>
<rect x="317" y="39" width="1" height="11.3" fill="url(#tb)"/>
<rect x="318" y="39" width="1" height="10.9" fill="url(#tb)"/>
<rect x="319" y="39" width="1" height="17.1" fill="url(#tb)"/>
<rect x="320" y="39" width="1" height="11.7" fill="url(#tb)"/>
<rect x="321" y="39" width="1" height="18.1" fill="url(#tb)"/>
<rect x="322" y="39" width="1" height="10.6" fill="url(#tb)"/>
<rect x="323" y="39" width="1" height="11.2" fill="url(#tb)"/>
<rect x="324" y="39" width="1" height="11.1" fill="url(#tb)"/>
<rect x="325" y="39" width="1" height="11.6" fill="url(#tb)"/>
<rect x="326" y="39" width="1" height="11.6" fill="url(#tb)"/>
<rect x="327" y="39" width="1" height="10.9" fill="url(#tb2)"/>
<rect x="328" y="39" width="1" height="12.3" fill="url(#tb2)"/>
<rect x="329" y="39" width="1" height="11.5" fill="url(#tb2)"/>
<rect x="330" y="39" width="1" height="11.9" fill="url(#tb2)"/>
<rect x="331" y="39" width="1" height="11.3" fill="url(#tb2)"/>
<rect x="332" y="39" width="1" height="18.9" fill="url(#tb2)"/>
<rect x="333" y="39" width="1" height="12.1" fill="url(#tb2)"/>
<rect x="334" y="39" width="1" height="12.0" fill="url(#tb2)"/>
<rect x="335" y="39" width="1" height="12.7" fill="url(#tb2)"/>
<rect x="336" y="39" width="1" height="12.6" fill="url(#tb2)"/>
<rect x="337" y="39" width="1" height="12.8" fill="url(#tb2)"/>
<rect x="338" y="39" width="1" height="12.0" fill="url(#tb2)"/>
<rect x="339" y="39" width="1" height="12.0" fill="url(#tb2)"/>
<rect x="340" y="39" width="1" height="12.0" fill="url(#tb2)"/>
<rect x="341" y="39" width="1" height="12.6" fill="url(#tb2)"/>
<rect x="342" y="39" width="1" height="13.5" fill="url(#tb2)"/>
<rect x="343" y="39" width="1" height="12.7" fill="url(#tb2)"/>
<rect x="344" y="39" width="1" height="13.9" fill="url(#tb2)"/>
<rect x="345" y="39" width="1" height="12.9" fill="url(#tb2)"/>
<rect x="346" y="39" width="1" height="12.6" fill="url(#tb2)"/>
<rect x="347" y="39" width="1" height="13.6" fill="url(#tb2)"/>
<rect x="348" y="39" width="1" height="12.8" fill="url(#tb2)"/>
<rect x="349" y="39" width="1" height="11.3" fill="url(#tb2)"/>
<rect x="350" y="39" width="1" height="11.5" fill="url(#tb2)"/>
<rect x="351" y="39" width="1" height="19.1" fill="url(#tb2)"/>
<rect x="352" y="39" width="1" height="12.1" fill="url(#tb2)"/>
<rect x="353" y="39" width="1" height="12.2" fill="url(#tb2)"/>
<rect x="354" y="39" width="1" height="13.7" fill="url(#tb2)"/>
<rect x="355" y="39" width="1" height="12.8" fill="url(#tb2)"/>
<rect x="356" y="39" width="1" height="12.8" fill="url(#tb2)"/>
<rect x="357" y="39" width="1" height="12.2" fill="url(#tb2)"/>
<rect x="358" y="39" width="1" height="12.9" fill="url(#tb2)"/>
<rect x="359" y="39" width="1" height="12.9" fill="url(#tb2)"/>
<rect x="360" y="39" width="1" height="12.5" fill="url(#tb2)"/>
<rect x="361" y="39" width="1" height="11.6" fill="url(#tb2)"/>
<rect x="362" y="39" width="1" height="11.6" fill="url(#tb2)"/>
<rect x="363" y="39" width="1" height="11.5" fill="url(#tb2)"/>
<rect x="364" y="39" width="1" height="11.8" fill="url(#tb2)"/>
<rect x="365" y="39" width="1" height="10.9" fill="url(#tb2)"/>
<rect x="366" y="39" width="1" height="11.8" fill="url(#tb2)"/>
<rect x="367" y="39" width="1" height="10.4" fill="url(#tb2)"/>
<rect x="368" y="39" width="1" height="9.7" fill="url(#tb2)"/>
<rect x="369" y="39" width="1" height="10.5" fill="url(#tb2)"/>
<rect x="370" y="39" width="1" height="16.3" fill="url(#tb2)"/>
<rect x="371" y="39" width="1" height="10.6" fill="url(#tb2)"/>
<rect x="372" y="39" width="1" height="11.3" fill="url(#tb2)"/>
<rect x="373" y="39" width="1" height="12.1" fill="url(#tb2)"/>
<rect x="374" y="39" width="1" height="11.4" fill="url(#tb2)"/>
<rect x="375" y="39" width="1" height="11.5" fill="url(#tb2)"/>
<rect x="376" y="39" width="1" height="19.2" fill="url(#tb2)"/>
<rect x="377" y="39" width="1" height="20.1" fill="url(#tb2)"/>
<rect x="378" y="39" width="1" height="12.3" fill="url(#tb)"/>
<rect x="379" y="39" width="1" height="13.9" fill="url(#tb)"/>
<rect x="380" y="39" width="1" height="18.6" fill="url(#tb0)"/>
<rect x="381" y="39" width="1" height="11.5" fill="url(#tb0)"/>
<rect x="382" y="39" width="1" height="11.5" fill="url(#tb0)"/>
<rect x="383" y="39" width="1" height="11.9" fill="url(#tb0)"/>
<rect x="384" y="39" width="1" height="10.4" fill="url(#tb0)"/>
<rect x="385" y="39" width="1" height="12.7" fill="url(#tb0)"/>
<rect x="386" y="39" width="1" height="12.3" fill="url(#tb0)"/>
<rect x="387" y="39" width="1" height="10.6" fill="url(#tb0)"/>
<rect x="388" y="39" width="1" height="10.5" fill="url(#tb0)"/>
<rect x="389" y="39" width="1" height="11.6" fill="url(#tb0)"/>
<rect x="390" y="39" width="1" height="11.8" fill="url(#tb0)"/>
<rect x="391" y="39" width="1" height="12.9" fill="url(#tb0)"/>
<rect x="392" y="39" width="1" height="12.9" fill="url(#tb0)"/>
<rect x="393" y="39" width="1" height="13.3" fill="url(#tb0)"/>
<rect x="394" y="39" width="1" height="12.7" fill="url(#tb0)"/>
<rect x="395" y="39" width="1" height="15.1" fill="url(#tb0)"/>
<rect x="396" y="39" width="1" height="13.5" fill="url(#tb0)"/>
<rect x="397" y="39" width="1" height="13.8" fill="url(#tb0)"/>
<rect x="398" y="39" width="1" height="13.5" fill="url(#tb0)"/>
<rect x="399" y="39" width="1" height="12.4" fill="url(#tb0)"/>
<rect x="400" y="39" width="1" height="13.0" fill="url(#tb0)"/>
<rect x="401" y="39" width="1" height="13.3" fill="url(#tb0)"/>
<rect x="402" y="39" width="1" height="13.0" fill="url(#tb0)"/>
<rect x="403" y="39" width="1" height="11.9" fill="url(#tb0)"/>
<rect x="404" y="39" width="1" height="12.2" fill="url(#tb0)"/>
<rect x="405" y="39" width="1" height="11.6" fill="url(#tb0)"/>
<rect x="406" y="39" width="1" height="11.4" fill="url(#tb0)"/>
<rect x="407" y="39" width="1" height="11.0" fill="url(#tb)"/>
<rect x="408" y="39" width="1" height="10.7" fill="url(#tb)"/>
<rect x="409" y="39" width="1" height="11.3" fill="url(#tb)"/>
<rect x="410" y="39" width="1" height="9.1" fill="url(#tb)"/>
<rect x="411" y="39" width="1" height="8.6" fill="url(#tb)"/>
<rect x="412" y="39" width="1" height="8.9" fill="url(#tb)"/>
<rect x="413" y="39" width="1" height="8.7" fill="url(#tb)"/>
<rect x="414" y="39" width="1" height="10.8" fill="url(#tb)"/>
<rect x="415" y="39" width="1" height="9.6" fill="url(#tb)"/>
<rect x="416" y="39" width="1" height="8.8" fill="url(#tb)"/>
<rect x="417" y="39" width="1" height="18.8" fill="url(#tb)"/>
<rect x="418" y="39" width="1" height="9.2" fill="url(#tb)"/>
<rect x="419" y="39" width="1" height="8.6" fill="url(#tb)"/>
<rect x="420" y="39" width="1" height="9.5" fill="url(#tb0)"/>
<rect x="421" y="39" width="1" height="8.9" fill="url(#tb0)"/>
<rect x="422" y="39" width="1" height="8.5" fill="url(#tb0)"/>
<rect x="423" y="39" width="1" height="15.2" fill="url(#tb0)"/>
<rect x="424" y="39" width="1" height="8.8" fill="url(#tb0)"/>
<rect x="425" y="39" width="1" height="9.1" fill="url(#tb0)"/>
<rect x="426" y="39" width="1" height="8.8" fill="url(#tb0)"/>
<rect x="427" y="39" width="1" height="11.9" fill="url(#tb0)"/>
<rect x="428" y="39" width="1" height="11.6" fill="url(#tb0)"/>
<rect x="429" y="39" width="1" height="11.6" fill="url(#tb0)"/>
<rect x="430" y="39" width="1" height="10.5" fill="url(#tb0)"/>
<rect x="431" y="39" width="1" height="9.1" fill="url(#tb0)"/>
<rect x="432" y="39" width="1" height="9.8" fill="url(#tb0)"/>
<rect x="433" y="39" width="1" height="12.5" fill="url(#tb0)"/>
<rect x="434" y="39" width="1" height="10.4" fill="url(#tb0)"/>
<rect x="435" y="39" width="1" height="11.9" fill="url(#tb0)"/>
<rect x="436" y="39" width="1" height="11.6" fill="url(#tb0)"/>
<rect x="437" y="39" width="1" height="13.1" fill="url(#tb0)"/>
<rect x="438" y="39" width="1" height="12.3" fill="url(#tb0)"/>
<rect x="439" y="39" width="1" height="12.4" fill="url(#tb0)"/>
<rect x="440" y="39" width="1" height="20.6" fill="url(#tb0)"/>
<rect x="441" y="39" width="1" height="12.2" fill="url(#tb0)"/>
<rect x="442" y="39" width="1" height="12.9" fill="url(#tb0)"/>
<rect x="443" y="39" width="1" height="11.7" fill="url(#tb0)"/>
<rect x="444" y="39" width="1" height="13.5" fill="url(#tb0)"/>
<rect x="445" y="39" width="1" height="12.8" fill="url(#tb0)"/>
<rect x="446" y="39" width="1" height="10.2" fill="url(#tb0)"/>
<rect x="447" y="39" width="1" height="11.2" fill="url(#tb0)"/>
<rect x="448" y="39" width="1" height="10.5" fill="url(#tb0)"/>
<rect x="449" y="39" width="1" height="10.5" fill="url(#tb0)"/>
<rect x="450" y="39" width="1" height="10.7" fill="url(#tb0)"/>
<rect x="451" y="39" width="1" height="10.4" fill="url(#tb0)"/>
<rect x="452" y="39" width="1" height="11.6" fill="url(#tb0)"/>
<rect x="453" y="39" width="1" height="10.7" fill="url(#tb0)"/>
<rect x="454" y="39" width="1" height="12.0" fill="url(#tb0)"/>
<rect x="455" y="39" width="1" height="11.1" fill="url(#tb0)"/>
<rect x="456" y="39" width="1" height="10.8" fill="url(#tb0)"/>
<rect x="457" y="39" width="1" height="11.4" fill="url(#tb0)"/>
<rect x="458" y="39" width="1" height="17.4" fill="url(#tb0)"/>
<rect x="459" y="39" width="1" height="12.0" fill="url(#tb0)"/>
<rect x="460" y="39" width="1" height="12.0" fill="url(#tb0)"/>
<rect x="461" y="39" width="1" height="11.3" fill="url(#tb0)"/>
<rect x="462" y="39" width="1" height="10.1" fill="url(#tb0)"/>
<rect x="463" y="39" width="1" height="11.3" fill="url(#tb0)"/>
<rect x="464" y="39" width="1" height="11.2" fill="url(#tb0)"/>
<rect x="465" y="39" width="1" height="10.0" fill="url(#tb0)"/>
<rect x="466" y="39" width="1" height="9.4" fill="url(#tb0)"/>
<rect x="467" y="39" width="1" height="9.5" fill="url(#tb0)"/>
<rect x="468" y="39" width="1" height="9.5" fill="url(#tb0)"/>
<rect x="469" y="39" width="1" height="9.5" fill="url(#tb0)"/>
<rect x="470" y="39" width="1" height="5.3" fill="url(#tb0)"/>
<rect x="471" y="39" width="1" height="5.1" fill="url(#tb0)"/>
<rect x="472" y="39" width="1" height="6.4" fill="url(#tb0)"/>
<rect x="473" y="39" width="1" height="6.3" fill="url(#tb0)"/>
<rect x="474" y="39" width="1" height="6.9" fill="url(#tb0)"/>
<rect x="475" y="39" width="1" height="6.0" fill="url(#tb0)"/>
<rect x="476" y="39" width="1" height="6.7" fill="url(#tb0)"/>
<rect x="477" y="39" width="1" height="6.1" fill="url(#tb0)"/>
<rect x="478" y="39" width="1" height="10.1" fill="url(#tb0)"/>
<rect x="479" y="39" width="1" height="5.7" fill="url(#tb0)"/>
<rect x="480" y="39" width="1" height="9.4" fill="url(#tb0)"/>
<rect x="481" y="39" width="1" height="5.6" fill="url(#tb0)"/>
<rect x="482" y="39" width="1" height="6.0" fill="url(#tb0)"/>
<rect x="483" y="39" width="1" height="5.2" fill="url(#tb0)"/>
<rect x="484" y="39" width="1" height="6.5" fill="url(#tb0)"/>
<rect x="485" y="39" width="1" height="6.5" fill="url(#tb0)"/>
<rect x="486" y="39" width="1" height="5.5" fill="url(#tb0)"/>
<rect x="487" y="39" width="1" height="5.8" fill="url(#tb0)"/>
<rect x="488" y="39" width="1" height="5.3" fill="url(#tb0)"/>
<rect x="489" y="39" width="1" height="5.5" fill="url(#tb0)"/>
<rect x="490" y="39" width="1" height="4.8" fill="url(#tb0)"/>
<rect x="491" y="39" width="1" height="5.0" fill="url(#tb0)"/>
<rect x="492" y="39" width="1" height="7.8" fill="url(#tb0)"/>
<rect x="493" y="39" width="1" height="5.2" fill="url(#tb0)"/>
<rect x="494" y="39" width="1" height="4.8" fill="url(#tb0)"/>
<rect x="495" y="39" width="1" height="6.3" fill="url(#tb0)"/>
<rect x="496" y="39" width="1" height="6.1" fill="url(#tb0)"/>
<rect x="497" y="39" width="1" height="6.3" fill="url(#tb0)"/>
<rect x="498" y="39" width="1" height="5.7" fill="url(#tb0)"/>
<rect x="499" y="39" width="1" height="5.3" fill="url(#tb0)"/>
<rect x="500" y="39" width="1" height="5.7" fill="url(#tb0)"/>
<rect x="501" y="39" width="1" height="6.3" fill="url(#tb0)"/>
<rect x="502" y="39" width="1" height="5.5" fill="url(#tb0)"/>
<rect x="503" y="39" width="1" height="9.3" fill="url(#tb0)"/>
<rect x="504" y="39" width="1" height="5.3" fill="url(#tb0)"/>
<rect x="505" y="39" width="1" height="5.3" fill="url(#tb0)"/>
<rect x="506" y="39" width="1" height="5.4" fill="url(#tb0)"/>
<rect x="507" y="39" width="1" height="5.5" fill="url(#tb0)"/>
<rect x="508" y="39" width="1" height="11.1" fill="url(#tb)"/>
<rect x="509" y="39" width="1" height="11.4" fill="url(#tb)"/>
<rect x="510" y="39" width="1" height="10.6" fill="url(#tb)"/>
<rect x="511" y="39" width="1" height="17.9" fill="url(#tb)"/>
<rect x="512" y="39" width="1" height="10.9" fill="url(#tb)"/>
<rect x="513" y="39" width="1" height="17.9" fill="url(#tb)"/>
<rect x="514" y="39" width="1" height="10.9" fill="url(#tb)"/>
<rect x="515" y="39" width="1" height="11.5" fill="url(#tb)"/>
<rect x="516" y="39" width="1" height="13.0" fill="url(#tb)"/>
<rect x="517" y="39" width="1" height="12.7" fill="url(#tb)"/>
<rect x="518" y="39" width="1" height="13.7" fill="url(#tb)"/>
<rect x="519" y="39" width="1" height="20.1" fill="url(#tb0)"/>
<rect x="520" y="39" width="1" height="20.5" fill="url(#tb0)"/>
<rect x="521" y="39" width="1" height="13.6" fill="url(#tb0)"/>
<rect x="522" y="39" width="1" height="21.6" fill="url(#tb0)"/>
<rect x="523" y="39" width="1" height="12.5" fill="url(#tb0)"/>
<rect x="524" y="39" width="1" height="13.8" fill="url(#tb0)"/>
<rect x="525" y="39" width="1" height="11.7" fill="url(#tb0)"/>
<rect x="526" y="39" width="1" height="11.4" fill="url(#tb0)"/>
<rect x="527" y="39" width="1" height="11.3" fill="url(#tb0)"/>
<rect x="528" y="39" width="1" height="13.6" fill="url(#tb0)"/>
<rect x="529" y="39" width="1" height="13.0" fill="url(#tb0)"/>
<rect x="530" y="39" width="1" height="12.3" fill="url(#tb0)"/>
<rect x="531" y="39" width="1" height="14.0" fill="url(#tb0)"/>
<rect x="532" y="39" width="1" height="13.4" fill="url(#tb0)"/>
<rect x="533" y="39" width="1" height="11.7" fill="url(#tb0)"/>
<rect x="534" y="39" width="1" height="12.8" fill="url(#tb0)"/>
<rect x="535" y="39" width="1" height="15.2" fill="url(#tb0)"/>
<rect x="536" y="39" width="1" height="15.1" fill="url(#tb0)"/>
<rect x="537" y="39" width="1" height="12.6" fill="url(#tb0)"/>
<rect x="538" y="39" width="1" height="13.6" fill="url(#tb0)"/>
<rect x="539" y="39" width="1" height="20.5" fill="url(#tb0)"/>
<rect x="540" y="39" width="1" height="14.0" fill="url(#tb0)"/>
<rect x="541" y="39" width="1" height="15.2" fill="url(#tb0)"/>
<rect x="542" y="39" width="1" height="12.2" fill="url(#tb0)"/>
<rect x="87" y="39" width="1" height="5.1" fill="url(#tc)"/>
<rect x="88" y="39" width="1" height="6.7" fill="url(#tc)"/>
<rect x="89" y="39" width="1" height="7.9" fill="url(#tc)"/>
<rect x="90" y="39" width="1" height="11.3" fill="url(#tc)"/>
<rect x="91" y="39" width="1" height="10.4" fill="url(#tc)"/>
<rect x="92" y="39" width="1" height="10.2" fill="url(#tc)"/>
<rect x="93" y="39" width="1" height="9.9" fill="url(#tc)"/>
<rect x="94" y="39" width="1" height="13.0" fill="url(#tc)"/>
<rect x="95" y="39" width="1" height="30.0" fill="url(#tc)"/>
<rect x="96" y="39" width="1" height="13.9" fill="url(#tc)"/>
<rect x="97" y="39" width="1" height="8.1" fill="url(#tc)"/>
<rect x="98" y="39" width="1" height="5.5" fill="url(#tc)"/>
<rect x="99" y="39" width="1" height="4.7" fill="url(#tc)"/>
<rect x="266" y="39" width="1" height="3.3" fill="url(#tc)"/>
<rect x="267" y="39" width="1" height="4.5" fill="url(#tc)"/>
<rect x="268" y="39" width="1" height="4.7" fill="url(#tc)"/>
<rect x="269" y="39" width="1" height="6.6" fill="url(#tc)"/>
<rect x="270" y="39" width="1" height="7.1" fill="url(#tc)"/>
<rect x="271" y="39" width="1" height="5.5" fill="url(#tc)"/>
<rect x="272" y="39" width="1" height="6.2" fill="url(#tc)"/>
<rect x="274" y="39" width="1" height="7.2" fill="url(#tc)"/>
<rect x="275" y="39" width="1" height="6.6" fill="url(#tc)"/>
<rect x="277" y="39" width="1" height="5.2" fill="url(#tc)"/>
<rect x="278" y="39" width="1" height="4.1" fill="url(#tc)"/>
</g>
<rect x="133" y="130" width="1" height="54" fill="#fff"/>
<rect x="149" y="157" width="1" height="27" fill="#fff"/>
<rect x="167" y="142" width="1" height="42" fill="#fff"/>
<rect x="177" y="145" width="1" height="39" fill="#fff"/>
<rect x="359" y="130" width="1" height="22" fill="#fff"/>
<rect x="362" y="139" width="1" height="45" fill="#fff"/>
<rect x="371" y="142" width="1" height="42" fill="#fff"/>
<rect x="372" y="175" width="1" height="9" fill="#fff"/>
<rect x="375" y="160" width="1" height="24" fill="#fff"/>
<rect x="379" y="160" width="2" height="24" fill="#fff"/>
<rect x="394" y="181" width="1" height="3" fill="#fff"/>
<rect x="397" y="130" width="1" height="54" fill="#fff"/>
<rect x="399" y="163" width="1" height="21" fill="#fff"/>
<rect x="405" y="133" width="1" height="51" fill="#fff"/>
<rect x="408" y="181" width="1" height="3" fill="#fff"/>
<rect x="411.5" y="110" width="1.5" height="74" fill="#fff"/>
<rect x="460" y="169" width="1" height="15" fill="#fff"/>
<rect x="503.5" y="39" width="1" height="32" fill="#fff"/>
<rect x="503.5" y="86" width="1" height="30" fill="#fff"/>
<rect x="512" y="77" width="1" height="31" fill="#fff"/>
<rect x="80" y="39" width="1" height="2" fill="#fff"/>
<rect x="83" y="39" width="1" height="2" fill="#fff"/>
<rect x="86" y="39" width="1" height="2" fill="#fff"/>
<rect x="142" y="39" width="1" height="3" fill="#fff"/>
<rect x="380" y="41" width="1" height="5" fill="#fff"/>
<rect x="134" y="182" width="1" height="3" fill="#fff"/>
<rect x="137" y="182" width="1" height="3" fill="#fff"/>
<rect x="139" y="181" width="1" height="3" fill="#fff"/>
<rect x="142" y="182" width="1" height="3" fill="#fff"/>
<rect x="144" y="182" width="1" height="3" fill="#fff"/>
<rect x="145" y="181" width="1" height="3" fill="#fff"/>
<rect x="148" y="181" width="1" height="3" fill="#fff"/>
<rect x="150" y="181" width="1" height="3" fill="#fff"/>
<rect x="155" y="181.5" width="1" height="3" fill="#fff"/>
<rect x="156" y="181" width="1" height="3" fill="#fff"/>
<rect x="157" y="181.5" width="2" height="3" fill="#fff"/>
<rect x="161" y="181.5" width="1" height="3" fill="#fff"/>
<rect x="166" y="181" width="2" height="3" fill="#fff"/>
<rect x="177" y="181" width="1" height="3" fill="#fff"/>
<rect x="182" y="181.5" width="1" height="3" fill="#fff"/>
<rect x="183" y="181" width="1" height="3" fill="#fff"/>
<rect x="192" y="181" width="2" height="3" fill="#fff"/>
<rect x="193" y="181.5" width="1" height="3" fill="#fff"/>
<rect x="194" y="181" width="1" height="3" fill="#fff"/>
<rect x="198" y="181.5" width="1" height="3" fill="#fff"/>
<rect x="201" y="181" width="1" height="3" fill="#fff"/>
<rect x="203" y="181" width="2" height="3" fill="#fff"/>
<rect x="206" y="181.5" width="1" height="3" fill="#fff"/>
<rect x="207" y="182" width="1" height="3" fill="#fff"/>
<rect x="208" y="181" width="2" height="3" fill="#fff"/>
<rect x="213" y="182" width="1" height="3" fill="#fff"/>
<rect x="214" y="181" width="2" height="3" fill="#fff"/>
<rect x="217" y="182" width="1" height="3" fill="#fff"/>
<rect x="221" y="181.5" width="2" height="3" fill="#fff"/>
<rect x="223" y="181.5" width="1" height="3" fill="#fff"/>
<rect x="227" y="181.5" width="1" height="3" fill="#fff"/>
<rect x="230" y="181.5" width="1" height="3" fill="#fff"/>
<rect x="373" y="181.5" width="1" height="3" fill="#fff"/>
<rect x="374" y="181" width="2" height="3" fill="#fff"/>
<rect x="384" y="181" width="1" height="3" fill="#fff"/>
<rect x="385" y="182" width="2" height="3" fill="#fff"/>
<rect x="387" y="181" width="2" height="3" fill="#fff"/>
<rect x="391" y="181" width="1" height="3" fill="#fff"/>
<rect x="393" y="181" width="2" height="3" fill="#fff"/>
<rect x="394" y="182" width="1" height="3" fill="#fff"/>
<rect x="398" y="181.5" width="1" height="3" fill="#fff"/>
<rect x="408" y="181.5" width="2" height="3" fill="#fff"/>
<rect x="409" y="181.5" width="1" height="3" fill="#fff"/>
<rect x="414" y="182" width="2" height="3" fill="#fff"/>
<rect x="416" y="181" width="2" height="3" fill="#fff"/>
<rect x="417" y="181" width="1" height="3" fill="#fff"/>
<rect x="418" y="181" width="1" height="3" fill="#fff"/>
<rect x="423" y="181.5" width="1" height="3" fill="#fff"/>
<rect x="429" y="181.5" width="1" height="3" fill="#fff"/>
<rect x="430" y="181" width="1" height="3" fill="#fff"/>
<rect x="434" y="181" width="1" height="3" fill="#fff"/>
<rect x="437" y="181" width="1" height="3" fill="#fff"/>
<rect x="439" y="181.5" width="1" height="3" fill="#fff"/>
<rect x="442" y="181.5" width="1" height="3" fill="#fff"/>
<rect x="444" y="182" width="2" height="3" fill="#fff"/>
<rect x="450" y="181" width="1" height="3" fill="#fff"/>
<rect x="451" y="181.5" width="2" height="3" fill="#fff"/>
<rect x="452" y="181" width="1" height="3" fill="#fff"/>
<rect x="456" y="181" width="1" height="3" fill="#fff"/>
<rect x="459" y="181" width="1" height="3" fill="#fff"/>
<rect x="475" y="182" width="2" height="3" fill="#fff"/>
<rect x="476" y="182" width="1" height="3" fill="#fff"/>
<rect x="477" y="182" width="2" height="3" fill="#fff"/>
<rect x="481" y="181" width="1" height="3" fill="#fff"/>
<rect x="483" y="181" width="1" height="3" fill="#fff"/>
<rect x="485" y="182" width="1" height="3" fill="#fff"/>
<rect x="488" y="181" width="1" height="3" fill="#fff"/>
<rect x="77.5" y="38.5" width="466.0" height="149.0" fill="none" stroke="#000" stroke-width="1"/>
<line x1="77.5" y1="187.5" x2="77.5" y2="182.0" stroke="#000"/>
<text x="76.8" y="203.5" text-anchor="middle" textLength="7" lengthAdjust="spacingAndGlyphs" class="t">0</text>
<line x1="132.5" y1="187.5" x2="132.5" y2="182.0" stroke="#000"/>
<text x="131.8" y="203.5" text-anchor="middle" textLength="14" lengthAdjust="spacingAndGlyphs" class="t">50</text>
<line x1="186.5" y1="187.5" x2="186.5" y2="182.0" stroke="#000"/>
<text x="185.8" y="203.5" text-anchor="middle" textLength="21" lengthAdjust="spacingAndGlyphs" class="t">100</text>
<line x1="241.5" y1="187.5" x2="241.5" y2="182.0" stroke="#000"/>
<text x="240.8" y="203.5" text-anchor="middle" textLength="21" lengthAdjust="spacingAndGlyphs" class="t">150</text>
<line x1="295.5" y1="187.5" x2="295.5" y2="182.0" stroke="#000"/>
<text x="294.8" y="203.5" text-anchor="middle" textLength="21" lengthAdjust="spacingAndGlyphs" class="t">200</text>
<line x1="350.5" y1="187.5" x2="350.5" y2="182.0" stroke="#000"/>
<text x="349.8" y="203.5" text-anchor="middle" textLength="21" lengthAdjust="spacingAndGlyphs" class="t">250</text>
<line x1="404.5" y1="187.5" x2="404.5" y2="182.0" stroke="#000"/>
<text x="403.8" y="203.5" text-anchor="middle" textLength="21" lengthAdjust="spacingAndGlyphs" class="t">300</text>
<line x1="459.5" y1="187.5" x2="459.5" y2="182.0" stroke="#000"/>
<text x="458.8" y="203.5" text-anchor="middle" textLength="21" lengthAdjust="spacingAndGlyphs" class="t">350</text>
<line x1="513.5" y1="187.5" x2="513.5" y2="182.0" stroke="#000"/>
<text x="512.8" y="203.5" text-anchor="middle" textLength="21" lengthAdjust="spacingAndGlyphs" class="t">400</text>
<line x1="77.5" y1="38.5" x2="83.0" y2="38.5" stroke="#000"/>
<text x="74.4" y="43.0" text-anchor="end" textLength="7" lengthAdjust="spacingAndGlyphs" class="t">0</text>
<line x1="77.5" y1="74.5" x2="83.0" y2="74.5" stroke="#000"/>
<text x="74.4" y="79.0" text-anchor="end" textLength="14" lengthAdjust="spacingAndGlyphs" class="t">50</text>
<line x1="77.5" y1="111.5" x2="83.0" y2="111.5" stroke="#000"/>
<line x1="543.5" y1="111.5" x2="538.0" y2="111.5" stroke="#000"/>
<text x="74.4" y="116.0" text-anchor="end" textLength="21" lengthAdjust="spacingAndGlyphs" class="t">100</text>
<line x1="77.5" y1="148.5" x2="83.0" y2="148.5" stroke="#000"/>
<line x1="543.5" y1="148.5" x2="538.0" y2="148.5" stroke="#000"/>
<text x="74.4" y="153.0" text-anchor="end" textLength="21" lengthAdjust="spacingAndGlyphs" class="t">150</text>
<line x1="77.5" y1="185.5" x2="83.0" y2="185.5" stroke="#000"/>
<line x1="543.5" y1="185.5" x2="538.0" y2="185.5" stroke="#000"/>
<text x="74.4" y="190.0" text-anchor="end" textLength="21" lengthAdjust="spacingAndGlyphs" class="t">200</text>
<line x1="132.5" y1="398.5" x2="132.5" y2="252.5" stroke="#000" stroke-width="1" stroke-dasharray="1 4"/>
<line x1="186.5" y1="398.5" x2="186.5" y2="252.5" stroke="#000" stroke-width="1" stroke-dasharray="1 4"/>
<line x1="241.5" y1="398.5" x2="241.5" y2="252.5" stroke="#000" stroke-width="1" stroke-dasharray="1 4"/>
<line x1="295.5" y1="398.5" x2="295.5" y2="252.5" stroke="#000" stroke-width="1" stroke-dasharray="1 4"/>
<line x1="350.5" y1="398.5" x2="350.5" y2="252.5" stroke="#000" stroke-width="1" stroke-dasharray="1 4"/>
<line x1="404.5" y1="398.5" x2="404.5" y2="252.5" stroke="#000" stroke-width="1" stroke-dasharray="1 4"/>
<line x1="459.5" y1="398.5" x2="459.5" y2="252.5" stroke="#000" stroke-width="1" stroke-dasharray="1 4"/>
<line x1="513.5" y1="398.5" x2="513.5" y2="252.5" stroke="#000" stroke-width="1" stroke-dasharray="1 4"/>
<line x1="84" y1="288.5" x2="543.5" y2="288.5" stroke="#000" stroke-width="1" stroke-dasharray="1 4"/>
<line x1="84" y1="325.5" x2="543.5" y2="325.5" stroke="#000" stroke-width="1" stroke-dasharray="1 4"/>
<line x1="84" y1="362.5" x2="543.5" y2="362.5" stroke="#000" stroke-width="1" stroke-dasharray="1 4"/>
<line x1="84" y1="399.5" x2="543.5" y2="399.5" stroke="#000" stroke-width="1" stroke-dasharray="1 4"/>
<rect x="77.5" y="252.5" width="466.0" height="149.0" fill="none" stroke="#000" stroke-width="1"/>
<line x1="77.5" y1="401.5" x2="77.5" y2="396.0" stroke="#000"/>
<text x="76.8" y="417.5" text-anchor="middle" textLength="7" lengthAdjust="spacingAndGlyphs" class="t">0</text>
<line x1="132.5" y1="401.5" x2="132.5" y2="396.0" stroke="#000"/>
<text x="131.8" y="417.5" text-anchor="middle" textLength="14" lengthAdjust="spacingAndGlyphs" class="t">50</text>
<line x1="186.5" y1="401.5" x2="186.5" y2="396.0" stroke="#000"/>
<text x="185.8" y="417.5" text-anchor="middle" textLength="21" lengthAdjust="spacingAndGlyphs" class="t">100</text>
<line x1="241.5" y1="401.5" x2="241.5" y2="396.0" stroke="#000"/>
<text x="240.8" y="417.5" text-anchor="middle" textLength="21" lengthAdjust="spacingAndGlyphs" class="t">150</text>
<line x1="295.5" y1="401.5" x2="295.5" y2="396.0" stroke="#000"/>
<text x="294.8" y="417.5" text-anchor="middle" textLength="21" lengthAdjust="spacingAndGlyphs" class="t">200</text>
<line x1="350.5" y1="401.5" x2="350.5" y2="396.0" stroke="#000"/>
<text x="349.8" y="417.5" text-anchor="middle" textLength="21" lengthAdjust="spacingAndGlyphs" class="t">250</text>
<line x1="404.5" y1="401.5" x2="404.5" y2="396.0" stroke="#000"/>
<text x="403.8" y="417.5" text-anchor="middle" textLength="21" lengthAdjust="spacingAndGlyphs" class="t">300</text>
<line x1="459.5" y1="401.5" x2="459.5" y2="396.0" stroke="#000"/>
<text x="458.8" y="417.5" text-anchor="middle" textLength="21" lengthAdjust="spacingAndGlyphs" class="t">350</text>
<line x1="513.5" y1="401.5" x2="513.5" y2="396.0" stroke="#000"/>
<text x="512.8" y="417.5" text-anchor="middle" textLength="21" lengthAdjust="spacingAndGlyphs" class="t">400</text>
<line x1="77.5" y1="252.5" x2="83.0" y2="252.5" stroke="#000"/>
<text x="74.4" y="257.0" text-anchor="end" textLength="7" lengthAdjust="spacingAndGlyphs" class="t">0</text>
<line x1="77.5" y1="288.5" x2="83.0" y2="288.5" stroke="#000"/>
<text x="74.4" y="293.0" text-anchor="end" textLength="14" lengthAdjust="spacingAndGlyphs" class="t">50</text>
<line x1="77.5" y1="325.5" x2="83.0" y2="325.5" stroke="#000"/>
<line x1="543.5" y1="325.5" x2="538.0" y2="325.5" stroke="#000"/>
<text x="74.4" y="330.0" text-anchor="end" textLength="21" lengthAdjust="spacingAndGlyphs" class="t">100</text>
<line x1="77.5" y1="362.5" x2="83.0" y2="362.5" stroke="#000"/>
<line x1="543.5" y1="362.5" x2="538.0" y2="362.5" stroke="#000"/>
<text x="74.4" y="367.0" text-anchor="end" textLength="21" lengthAdjust="spacingAndGlyphs" class="t">150</text>
<line x1="77.5" y1="399.5" x2="83.0" y2="399.5" stroke="#000"/>
<line x1="543.5" y1="399.5" x2="538.0" y2="399.5" stroke="#000"/>
<text x="74.4" y="404.0" text-anchor="end" textLength="21" lengthAdjust="spacingAndGlyphs" class="t">200</text>
<g clip-path="url(#c2)">
<rect x="77" y="250" width="468" height="151" fill="url(#g2)"/>
<rect x="77" y="250" width="58" height="150" fill="url(#hl2)"/>
<rect x="470" y="250" width="75" height="150" fill="url(#hr)"/>
<g filter="url(#bl)"><path d="M77.0,287.0 L79.0,288.5 L81.5,291.0 L85.0,297.0 L90.0,303.0 L95.0,309.0 L100.0,314.5 L102.0,318.0 L105.0,325.0 L107.0,328.0 L110.0,333.0 L113.0,340.0 L119.0,352.0 L123.0,360.0 L125.0,366.0 L126.0,372.0 M239.0,378.0 L241.0,366.0 L243.0,360.0 L245.0,356.0 L247.0,362.0 L249.0,360.0 L251.0,390.0 L253.0,365.0 L254.0,360.0 L255.5,362.0 L257.0,358.0 L260.0,346.0 L265.0,334.0 L269.0,326.0 L272.0,320.0 L276.0,316.0 L281.0,310.0 L286.0,303.0 L290.0,297.0 L294.0,291.0 L297.0,287.0 L300.0,284.0 L303.0,289.0 L306.0,287.0 L310.0,285.0 L311.6,277.0 L312.0,270.5 L314.0,270.5 L314.6,279.0 L315.5,287.0 L319.0,289.0 L324.0,301.0 L329.0,306.0 L334.0,311.0 L338.0,313.0 L342.0,315.0 L345.0,321.0 L348.0,327.0 L350.0,332.0 L353.0,341.0 L355.0,348.0 L357.0,358.0 L359.0,368.0 L361.0,381.0 M490.0,384.0 L491.5,374.0 L493.0,364.0 L494.0,351.0 L495.5,352.0 L497.0,358.0 L499.0,352.0 L502.0,348.0 L503.5,340.0 L505.0,333.0 L508.0,324.0 L511.0,320.0 L514.0,319.0 L520.0,320.0 L522.0,318.0 L526.0,313.0 L529.0,309.0 L534.0,301.0 L537.0,296.0 L540.0,291.0 L543.0,283.0 L544.0,281.0" fill="none" stroke="url(#gg2)" stroke-width="16" stroke-linejoin="round"/></g>
<ellipse cx="420" cy="274" rx="70" ry="40" fill="url(#rm)" opacity="0.6"/>
<rect x="404" y="273" width="1" height="54" fill="#0018ff" opacity="0.10"/>
<rect x="423" y="350" width="1" height="28" fill="#0018ff" opacity="0.09"/>
<rect x="188" y="288" width="2" height="45" fill="#0018ff" opacity="0.19"/>
<rect x="356" y="293" width="1" height="31" fill="#0018ff" opacity="0.22"/>
<rect x="434" y="311" width="1" height="25" fill="#0018ff" opacity="0.20"/>
<rect x="124" y="294" width="1" height="30" fill="#0018ff" opacity="0.12"/>
<rect x="450" y="316" width="1" height="16" fill="#000078" opacity="0.09"/>
<rect x="501" y="308" width="1" height="37" fill="#0018ff" opacity="0.11"/>
<rect x="100" y="288" width="1" height="22" fill="#000078" opacity="0.18"/>
<rect x="271" y="273" width="1" height="34" fill="#0018ff" opacity="0.14"/>
<rect x="420" y="292" width="1" height="66" fill="#000078" opacity="0.15"/>
<rect x="350" y="303" width="2" height="11" fill="#0018ff" opacity="0.24"/>
<rect x="429" y="328" width="1" height="48" fill="#000078" opacity="0.17"/>
<rect x="497" y="262" width="2" height="28" fill="#0018ff" opacity="0.11"/>
<rect x="525" y="290" width="2" height="11" fill="#0018ff" opacity="0.22"/>
<rect x="311" y="260" width="2" height="10" fill="#000078" opacity="0.14"/>
<rect x="376" y="312" width="1" height="44" fill="#0018ff" opacity="0.24"/>
<rect x="337" y="279" width="1" height="27" fill="#000078" opacity="0.10"/>
<rect x="482" y="343" width="1" height="34" fill="#0018ff" opacity="0.18"/>
<rect x="347" y="273" width="1" height="33" fill="#000078" opacity="0.16"/>
<rect x="426" y="368" width="1" height="22" fill="#000078" opacity="0.12"/>
<rect x="299" y="261" width="2" height="8" fill="#000078" opacity="0.17"/>
<rect x="467" y="281" width="2" height="65" fill="#000078" opacity="0.12"/>
<rect x="336" y="284" width="2" height="11" fill="#000078" opacity="0.14"/>
<rect x="77" y="269" width="1" height="13" fill="#0018ff" opacity="0.14"/>
<rect x="199" y="266" width="1" height="62" fill="#000078" opacity="0.09"/>
<rect x="494" y="265" width="1" height="55" fill="#000078" opacity="0.10"/>
<rect x="358" y="274" width="2" height="41" fill="#000078" opacity="0.20"/>
<rect x="463" y="349" width="2" height="15" fill="#0018ff" opacity="0.24"/>
<rect x="268" y="284" width="1" height="27" fill="#0018ff" opacity="0.12"/>
<rect x="87" y="276" width="2" height="12" fill="#0018ff" opacity="0.09"/>
<rect x="107" y="272" width="1" height="51" fill="#000078" opacity="0.09"/>
<rect x="219" y="341" width="2" height="18" fill="#0018ff" opacity="0.23"/>
<rect x="372" y="317" width="1" height="57" fill="#000078" opacity="0.10"/>
<rect x="414" y="312" width="2" height="34" fill="#0018ff" opacity="0.20"/>
<rect x="411" y="380" width="1" height="9" fill="#0018ff" opacity="0.13"/>
<rect x="204" y="283" width="1" height="41" fill="#0018ff" opacity="0.11"/>
<rect x="204" y="367" width="1" height="9" fill="#000078" opacity="0.18"/>
<rect x="102" y="290" width="1" height="19" fill="#0018ff" opacity="0.09"/>
<rect x="162" y="309" width="1" height="38" fill="#000078" opacity="0.19"/>
<rect x="271" y="259" width="1" height="29" fill="#000078" opacity="0.17"/>
<rect x="293" y="274" width="1" height="16" fill="#000078" opacity="0.16"/>
<rect x="156" y="282" width="1" height="21" fill="#0018ff" opacity="0.20"/>
<rect x="459" y="298" width="2" height="11" fill="#0018ff" opacity="0.23"/>
<rect x="157" y="266" width="1" height="39" fill="#000078" opacity="0.09"/>
<rect x="422" y="365" width="2" height="16" fill="#000078" opacity="0.15"/>
<rect x="381" y="264" width="1" height="13" fill="#000078" opacity="0.15"/>
<rect x="210" y="284" width="2" height="52" fill="#0018ff" opacity="0.14"/>
<rect x="407" y="296" width="1" height="28" fill="#000078" opacity="0.09"/>
<rect x="395" y="382" width="1" height="12" fill="#0018ff" opacity="0.11"/>
<rect x="144" y="374" width="1" height="19" fill="#000078" opacity="0.12"/>
<rect x="301" y="271" width="2" height="13" fill="#000078" opacity="0.20"/>
<rect x="347" y="259" width="1" height="55" fill="#0018ff" opacity="0.19"/>
<rect x="212" y="273" width="2" height="15" fill="#0018ff" opacity="0.12"/>
<rect x="184" y="347" width="1" height="16" fill="#000078" opacity="0.11"/>
<rect x="205" y="370" width="1" height="21" fill="#0018ff" opacity="0.15"/>
<rect x="99" y="259" width="2" height="44" fill="#000078" opacity="0.11"/>
<rect x="303" y="269" width="2" height="13" fill="#0018ff" opacity="0.09"/>
<rect x="539" y="262" width="1" height="9" fill="#0018ff" opacity="0.17"/>
<rect x="142" y="264" width="1" height="31" fill="#000078" opacity="0.20"/>
<rect x="537" y="268" width="2" height="22" fill="#000078" opacity="0.12"/>
<rect x="529" y="292" width="1" height="17" fill="#000078" opacity="0.19"/>
<rect x="519" y="267" width="1" height="44" fill="#0018ff" opacity="0.15"/>
<rect x="454" y="373" width="2" height="18" fill="#0018ff" opacity="0.19"/>
<rect x="492" y="284" width="1" height="18" fill="#000078" opacity="0.13"/>
<rect x="516" y="282" width="1" height="14" fill="#000078" opacity="0.12"/>
<rect x="191" y="262" width="1" height="20" fill="#0018ff" opacity="0.22"/>
<rect x="256" y="317" width="1" height="22" fill="#000078" opacity="0.14"/>
<rect x="136" y="367" width="1" height="13" fill="#0018ff" opacity="0.24"/>
<rect x="132" y="332" width="2" height="27" fill="#000078" opacity="0.13"/>
<rect x="136" y="306" width="1" height="44" fill="#0018ff" opacity="0.19"/>
<rect x="343" y="302" width="2" height="12" fill="#000078" opacity="0.17"/>
<rect x="177" y="304" width="1" height="12" fill="#000078" opacity="0.12"/>
<rect x="416" y="363" width="1" height="24" fill="#0018ff" opacity="0.13"/>
<rect x="244" y="294" width="1" height="25" fill="#0018ff" opacity="0.15"/>
<rect x="423" y="351" width="1" height="14" fill="#0018ff" opacity="0.14"/>
<rect x="232" y="294" width="1" height="35" fill="#0018ff" opacity="0.18"/>
<rect x="303" y="267" width="2" height="11" fill="#0018ff" opacity="0.22"/>
<rect x="163" y="340" width="1" height="21" fill="#000078" opacity="0.15"/>
<rect x="496" y="338" width="1" height="10" fill="#0018ff" opacity="0.21"/>
<rect x="89" y="260" width="1" height="41" fill="#000078" opacity="0.17"/>
<rect x="289" y="283" width="1" height="12" fill="#000078" opacity="0.13"/>
<rect x="201" y="277" width="1" height="51" fill="#000078" opacity="0.18"/>
<rect x="475" y="311" width="1" height="19" fill="#000078" opacity="0.14"/>
<rect x="362" y="288" width="2" height="61" fill="#0018ff" opacity="0.21"/>
<rect x="348" y="314" width="2" height="11" fill="#000078" opacity="0.19"/>
<rect x="494" y="317" width="1" height="21" fill="#000078" opacity="0.15"/>
<rect x="457" y="365" width="1" height="17" fill="#000078" opacity="0.18"/>
<rect x="469" y="355" width="2" height="23" fill="#0018ff" opacity="0.15"/>
<rect x="223" y="288" width="1" height="29" fill="#000078" opacity="0.09"/>
<rect x="195" y="306" width="1" height="17" fill="#0018ff" opacity="0.15"/>
<rect x="354" y="293" width="2" height="11" fill="#000078" opacity="0.13"/>
<rect x="433" y="261" width="1" height="63" fill="#0018ff" opacity="0.16"/>
<rect x="229" y="352" width="2" height="37" fill="#000078" opacity="0.13"/>
<rect x="453" y="326" width="1" height="44" fill="#0018ff" opacity="0.12"/>
<rect x="325" y="260" width="1" height="19" fill="#000078" opacity="0.13"/>
<rect x="507" y="285" width="1" height="12" fill="#000078" opacity="0.08"/>
<rect x="380" y="328" width="1" height="10" fill="#000078" opacity="0.10"/>
<rect x="170" y="265" width="1" height="32" fill="#0018ff" opacity="0.13"/>
<rect x="219" y="351" width="1" height="37" fill="#0018ff" opacity="0.09"/>
<rect x="460" y="325" width="2" height="69" fill="#0018ff" opacity="0.18"/>
<rect x="97" y="289" width="1" height="21" fill="#0018ff" opacity="0.08"/>
<rect x="199" y="275" width="2" height="50" fill="#0018ff" opacity="0.11"/>
<rect x="208" y="353" width="1" height="13" fill="#000078" opacity="0.17"/>
<rect x="475" y="360" width="1" height="33" fill="#0018ff" opacity="0.08"/>
<rect x="371" y="342" width="1" height="50" fill="#0018ff" opacity="0.19"/>
<rect x="380" y="344" width="2" height="34" fill="#0018ff" opacity="0.20"/>
<rect x="384" y="358" width="2" height="30" fill="#0018ff" opacity="0.09"/>
<rect x="296" y="270" width="1" height="9" fill="#000078" opacity="0.08"/>
<rect x="498" y="300" width="1" height="28" fill="#0018ff" opacity="0.22"/>
<rect x="439" y="278" width="2" height="19" fill="#0018ff" opacity="0.18"/>
<rect x="490" y="363" width="2" height="18" fill="#0018ff" opacity="0.21"/>
<rect x="214" y="299" width="1" height="23" fill="#000078" opacity="0.11"/>
<rect x="201" y="351" width="1" height="28" fill="#000078" opacity="0.12"/>
<rect x="512" y="275" width="1" height="26" fill="#0018ff" opacity="0.12"/>
<rect x="527" y="283" width="1" height="26" fill="#0018ff" opacity="0.16"/>
<rect x="120" y="279" width="1" height="33" fill="#0018ff" opacity="0.12"/>
<rect x="407" y="347" width="1" height="26" fill="#0018ff" opacity="0.13"/>
<rect x="431" y="289" width="1" height="49" fill="#0018ff" opacity="0.17"/>
<rect x="294" y="279" width="1" height="10" fill="#0018ff" opacity="0.15"/>
<rect x="205" y="287" width="2" height="53" fill="#0018ff" opacity="0.20"/>
<rect x="171" y="283" width="2" height="54" fill="#0018ff" opacity="0.17"/>
<rect x="382" y="294" width="1" height="14" fill="#0018ff" opacity="0.12"/>
<rect x="231" y="261" width="2" height="41" fill="#0018ff" opacity="0.24"/>
<rect x="226" y="345" width="1" height="13" fill="#000078" opacity="0.14"/>
<rect x="370" y="294" width="1" height="38" fill="#0018ff" opacity="0.23"/>
<rect x="518" y="282" width="2" height="32" fill="#0018ff" opacity="0.09"/>
<rect x="428" y="266" width="1" height="17" fill="#0018ff" opacity="0.13"/>
<rect x="137" y="328" width="2" height="32" fill="#0018ff" opacity="0.18"/>
<rect x="271" y="282" width="1" height="22" fill="#000078" opacity="0.20"/>
<rect x="368" y="335" width="1" height="39" fill="#000078" opacity="0.19"/>
<rect x="397" y="285" width="1" height="49" fill="#0018ff" opacity="0.11"/>
<rect x="157" y="259" width="1" height="36" fill="#0018ff" opacity="0.13"/>
<rect x="224" y="346" width="1" height="36" fill="#0018ff" opacity="0.19"/>
<rect x="480" y="356" width="1" height="26" fill="#000078" opacity="0.10"/>
<rect x="355" y="276" width="1" height="17" fill="#0018ff" opacity="0.10"/>
<rect x="161" y="356" width="1" height="26" fill="#000078" opacity="0.19"/>
<rect x="140" y="317" width="2" height="27" fill="#0018ff" opacity="0.12"/>
<rect x="329" y="274" width="2" height="22" fill="#000078" opacity="0.17"/>
<rect x="205" y="262" width="2" height="22" fill="#000078" opacity="0.18"/>
<rect x="87" y="287" width="1" height="11" fill="#0018ff" opacity="0.09"/>
<rect x="317" y="268" width="1" height="13" fill="#0018ff" opacity="0.24"/>
<rect x="402" y="359" width="1" height="34" fill="#0018ff" opacity="0.15"/>
<rect x="420" y="272" width="2" height="18" fill="#0018ff" opacity="0.16"/>
<rect x="282" y="290" width="1" height="14" fill="#0018ff" opacity="0.13"/>
<rect x="136" y="378" width="2" height="11" fill="#0018ff" opacity="0.24"/>
<rect x="522" y="285" width="1" height="19" fill="#0018ff" opacity="0.14"/>
<rect x="397" y="313" width="1" height="11" fill="#0018ff" opacity="0.10"/>
<rect x="301" y="272" width="1" height="11" fill="#0018ff" opacity="0.18"/>
<rect x="440" y="278" width="1" height="42" fill="#0018ff" opacity="0.09"/>
<rect x="137" y="339" width="2" height="15" fill="#000078" opacity="0.12"/>
<rect x="216" y="310" width="1" height="38" fill="#0018ff" opacity="0.15"/>
<rect x="273" y="268" width="1" height="34" fill="#000078" opacity="0.10"/>
<rect x="218" y="354" width="1" height="35" fill="#0018ff" opacity="0.21"/>
<rect x="497" y="259" width="2" height="53" fill="#000078" opacity="0.15"/>
<rect x="327" y="288" width="2" height="12" fill="#0018ff" opacity="0.13"/>
<rect x="270" y="283" width="2" height="19" fill="#0018ff" opacity="0.19"/>
<rect x="273" y="270" width="2" height="40" fill="#0018ff" opacity="0.20"/>
<rect x="492" y="297" width="1" height="69" fill="#000078" opacity="0.16"/>
<rect x="330" y="294" width="1" height="9" fill="#000078" opacity="0.12"/>
<rect x="524" y="297" width="1" height="9" fill="#000078" opacity="0.08"/>
<rect x="286" y="287" width="1" height="16" fill="#0018ff" opacity="0.21"/>
<rect x="250" y="324" width="2" height="25" fill="#0018ff" opacity="0.13"/>
<rect x="516" y="285" width="1" height="33" fill="#000078" opacity="0.19"/>
<rect x="523" y="284" width="1" height="23" fill="#0018ff" opacity="0.19"/>
<rect x="193" y="351" width="1" height="23" fill="#0018ff" opacity="0.18"/>
<rect x="304" y="262" width="1" height="14" fill="#0018ff" opacity="0.13"/>
<rect x="227" y="303" width="2" height="35" fill="#0018ff" opacity="0.15"/>
<rect x="482" y="281" width="2" height="19" fill="#000078" opacity="0.13"/>
<rect x="200" y="320" width="1" height="44" fill="#0018ff" opacity="0.18"/>
<rect x="207" y="341" width="2" height="48" fill="#0018ff" opacity="0.13"/>
<rect x="157" y="268" width="1" height="67" fill="#000078" opacity="0.12"/>
<rect x="430" y="290" width="1" height="60" fill="#0018ff" opacity="0.14"/>
<rect x="131" y="288" width="1" height="43" fill="#0018ff" opacity="0.24"/>
<rect x="88" y="288" width="2" height="11" fill="#0018ff" opacity="0.17"/>
<rect x="475" y="351" width="1" height="10" fill="#000078" opacity="0.14"/>
<rect x="474" y="357" width="2" height="25" fill="#0018ff" opacity="0.18"/>
<rect x="205" y="342" width="2" height="39" fill="#000078" opacity="0.18"/>
<rect x="126" y="350" width="2" height="17" fill="#0018ff" opacity="0.15"/>
<rect x="263" y="309" width="1" height="10" fill="#0018ff" opacity="0.20"/>
<rect x="179" y="275" width="1" height="41" fill="#000078" opacity="0.14"/>
<rect x="502" y="272" width="1" height="65" fill="#000078" opacity="0.20"/>
<rect x="459" y="366" width="1" height="24" fill="#0018ff" opacity="0.09"/>
<rect x="517" y="292" width="2" height="21" fill="#0018ff" opacity="0.22"/>
<rect x="264" y="265" width="1" height="32" fill="#0018ff" opacity="0.10"/>
<rect x="421" y="351" width="1" height="17" fill="#0018ff" opacity="0.18"/>
<rect x="132" y="342" width="1" height="29" fill="#000078" opacity="0.19"/>
<rect x="389" y="286" width="1" height="12" fill="#000078" opacity="0.19"/>
<rect x="409" y="309" width="1" height="17" fill="#000078" opacity="0.12"/>
<rect x="136" y="271" width="2" height="63" fill="#0018ff" opacity="0.15"/>
<rect x="457" y="345" width="1" height="30" fill="#0018ff" opacity="0.20"/>
<rect x="412" y="271" width="1" height="38" fill="#0018ff" opacity="0.23"/>
<rect x="430" y="305" width="1" height="35" fill="#000078" opacity="0.18"/>
<rect x="428" y="304" width="1" height="64" fill="#000078" opacity="0.09"/>
<rect x="174" y="378" width="1" height="16" fill="#000078" opacity="0.09"/>
<rect x="405" y="338" width="1" height="55" fill="#0018ff" opacity="0.13"/>
<rect x="479" y="328" width="1" height="12" fill="#000078" opacity="0.10"/>
<rect x="493" y="340" width="1" height="13" fill="#0018ff" opacity="0.22"/>
<rect x="218" y="365" width="1" height="11" fill="#0018ff" opacity="0.12"/>
<rect x="133" y="340" width="1" height="9" fill="#0018ff" opacity="0.21"/>
<rect x="378" y="299" width="2" height="19" fill="#0018ff" opacity="0.20"/>
<rect x="135" y="351" width="1" height="25" fill="#000078" opacity="0.14"/>
<rect x="308" y="267" width="2" height="19" fill="#0018ff" opacity="0.21"/>
<rect x="343" y="273" width="1" height="31" fill="#0018ff" opacity="0.24"/>
<rect x="295" y="272" width="1" height="13" fill="#000078" opacity="0.09"/>
<rect x="241" y="317" width="2" height="11" fill="#0018ff" opacity="0.18"/>
<rect x="441" y="299" width="2" height="70" fill="#0018ff" opacity="0.15"/>
<rect x="297" y="261" width="2" height="21" fill="#000078" opacity="0.16"/>
<rect x="446" y="365" width="1" height="17" fill="#000078" opacity="0.13"/>
<rect x="281" y="275" width="1" height="11" fill="#0018ff" opacity="0.19"/>
<rect x="155" y="343" width="1" height="28" fill="#0018ff" opacity="0.09"/>
<rect x="126" y="334" width="2" height="19" fill="#0018ff" opacity="0.09"/>
<rect x="364" y="300" width="1" height="16" fill="#0018ff" opacity="0.19"/>
<rect x="521" y="303" width="1" height="8" fill="#0018ff" opacity="0.13"/>
<rect x="372" y="321" width="1" height="18" fill="#0018ff" opacity="0.22"/>
<rect x="509" y="288" width="1" height="11" fill="#0018ff" opacity="0.12"/>
<rect x="509" y="288" width="2" height="28" fill="#000078" opacity="0.16"/>
<rect x="90" y="278" width="1" height="19" fill="#000078" opacity="0.08"/>
<rect x="436" y="353" width="1" height="39" fill="#0018ff" opacity="0.11"/>
<rect x="366" y="340" width="1" height="11" fill="#000078" opacity="0.20"/>
<rect x="459" y="324" width="1" height="31" fill="#0018ff" opacity="0.11"/>
<rect x="446" y="299" width="1" height="66" fill="#0018ff" opacity="0.22"/>
<rect x="157" y="352" width="1" height="10" fill="#0018ff" opacity="0.15"/>
<rect x="325" y="278" width="1" height="15" fill="#0018ff" opacity="0.16"/>
<rect x="297" y="261" width="1" height="20" fill="#0018ff" opacity="0.16"/>
<rect x="100" y="269" width="1" height="45" fill="#0018ff" opacity="0.11"/>
<rect x="469" y="276" width="2" height="24" fill="#0018ff" opacity="0.08"/>
<rect x="297" y="262" width="2" height="15" fill="#000078" opacity="0.14"/>
<rect x="489" y="301" width="1" height="33" fill="#000078" opacity="0.13"/>
<rect x="116" y="324" width="1" height="16" fill="#0018ff" opacity="0.19"/>
<rect x="225" y="273" width="2" height="9" fill="#0018ff" opacity="0.21"/>
<rect x="502" y="312" width="1" height="18" fill="#0018ff" opacity="0.10"/>
<rect x="378" y="308" width="1" height="13" fill="#000078" opacity="0.17"/>
<rect x="247" y="330" width="1" height="10" fill="#000078" opacity="0.14"/>
<rect x="540" y="275" width="1" height="11" fill="#000078" opacity="0.16"/>
<rect x="197" y="272" width="2" height="24" fill="#0018ff" opacity="0.10"/>
<rect x="115" y="272" width="2" height="56" fill="#0018ff" opacity="0.20"/>
<rect x="306" y="270" width="1" height="16" fill="#000078" opacity="0.20"/>
<rect x="519" y="306" width="2" height="10" fill="#0018ff" opacity="0.16"/>
<rect x="232" y="357" width="1" height="25" fill="#0018ff" opacity="0.09"/>
<rect x="308" y="260" width="1" height="15" fill="#0018ff" opacity="0.18"/>
<rect x="391" y="332" width="2" height="29" fill="#0018ff" opacity="0.23"/>
<rect x="535" y="260" width="2" height="36" fill="#0018ff" opacity="0.11"/>
<rect x="320" y="269" width="1" height="22" fill="#0018ff" opacity="0.21"/>
<rect x="442" y="269" width="1" height="48" fill="#0018ff" opacity="0.19"/>
<rect x="345" y="285" width="1" height="12" fill="#0018ff" opacity="0.13"/>
<rect x="473" y="301" width="1" height="45" fill="#000078" opacity="0.16"/>
<rect x="245" y="267" width="2" height="50" fill="#0018ff" opacity="0.20"/>
<rect x="541" y="269" width="1" height="10" fill="#0018ff" opacity="0.19"/>
<rect x="235" y="378" width="1" height="14" fill="#0018ff" opacity="0.18"/>
<rect x="235" y="328" width="2" height="45" fill="#0018ff" opacity="0.10"/>
<rect x="501" y="333" width="2" height="16" fill="#000078" opacity="0.09"/>
<rect x="293" y="270" width="1" height="8" fill="#0018ff" opacity="0.23"/>
<rect x="469" y="319" width="1" height="22" fill="#0018ff" opacity="0.09"/>
<rect x="336" y="291" width="1" height="19" fill="#000078" opacity="0.08"/>
<rect x="525" y="292" width="2" height="10" fill="#0018ff" opacity="0.11"/>
<rect x="471" y="336" width="1" height="53" fill="#000078" opacity="0.09"/>
<rect x="423" y="348" width="1" height="45" fill="#000078" opacity="0.17"/>
<rect x="196" y="325" width="1" height="27" fill="#000078" opacity="0.14"/>
<rect x="265" y="302" width="1" height="22" fill="#0018ff" opacity="0.20"/>
<rect x="334" y="280" width="1" height="30" fill="#000078" opacity="0.18"/>
<rect x="523" y="270" width="1" height="33" fill="#000078" opacity="0.15"/>
<rect x="441" y="363" width="1" height="28" fill="#0018ff" opacity="0.20"/>
<rect x="307" y="273" width="1" height="9" fill="#0018ff" opacity="0.23"/>
<rect x="495" y="295" width="2" height="25" fill="#0018ff" opacity="0.09"/>
<rect x="268" y="272" width="1" height="55" fill="#0018ff" opacity="0.08"/>
<rect x="506" y="301" width="1" height="15" fill="#0018ff" opacity="0.09"/>
<rect x="433" y="361" width="1" height="27" fill="#0018ff" opacity="0.18"/>
<rect x="86" y="266" width="2" height="28" fill="#0018ff" opacity="0.20"/>
<rect x="293" y="261" width="1" height="15" fill="#0018ff" opacity="0.09"/>
<rect x="404" y="357" width="2" height="21" fill="#0018ff" opacity="0.22"/>
<rect x="351" y="260" width="1" height="40" fill="#0018ff" opacity="0.10"/>
<rect x="77" y="269" width="1" height="10" fill="#0018ff" opacity="0.19"/>
<rect x="345" y="308" width="2" height="8" fill="#0018ff" opacity="0.16"/>
<rect x="360" y="261" width="1" height="62" fill="#0018ff" opacity="0.14"/>
<rect x="206" y="351" width="2" height="21" fill="#0018ff" opacity="0.12"/>
<rect x="398" y="272" width="1" height="44" fill="#000078" opacity="0.10"/>
<rect x="356" y="287" width="2" height="45" fill="#000078" opacity="0.16"/>
<rect x="322" y="275" width="1" height="19" fill="#0018ff" opacity="0.20"/>
<rect x="95" y="270" width="1" height="9" fill="#0018ff" opacity="0.09"/>
<rect x="340" y="276" width="2" height="32" fill="#0018ff" opacity="0.09"/>
<rect x="174" y="294" width="1" height="61" fill="#0018ff" opacity="0.18"/>
<rect x="140" y="357" width="1" height="21" fill="#0018ff" opacity="0.15"/>
<rect x="250" y="360" width="2" height="11" fill="#0018ff" opacity="0.23"/>
<rect x="213" y="358" width="1" height="29" fill="#0018ff" opacity="0.18"/>
<rect x="356" y="283" width="1" height="14" fill="#0018ff" opacity="0.13"/>
<rect x="385" y="347" width="2" height="14" fill="#0018ff" opacity="0.15"/>
<rect x="522" y="302" width="1" height="13" fill="#0018ff" opacity="0.18"/>
<rect x="115" y="308" width="1" height="19" fill="#0018ff" opacity="0.20"/>
<rect x="92" y="264" width="1" height="28" fill="#000078" opacity="0.08"/>
<rect x="197" y="355" width="2" height="19" fill="#0018ff" opacity="0.17"/>
<rect x="155" y="343" width="2" height="49" fill="#0018ff" opacity="0.20"/>
<rect x="147" y="324" width="1" height="33" fill="#000078" opacity="0.11"/>
<rect x="90" y="283" width="1" height="14" fill="#0018ff" opacity="0.17"/>
<rect x="473" y="291" width="1" height="36" fill="#000078" opacity="0.11"/>
<rect x="179" y="274" width="1" height="61" fill="#0018ff" opacity="0.22"/>
<rect x="121" y="328" width="2" height="27" fill="#000078" opacity="0.16"/>
<rect x="110" y="293" width="2" height="17" fill="#0018ff" opacity="0.11"/>
<rect x="435" y="337" width="1" height="47" fill="#0018ff" opacity="0.10"/>
<rect x="482" y="276" width="1" height="57" fill="#0018ff" opacity="0.17"/>
<rect x="316" y="272" width="1" height="12" fill="#000078" opacity="0.09"/>
<rect x="280" y="299" width="2" height="11" fill="#0018ff" opacity="0.20"/>
<rect x="114" y="268" width="2" height="28" fill="#0018ff" opacity="0.15"/>
<rect x="253" y="271" width="1" height="59" fill="#0018ff" opacity="0.17"/>
<rect x="298" y="267" width="1" height="18" fill="#000078" opacity="0.14"/>
<rect x="161" y="279" width="2" height="66" fill="#0018ff" opacity="0.23"/>
<rect x="535" y="267" width="1" height="10" fill="#0018ff" opacity="0.23"/>
<rect x="141" y="336" width="2" height="39" fill="#0018ff" opacity="0.18"/>
<rect x="374" y="278" width="2" height="49" fill="#000078" opacity="0.15"/>
<rect x="98" y="293" width="2" height="8" fill="#0018ff" opacity="0.18"/>
<rect x="212" y="339" width="1" height="44" fill="#0018ff" opacity="0.18"/>
<rect x="532" y="280" width="2" height="13" fill="#000078" opacity="0.14"/>
<rect x="284" y="269" width="1" height="10" fill="#0018ff" opacity="0.15"/>
<rect x="181" y="301" width="1" height="17" fill="#000078" opacity="0.12"/>
<rect x="281" y="264" width="1" height="22" fill="#0018ff" opacity="0.13"/>
<rect x="139" y="292" width="1" height="23" fill="#0018ff" opacity="0.13"/>
<rect x="519" y="289" width="1" height="14" fill="#000078" opacity="0.10"/>
<rect x="372" y="348" width="1" height="15" fill="#0018ff" opacity="0.24"/>
<rect x="332" y="292" width="1" height="12" fill="#0018ff" opacity="0.14"/>
<rect x="200" y="285" width="2" height="30" fill="#0018ff" opacity="0.16"/>
<rect x="421" y="317" width="1" height="41" fill="#000078" opacity="0.13"/>
<rect x="449" y="304" width="2" height="33" fill="#0018ff" opacity="0.09"/>
<rect x="176" y="304" width="2" height="26" fill="#0018ff" opacity="0.15"/>
<rect x="220" y="361" width="1" height="24" fill="#000078" opacity="0.10"/>
<rect x="278" y="275" width="1" height="38" fill="#0018ff" opacity="0.14"/>
<rect x="178" y="333" width="2" height="29" fill="#0018ff" opacity="0.09"/>
<rect x="247" y="332" width="1" height="19" fill="#0018ff" opacity="0.22"/>
<rect x="244" y="340" width="1" height="11" fill="#0018ff" opacity="0.18"/>
<rect x="380" y="300" width="1" height="59" fill="#0018ff" opacity="0.19"/>
<rect x="320" y="276" width="2" height="11" fill="#000078" opacity="0.20"/>
<rect x="234" y="357" width="1" height="29" fill="#000078" opacity="0.08"/>
<rect x="212" y="378" width="2" height="14" fill="#000078" opacity="0.15"/>
<rect x="103" y="288" width="1" height="12" fill="#000078" opacity="0.15"/>
<rect x="152" y="360" width="1" height="14" fill="#0018ff" opacity="0.19"/>
<rect x="86" y="271" width="2" height="16" fill="#0018ff" opacity="0.11"/>
<rect x="473" y="334" width="2" height="32" fill="#000078" opacity="0.17"/>
<rect x="147" y="323" width="1" height="43" fill="#000078" opacity="0.14"/>
<rect x="237" y="372" width="2" height="12" fill="#0018ff" opacity="0.17"/>
<rect x="472" y="366" width="1" height="22" fill="#000078" opacity="0.11"/>
<rect x="175" y="377" width="1" height="11" fill="#0018ff" opacity="0.23"/>
<rect x="471" y="295" width="1" height="21" fill="#000078" opacity="0.12"/>
<rect x="363" y="374" width="2" height="18" fill="#0018ff" opacity="0.10"/>
<rect x="355" y="288" width="1" height="59" fill="#000078" opacity="0.19"/>
<rect x="225" y="264" width="2" height="67" fill="#0018ff" opacity="0.23"/>
<rect x="208" y="351" width="2" height="16" fill="#000078" opacity="0.11"/>
<rect x="433" y="292" width="1" height="15" fill="#000078" opacity="0.11"/>
<rect x="419" y="370" width="1" height="12" fill="#0018ff" opacity="0.10"/>
<rect x="444" y="317" width="1" height="50" fill="#0018ff" opacity="0.23"/>
<rect x="285" y="281" width="1" height="22" fill="#0018ff" opacity="0.18"/>
<rect x="241" y="286" width="1" height="12" fill="#000078" opacity="0.16"/>
<rect x="350" y="304" width="1" height="25" fill="#0018ff" opacity="0.23"/>
<rect x="528" y="292" width="1" height="18" fill="#0018ff" opacity="0.21"/>
<rect x="172" y="374" width="1" height="19" fill="#000078" opacity="0.19"/>
<rect x="229" y="329" width="2" height="14" fill="#000078" opacity="0.11"/>
<rect x="355" y="299" width="1" height="44" fill="#0018ff" opacity="0.16"/>
<rect x="175" y="358" width="2" height="17" fill="#000078" opacity="0.16"/>
<rect x="172" y="261" width="1" height="29" fill="#0018ff" opacity="0.19"/>
<rect x="166" y="334" width="1" height="41" fill="#0018ff" opacity="0.15"/>
<rect x="121" y="293" width="1" height="13" fill="#000078" opacity="0.14"/>
<rect x="80" y="264" width="1" height="12" fill="#000078" opacity="0.19"/>
<rect x="375" y="348" width="1" height="8" fill="#000078" opacity="0.16"/>
<rect x="418" y="274" width="2" height="27" fill="#0018ff" opacity="0.16"/>
<rect x="471" y="297" width="2" height="15" fill="#000078" opacity="0.12"/>
<rect x="190" y="286" width="2" height="16" fill="#0018ff" opacity="0.20"/>
<rect x="268" y="283" width="2" height="28" fill="#0018ff" opacity="0.17"/>
<rect x="499" y="277" width="1" height="23" fill="#000078" opacity="0.18"/>
<rect x="346" y="282" width="1" height="31" fill="#0018ff" opacity="0.17"/>
<rect x="501" y="302" width="1" height="28" fill="#0018ff" opacity="0.10"/>
<rect x="514" y="284" width="1" height="11" fill="#0018ff" opacity="0.17"/>
<rect x="537" y="272" width="1" height="21" fill="#0018ff" opacity="0.16"/>
<rect x="365" y="266" width="1" height="37" fill="#000078" opacity="0.17"/>
<rect x="207" y="359" width="1" height="28" fill="#0018ff" opacity="0.09"/>
<rect x="435" y="267" width="1" height="70" fill="#000078" opacity="0.09"/>
<rect x="93" y="269" width="2" height="13" fill="#0018ff" opacity="0.18"/>
<rect x="407" y="378" width="1" height="11" fill="#000078" opacity="0.13"/>
<rect x="269" y="263" width="1" height="61" fill="#000078" opacity="0.10"/>
<rect x="137" y="281" width="1" height="41" fill="#0018ff" opacity="0.20"/>
<rect x="504" y="259" width="2" height="9" fill="#0018ff" opacity="0.19"/>
<rect x="294" y="270" width="1" height="19" fill="#0018ff" opacity="0.14"/>
<rect x="173" y="374" width="1" height="16" fill="#0018ff" opacity="0.21"/>
<rect x="391" y="353" width="1" height="37" fill="#0018ff" opacity="0.11"/>
<rect x="381" y="263" width="2" height="45" fill="#000078" opacity="0.09"/>
<rect x="99" y="276" width="1" height="15" fill="#0018ff" opacity="0.22"/>
<rect x="148" y="321" width="1" height="26" fill="#000078" opacity="0.17"/>
<rect x="372" y="333" width="1" height="44" fill="#0018ff" opacity="0.13"/>
<rect x="415" y="323" width="2" height="34" fill="#0018ff" opacity="0.17"/>
<rect x="527" y="289" width="1" height="11" fill="#000078" opacity="0.15"/>
<rect x="253" y="348" width="1" height="14" fill="#000078" opacity="0.12"/>
<rect x="286" y="264" width="1" height="20" fill="#000078" opacity="0.14"/>
<rect x="230" y="364" width="1" height="11" fill="#0018ff" opacity="0.09"/>
<rect x="290" y="273" width="2" height="10" fill="#0018ff" opacity="0.11"/>
<rect x="117" y="330" width="1" height="16" fill="#0018ff" opacity="0.20"/>
<rect x="103" y="272" width="1" height="35" fill="#000078" opacity="0.18"/>
<rect x="488" y="353" width="1" height="32" fill="#0018ff" opacity="0.16"/>
<rect x="232" y="377" width="1" height="8" fill="#000078" opacity="0.20"/>
<rect x="459" y="382" width="1" height="10" fill="#0018ff" opacity="0.18"/>
<rect x="280" y="296" width="2" height="12" fill="#000078" opacity="0.13"/>
<rect x="409" y="303" width="1" height="24" fill="#0018ff" opacity="0.16"/>
<rect x="488" y="380" width="1" height="11" fill="#000078" opacity="0.19"/>
<rect x="237" y="308" width="1" height="43" fill="#0018ff" opacity="0.10"/>
<rect x="360" y="356" width="1" height="14" fill="#0018ff" opacity="0.10"/>
<rect x="194" y="306" width="2" height="60" fill="#0018ff" opacity="0.18"/>
<rect x="249" y="282" width="1" height="59" fill="#000078" opacity="0.16"/>
<rect x="163" y="349" width="1" height="21" fill="#0018ff" opacity="0.17"/>
<rect x="532" y="277" width="1" height="20" fill="#0018ff" opacity="0.09"/>
<rect x="495" y="313" width="1" height="32" fill="#0018ff" opacity="0.21"/>
<rect x="111" y="304" width="2" height="8" fill="#0018ff" opacity="0.14"/>
<rect x="403" y="341" width="1" height="36" fill="#0018ff" opacity="0.16"/>
<rect x="349" y="291" width="1" height="8" fill="#0018ff" opacity="0.12"/>
<rect x="85" y="272" width="1" height="20" fill="#0018ff" opacity="0.23"/>
<rect x="131" y="372" width="1" height="15" fill="#0018ff" opacity="0.18"/>
<rect x="494" y="287" width="1" height="52" fill="#0018ff" opacity="0.23"/>
<rect x="366" y="289" width="1" height="51" fill="#0018ff" opacity="0.21"/>
<rect x="411" y="381" width="1" height="11" fill="#0018ff" opacity="0.14"/>
<rect x="359" y="305" width="1" height="43" fill="#000078" opacity="0.09"/>
<rect x="407" y="355" width="2" height="25" fill="#000078" opacity="0.09"/>
<rect x="98" y="268" width="1" height="40" fill="#000078" opacity="0.15"/>
<rect x="100" y="299" width="2" height="13" fill="#0018ff" opacity="0.17"/>
<rect x="93" y="265" width="1" height="36" fill="#0018ff" opacity="0.11"/>
<rect x="462" y="360" width="2" height="29" fill="#000078" opacity="0.12"/>
<rect x="200" y="329" width="1" height="57" fill="#000078" opacity="0.14"/>
<rect x="463" y="350" width="2" height="36" fill="#000078" opacity="0.09"/>
<rect x="254" y="264" width="2" height="35" fill="#000078" opacity="0.12"/>
<rect x="381" y="308" width="1" height="56" fill="#0018ff" opacity="0.12"/>
<rect x="328" y="267" width="2" height="25" fill="#0018ff" opacity="0.11"/>
<rect x="415" y="306" width="1" height="56" fill="#0018ff" opacity="0.12"/>
<rect x="119" y="281" width="1" height="32" fill="#000078" opacity="0.10"/>
<rect x="239" y="298" width="1" height="14" fill="#000078" opacity="0.13"/>
<rect x="129" y="275" width="1" height="20" fill="#0018ff" opacity="0.17"/>
<rect x="129" y="262" width="1" height="30" fill="#0018ff" opacity="0.18"/>
<rect x="519" y="278" width="2" height="18" fill="#0018ff" opacity="0.09"/>
<rect x="540" y="279" width="1" height="9" fill="#0018ff" opacity="0.19"/>
<rect x="148" y="292" width="1" height="25" fill="#0018ff" opacity="0.11"/>
<rect x="292" y="266" width="2" height="24" fill="#0018ff" opacity="0.23"/>
<rect x="397" y="320" width="1" height="46" fill="#0018ff" opacity="0.10"/>
<rect x="279" y="273" width="1" height="28" fill="#000078" opacity="0.12"/>
<rect x="297" y="272" width="1" height="14" fill="#000078" opacity="0.10"/>
<rect x="385" y="376" width="1" height="10" fill="#0018ff" opacity="0.23"/>
<rect x="226" y="349" width="1" height="31" fill="#000078" opacity="0.17"/>
<rect x="269" y="274" width="1" height="42" fill="#0018ff" opacity="0.23"/>
<rect x="380" y="382" width="2" height="9" fill="#000078" opacity="0.08"/>
<rect x="439" y="285" width="1" height="57" fill="#000078" opacity="0.09"/>
<rect x="421" y="320" width="2" height="47" fill="#0018ff" opacity="0.19"/>
<rect x="293" y="276" width="1" height="9" fill="#000078" opacity="0.14"/>
<rect x="350" y="290" width="1" height="39" fill="#000078" opacity="0.15"/>
<rect x="436" y="369" width="1" height="17" fill="#000078" opacity="0.09"/>
<rect x="413" y="341" width="2" height="16" fill="#000078" opacity="0.15"/>
<rect x="423" y="339" width="1" height="54" fill="#0018ff" opacity="0.21"/>
<rect x="82" y="261" width="2" height="13" fill="#000078" opacity="0.15"/>
<rect x="371" y="286" width="2" height="31" fill="#0018ff" opacity="0.19"/>
<rect x="333" y="265" width="1" height="45" fill="#0018ff" opacity="0.13"/>
<rect x="136" y="361" width="1" height="26" fill="#0018ff" opacity="0.13"/>
<rect x="343" y="281" width="1" height="21" fill="#0018ff" opacity="0.19"/>
<rect x="111" y="278" width="2" height="48" fill="#0018ff" opacity="0.22"/>
<rect x="132" y="342" width="1" height="15" fill="#000078" opacity="0.11"/>
<rect x="359" y="275" width="1" height="43" fill="#000078" opacity="0.11"/>
<rect x="399" y="282" width="2" height="48" fill="#0018ff" opacity="0.08"/>
<rect x="529" y="266" width="1" height="28" fill="#0018ff" opacity="0.19"/>
<rect x="219" y="352" width="2" height="36" fill="#0018ff" opacity="0.10"/>
<rect x="172" y="304" width="1" height="20" fill="#0018ff" opacity="0.19"/>
<rect x="347" y="311" width="1" height="10" fill="#0018ff" opacity="0.14"/>
<rect x="255" y="291" width="1" height="36" fill="#0018ff" opacity="0.19"/>
<rect x="391" y="332" width="1" height="45" fill="#0018ff" opacity="0.12"/>
<rect x="170" y="305" width="2" height="17" fill="#0018ff" opacity="0.18"/>
<rect x="273" y="279" width="1" height="23" fill="#0018ff" opacity="0.23"/>
<rect x="361" y="277" width="2" height="26" fill="#0018ff" opacity="0.21"/>
<rect x="104" y="304" width="1" height="18" fill="#0018ff" opacity="0.11"/>
<rect x="364" y="321" width="1" height="39" fill="#000078" opacity="0.13"/>
<rect x="327" y="265" width="1" height="26" fill="#000078" opacity="0.11"/>
<rect x="217" y="287" width="1" height="26" fill="#000078" opacity="0.15"/>
<rect x="358" y="306" width="1" height="36" fill="#0018ff" opacity="0.17"/>
<rect x="354" y="319" width="1" height="9" fill="#000078" opacity="0.15"/>
<rect x="129" y="350" width="1" height="32" fill="#0018ff" opacity="0.22"/>
<rect x="307" y="263" width="1" height="21" fill="#0018ff" opacity="0.22"/>
<rect x="474" y="359" width="2" height="14" fill="#000078" opacity="0.16"/>
<rect x="389" y="337" width="1" height="16" fill="#0018ff" opacity="0.11"/>
<rect x="489" y="266" width="1" height="30" fill="#0018ff" opacity="0.17"/>
<rect x="437" y="295" width="2" height="44" fill="#000078" opacity="0.14"/>
<rect x="494" y="267" width="1" height="68" fill="#000078" opacity="0.19"/>
<rect x="520" y="291" width="1" height="23" fill="#0018ff" opacity="0.10"/>
<rect x="501" y="278" width="2" height="60" fill="#0018ff" opacity="0.10"/>
<rect x="214" y="336" width="1" height="27" fill="#0018ff" opacity="0.21"/>
<rect x="283" y="278" width="1" height="14" fill="#000078" opacity="0.12"/>
<rect x="244" y="310" width="1" height="43" fill="#000078" opacity="0.09"/>
<rect x="402" y="341" width="1" height="24" fill="#0018ff" opacity="0.17"/>
<rect x="296" y="273" width="2" height="11" fill="#0018ff" opacity="0.13"/>
<rect x="372" y="275" width="1" height="61" fill="#000078" opacity="0.19"/>
<rect x="100" y="263" width="1" height="42" fill="#0018ff" opacity="0.10"/>
<rect x="302" y="266" width="1" height="21" fill="#0018ff" opacity="0.24"/>
<rect x="528" y="285" width="2" height="11" fill="#000078" opacity="0.11"/>
<rect x="261" y="277" width="1" height="30" fill="#000078" opacity="0.10"/>
<rect x="397" y="297" width="2" height="51" fill="#0018ff" opacity="0.18"/>
<rect x="125" y="259" width="2" height="38" fill="#0018ff" opacity="0.12"/>
<rect x="304" y="259" width="1" height="23" fill="#000078" opacity="0.20"/>
<rect x="432" y="275" width="1" height="12" fill="#0018ff" opacity="0.20"/>
<rect x="129" y="298" width="1" height="63" fill="#0018ff" opacity="0.20"/>
<rect x="405" y="381" width="2" height="9" fill="#0018ff" opacity="0.08"/>
<rect x="161" y="313" width="1" height="53" fill="#000078" opacity="0.10"/>
<rect x="392" y="343" width="1" height="45" fill="#0018ff" opacity="0.10"/>
<rect x="378" y="349" width="1" height="21" fill="#0018ff" opacity="0.21"/>
<rect x="218" y="338" width="1" height="20" fill="#000078" opacity="0.17"/>
<rect x="475" y="375" width="1" height="8" fill="#000078" opacity="0.19"/>
<rect x="342" y="286" width="1" height="12" fill="#0018ff" opacity="0.18"/>
<rect x="330" y="273" width="1" height="14" fill="#000078" opacity="0.09"/>
<rect x="261" y="327" width="1" height="9" fill="#000078" opacity="0.15"/>
<rect x="356" y="315" width="1" height="31" fill="#000078" opacity="0.17"/>
<rect x="377" y="267" width="1" height="24" fill="#0018ff" opacity="0.09"/>
<rect x="336" y="271" width="1" height="32" fill="#000078" opacity="0.13"/>
<rect x="119" y="311" width="1" height="26" fill="#0018ff" opacity="0.09"/>
<rect x="338" y="298" width="2" height="15" fill="#0018ff" opacity="0.13"/>
<rect x="401" y="353" width="1" height="30" fill="#000078" opacity="0.12"/>
<rect x="450" y="376" width="1" height="10" fill="#0018ff" opacity="0.23"/>
<rect x="309" y="268" width="1" height="9" fill="#000078" opacity="0.16"/>
<rect x="138" y="261" width="1" height="17" fill="#0018ff" opacity="0.16"/>
<rect x="344" y="284" width="2" height="30" fill="#0018ff" opacity="0.14"/>
<rect x="77" y="255" width="1" height="33" fill="url(#ss)" opacity="0.36"/>
<rect x="80" y="260" width="1" height="31" fill="url(#ss)" opacity="0.50"/>
<rect x="82" y="280" width="1" height="14" fill="url(#ss)" opacity="0.64"/>
<rect x="84" y="266" width="1" height="31" fill="url(#ss)" opacity="0.19"/>
<rect x="85" y="276" width="1" height="22" fill="url(#ss)" opacity="0.22"/>
<rect x="86" y="276" width="1" height="24" fill="url(#ss)" opacity="0.44"/>
<rect x="87" y="272" width="1" height="29" fill="url(#ss)" opacity="0.62"/>
<rect x="88" y="285" width="1" height="17" fill="url(#ss)" opacity="0.15"/>
<rect x="89" y="282" width="1" height="21" fill="url(#ss)" opacity="0.33"/>
<rect x="90" y="272" width="1" height="32" fill="url(#ss)" opacity="0.49"/>
<rect x="91" y="272" width="1" height="34" fill="url(#ss)" opacity="0.22"/>
<rect x="92" y="269" width="1" height="38" fill="url(#ss)" opacity="0.22"/>
<rect x="93" y="298" width="1" height="10" fill="url(#ss)" opacity="0.44"/>
<rect x="95" y="287" width="1" height="23" fill="url(#ss)" opacity="0.30"/>
<rect x="96" y="296" width="1" height="16" fill="url(#ss)" opacity="0.29"/>
<rect x="97" y="276" width="1" height="37" fill="url(#ss)" opacity="0.20"/>
<rect x="98" y="286" width="1" height="28" fill="url(#ss)" opacity="0.42"/>
<rect x="99" y="290" width="1" height="25" fill="url(#ss)" opacity="0.56"/>
<rect x="100" y="301" width="1" height="15" fill="url(#ss)" opacity="0.24"/>
<rect x="102" y="299" width="1" height="21" fill="url(#ss)" opacity="0.13"/>
<rect x="103" y="294" width="1" height="29" fill="url(#ss)" opacity="0.20"/>
<rect x="104" y="309" width="1" height="16" fill="url(#ss)" opacity="0.24"/>
<rect x="105" y="291" width="1" height="36" fill="url(#ss)" opacity="0.39"/>
<rect x="106" y="312" width="1" height="16" fill="url(#ss)" opacity="0.48"/>
<rect x="107" y="317" width="1" height="13" fill="url(#ss)" opacity="0.17"/>
<rect x="109" y="312" width="1" height="21" fill="url(#ss)" opacity="0.13"/>
<rect x="111" y="312" width="1" height="26" fill="url(#ss)" opacity="0.41"/>
<rect x="112" y="320" width="1" height="20" fill="url(#ss)" opacity="0.20"/>
<rect x="113" y="325" width="1" height="17" fill="url(#ss)" opacity="0.36"/>
<rect x="116" y="321" width="1" height="27" fill="url(#ss)" opacity="0.15"/>
<rect x="119" y="343" width="1" height="11" fill="url(#ss)" opacity="0.30"/>
<rect x="120" y="322" width="1" height="34" fill="url(#ss)" opacity="0.39"/>
<rect x="121" y="333" width="1" height="25" fill="url(#ss)" opacity="0.27"/>
<rect x="122" y="332" width="1" height="28" fill="url(#ss)" opacity="0.34"/>
<rect x="123" y="329" width="1" height="33" fill="url(#ss)" opacity="0.10"/>
<rect x="124" y="340" width="1" height="26" fill="url(#ss)" opacity="0.08"/>
<rect x="125" y="351" width="1" height="19" fill="url(#ss)" opacity="0.20"/>
<rect x="237" y="367" width="1" height="20" fill="url(#ss)" opacity="0.27"/>
<rect x="238" y="348" width="1" height="34" fill="url(#ss)" opacity="0.42"/>
<rect x="239" y="350" width="1" height="26" fill="url(#ss)" opacity="0.37"/>
<rect x="240" y="341" width="1" height="29" fill="url(#ss)" opacity="0.25"/>
<rect x="241" y="346" width="1" height="20" fill="url(#ss)" opacity="0.12"/>
<rect x="243" y="351" width="1" height="9" fill="url(#ss)" opacity="0.39"/>
<rect x="245" y="322" width="1" height="37" fill="url(#ss)" opacity="0.17"/>
<rect x="246" y="328" width="1" height="33" fill="url(#ss)" opacity="0.24"/>
<rect x="247" y="349" width="1" height="13" fill="url(#ss)" opacity="0.29"/>
<rect x="248" y="338" width="1" height="23" fill="url(#ss)" opacity="0.32"/>
<rect x="249" y="347" width="1" height="21" fill="url(#ss)" opacity="0.09"/>
<rect x="250" y="353" width="1" height="31" fill="url(#ss)" opacity="0.17"/>
<rect x="251" y="357" width="1" height="28" fill="url(#ss)" opacity="0.23"/>
<rect x="254" y="340" width="1" height="22" fill="url(#ss)" opacity="0.31"/>
<rect x="255" y="340" width="1" height="23" fill="url(#ss)" opacity="0.29"/>
<rect x="256" y="331" width="1" height="30" fill="url(#ss)" opacity="0.27"/>
<rect x="257" y="329" width="1" height="28" fill="url(#ss)" opacity="0.21"/>
<rect x="258" y="326" width="1" height="27" fill="url(#ss)" opacity="0.44"/>
<rect x="259" y="328" width="1" height="21" fill="url(#ss)" opacity="0.35"/>
<rect x="263" y="314" width="1" height="25" fill="url(#ss)" opacity="0.25"/>
<rect x="264" y="318" width="1" height="18" fill="url(#ss)" opacity="0.35"/>
<rect x="266" y="321" width="1" height="11" fill="url(#ss)" opacity="0.30"/>
<rect x="268" y="311" width="1" height="17" fill="url(#ss)" opacity="0.26"/>
<rect x="269" y="308" width="1" height="18" fill="url(#ss)" opacity="0.17"/>
<rect x="270" y="311" width="1" height="13" fill="url(#ss)" opacity="0.42"/>
<rect x="271" y="303" width="1" height="19" fill="url(#ss)" opacity="0.23"/>
<rect x="274" y="305" width="1" height="13" fill="url(#ss)" opacity="0.22"/>
<rect x="275" y="294" width="1" height="23" fill="url(#ss)" opacity="0.56"/>
<rect x="276" y="287" width="1" height="29" fill="url(#ss)" opacity="0.35"/>
<rect x="278" y="285" width="1" height="29" fill="url(#ss)" opacity="0.15"/>
<rect x="279" y="303" width="1" height="10" fill="url(#ss)" opacity="0.35"/>
<rect x="280" y="297" width="1" height="15" fill="url(#ss)" opacity="0.34"/>
<rect x="281" y="292" width="1" height="19" fill="url(#ss)" opacity="0.57"/>
<rect x="282" y="289" width="1" height="20" fill="url(#ss)" opacity="0.60"/>
<rect x="284" y="292" width="1" height="14" fill="url(#ss)" opacity="0.27"/>
<rect x="285" y="285" width="1" height="20" fill="url(#ss)" opacity="0.32"/>
<rect x="286" y="268" width="1" height="36" fill="url(#ss)" opacity="0.12"/>
<rect x="288" y="262" width="1" height="38" fill="url(#ss)" opacity="0.58"/>
<rect x="290" y="263" width="1" height="35" fill="url(#ss)" opacity="0.18"/>
<rect x="291" y="283" width="1" height="13" fill="url(#ss)" opacity="0.13"/>
<rect x="293" y="277" width="1" height="16" fill="url(#ss)" opacity="0.59"/>
<rect x="295" y="272" width="1" height="18" fill="url(#ss)" opacity="0.17"/>
<rect x="296" y="261" width="1" height="27" fill="url(#ss)" opacity="0.61"/>
<rect x="297" y="271" width="1" height="17" fill="url(#ss)" opacity="0.19"/>
<rect x="300" y="259" width="1" height="27" fill="url(#ss)" opacity="0.14"/>
<rect x="301" y="255" width="1" height="32" fill="url(#ss)" opacity="0.12"/>
<rect x="303" y="259" width="1" height="31" fill="url(#ss)" opacity="0.19"/>
<rect x="304" y="260" width="1" height="29" fill="url(#ss)" opacity="0.62"/>
<rect x="305" y="255" width="1" height="33" fill="url(#ss)" opacity="0.48"/>
<rect x="307" y="255" width="1" height="32" fill="url(#ss)" opacity="0.48"/>
<rect x="308" y="266" width="1" height="21" fill="url(#ss)" opacity="0.57"/>
<rect x="309" y="263" width="1" height="23" fill="url(#ss)" opacity="0.17"/>
<rect x="311" y="255" width="1" height="24" fill="url(#ss)" opacity="0.33"/>
<rect x="312" y="255" width="1" height="16" fill="url(#ss)" opacity="0.47"/>
<rect x="313" y="261" width="1" height="11" fill="url(#ss)" opacity="0.41"/>
<rect x="314" y="255" width="1" height="24" fill="url(#ss)" opacity="0.19"/>
<rect x="315" y="263" width="1" height="25" fill="url(#ss)" opacity="0.20"/>
<rect x="317" y="255" width="1" height="34" fill="url(#ss)" opacity="0.27"/>
<rect x="318" y="269" width="1" height="21" fill="url(#ss)" opacity="0.49"/>
<rect x="319" y="265" width="1" height="26" fill="url(#ss)" opacity="0.36"/>
<rect x="320" y="256" width="1" height="38" fill="url(#ss)" opacity="0.28"/>
<rect x="322" y="276" width="1" height="22" fill="url(#ss)" opacity="0.30"/>
<rect x="323" y="288" width="1" height="13" fill="url(#ss)" opacity="0.26"/>
<rect x="325" y="280" width="1" height="24" fill="url(#ss)" opacity="0.34"/>
<rect x="326" y="295" width="1" height="10" fill="url(#ss)" opacity="0.49"/>
<rect x="327" y="279" width="1" height="27" fill="url(#ss)" opacity="0.33"/>
<rect x="329" y="278" width="1" height="30" fill="url(#ss)" opacity="0.21"/>
<rect x="330" y="281" width="1" height="28" fill="url(#ss)" opacity="0.57"/>
<rect x="333" y="280" width="1" height="32" fill="url(#ss)" opacity="0.50"/>
<rect x="335" y="281" width="1" height="32" fill="url(#ss)" opacity="0.58"/>
<rect x="337" y="304" width="1" height="9" fill="url(#ss)" opacity="0.27"/>
<rect x="338" y="284" width="1" height="30" fill="url(#ss)" opacity="0.40"/>
<rect x="340" y="291" width="1" height="25" fill="url(#ss)" opacity="0.58"/>
<rect x="342" y="296" width="1" height="21" fill="url(#ss)" opacity="0.58"/>
<rect x="343" y="294" width="1" height="25" fill="url(#ss)" opacity="0.15"/>
<rect x="346" y="313" width="1" height="12" fill="url(#ss)" opacity="0.26"/>
<rect x="347" y="291" width="1" height="36" fill="url(#ss)" opacity="0.33"/>
<rect x="348" y="315" width="1" height="14" fill="url(#ss)" opacity="0.25"/>
<rect x="349" y="298" width="1" height="34" fill="url(#ss)" opacity="0.29"/>
<rect x="351" y="326" width="1" height="11" fill="url(#ss)" opacity="0.16"/>
<rect x="352" y="303" width="1" height="37" fill="url(#ss)" opacity="0.29"/>
<rect x="353" y="333" width="1" height="11" fill="url(#ss)" opacity="0.19"/>
<rect x="355" y="326" width="1" height="26" fill="url(#ss)" opacity="0.21"/>
<rect x="357" y="328" width="1" height="33" fill="url(#ss)" opacity="0.08"/>
<rect x="359" y="337" width="1" height="35" fill="url(#ss)" opacity="0.44"/>
<rect x="360" y="369" width="1" height="10" fill="url(#ss)" opacity="0.17"/>
<rect x="361" y="355" width="1" height="30" fill="url(#ss)" opacity="0.26"/>
<rect x="489" y="350" width="1" height="37" fill="url(#ss)" opacity="0.17"/>
<rect x="490" y="365" width="1" height="16" fill="url(#ss)" opacity="0.28"/>
<rect x="492" y="341" width="1" height="28" fill="url(#ss)" opacity="0.44"/>
<rect x="494" y="322" width="1" height="30" fill="url(#ss)" opacity="0.23"/>
<rect x="495" y="343" width="1" height="10" fill="url(#ss)" opacity="0.36"/>
<rect x="496" y="340" width="1" height="17" fill="url(#ss)" opacity="0.16"/>
<rect x="497" y="324" width="1" height="34" fill="url(#ss)" opacity="0.24"/>
<rect x="498" y="316" width="1" height="38" fill="url(#ss)" opacity="0.15"/>
<rect x="499" y="342" width="1" height="11" fill="url(#ss)" opacity="0.16"/>
<rect x="500" y="336" width="1" height="15" fill="url(#ss)" opacity="0.45"/>
<rect x="501" y="317" width="1" height="33" fill="url(#ss)" opacity="0.29"/>
<rect x="507" y="309" width="1" height="17" fill="url(#ss)" opacity="0.30"/>
<rect x="509" y="287" width="1" height="36" fill="url(#ss)" opacity="0.12"/>
<rect x="513" y="301" width="1" height="19" fill="url(#ss)" opacity="0.36"/>
<rect x="515" y="295" width="1" height="25" fill="url(#ss)" opacity="0.52"/>
<rect x="517" y="311" width="1" height="10" fill="url(#ss)" opacity="0.48"/>
<rect x="518" y="294" width="1" height="27" fill="url(#ss)" opacity="0.22"/>
<rect x="520" y="310" width="1" height="10" fill="url(#ss)" opacity="0.44"/>
<rect x="522" y="294" width="1" height="25" fill="url(#ss)" opacity="0.23"/>
<rect x="523" y="280" width="1" height="37" fill="url(#ss)" opacity="0.45"/>
<rect x="524" y="277" width="1" height="38" fill="url(#ss)" opacity="0.41"/>
<rect x="526" y="293" width="1" height="20" fill="url(#ss)" opacity="0.20"/>
<rect x="527" y="280" width="1" height="32" fill="url(#ss)" opacity="0.17"/>
<rect x="528" y="294" width="1" height="17" fill="url(#ss)" opacity="0.25"/>
<rect x="532" y="294" width="1" height="10" fill="url(#ss)" opacity="0.60"/>
<rect x="533" y="265" width="1" height="38" fill="url(#ss)" opacity="0.50"/>
<rect x="534" y="273" width="1" height="28" fill="url(#ss)" opacity="0.14"/>
<rect x="535" y="274" width="1" height="25" fill="url(#ss)" opacity="0.47"/>
<rect x="536" y="263" width="1" height="35" fill="url(#ss)" opacity="0.41"/>
<rect x="537" y="286" width="1" height="10" fill="url(#ss)" opacity="0.59"/>
<rect x="538" y="261" width="1" height="34" fill="url(#ss)" opacity="0.29"/>
<rect x="539" y="269" width="1" height="23" fill="url(#ss)" opacity="0.64"/>
<rect x="540" y="278" width="1" height="13" fill="url(#ss)" opacity="0.21"/>
<rect x="541" y="255" width="1" height="33" fill="url(#ss)" opacity="0.39"/>
<rect x="542" y="273" width="1" height="12" fill="url(#ss)" opacity="0.58"/>
<rect x="147" y="251" width="1" height="26" fill="url(#hs)" opacity="0.65"/>
<rect x="532" y="251" width="1" height="41" fill="url(#hs)" opacity="0.69"/>
<rect x="305" y="251" width="1" height="23" fill="url(#hs)" opacity="0.87"/>
<rect x="525" y="251" width="1" height="40" fill="url(#hs)" opacity="0.94"/>
<rect x="447" y="251" width="1" height="20" fill="url(#hs)" opacity="0.75"/>
<rect x="383" y="251" width="1" height="17" fill="url(#hs)" opacity="0.67"/>
<rect x="227" y="251" width="1" height="40" fill="url(#hs)" opacity="0.64"/>
<rect x="149" y="251" width="1" height="17" fill="url(#hs)" opacity="0.82"/>
<rect x="219" y="251" width="1" height="42" fill="url(#hs)" opacity="0.79"/>
<rect x="95" y="251" width="1" height="25" fill="url(#hs)" opacity="0.51"/>
<rect x="213" y="251" width="1" height="14" fill="url(#hs)" opacity="0.86"/>
<rect x="164" y="251" width="1" height="39" fill="url(#hs)" opacity="0.87"/>
<rect x="146" y="251" width="1" height="25" fill="url(#hs)" opacity="0.97"/>
<rect x="90" y="251" width="1" height="34" fill="url(#hs)" opacity="0.72"/>
<rect x="373" y="251" width="1" height="19" fill="url(#hs)" opacity="0.72"/>
<rect x="202" y="251" width="1" height="32" fill="url(#hs)" opacity="0.51"/>
<rect x="325" y="251" width="1" height="30" fill="url(#hs)" opacity="0.91"/>
<rect x="278" y="251" width="1" height="26" fill="url(#hs)" opacity="0.69"/>
<rect x="263" y="251" width="1" height="29" fill="url(#hs)" opacity="0.92"/>
<rect x="319" y="251" width="1" height="40" fill="url(#hs)" opacity="0.92"/>
<rect x="228" y="251" width="1" height="20" fill="url(#hs)" opacity="0.74"/>
<rect x="224" y="251" width="1" height="16" fill="url(#hs)" opacity="0.53"/>
<rect x="335" y="251" width="1" height="27" fill="url(#hs)" opacity="0.75"/>
<rect x="541" y="251" width="1" height="18" fill="url(#hs)" opacity="0.98"/>
<rect x="331" y="251" width="1" height="31" fill="url(#hs)" opacity="0.75"/>
<rect x="240" y="251" width="1" height="22" fill="url(#hs)" opacity="0.89"/>
<rect x="485" y="251" width="1" height="15" fill="url(#hs)" opacity="0.55"/>
<rect x="240" y="251" width="1" height="25" fill="url(#hs)" opacity="0.71"/>
<rect x="145" y="251" width="1" height="26" fill="url(#hs)" opacity="0.66"/>
<rect x="300" y="251" width="1" height="38" fill="url(#hs)" opacity="0.79"/>
<rect x="127" y="251" width="1" height="18" fill="url(#hs)" opacity="0.78"/>
<rect x="313" y="251" width="1" height="37" fill="url(#hs)" opacity="0.92"/>
<rect x="381" y="251" width="1" height="40" fill="url(#hs)" opacity="0.57"/>
<rect x="252" y="251" width="1" height="22" fill="url(#hs)" opacity="0.90"/>
<rect x="437" y="251" width="1" height="40" fill="url(#hs)" opacity="0.91"/>
<rect x="434" y="251" width="1" height="22" fill="url(#hs)" opacity="0.73"/>
<rect x="180" y="251" width="1" height="31" fill="url(#hs)" opacity="0.58"/>
<rect x="534" y="251" width="1" height="34" fill="url(#hs)" opacity="0.78"/>
<rect x="142" y="251" width="1" height="19" fill="url(#hs)" opacity="0.81"/>
<rect x="247" y="251" width="1" height="23" fill="url(#hs)" opacity="0.61"/>
<rect x="376" y="251" width="1" height="16" fill="url(#hs)" opacity="0.76"/>
<rect x="453" y="251" width="1" height="15" fill="url(#hs)" opacity="0.51"/>
<rect x="522" y="251" width="1" height="27" fill="url(#hs)" opacity="0.94"/>
<rect x="304" y="251" width="1" height="23" fill="url(#hs)" opacity="0.54"/>
<rect x="95" y="251" width="1" height="39" fill="url(#hs)" opacity="0.69"/>
<rect x="529" y="251" width="1" height="18" fill="url(#hs)" opacity="0.56"/>
<rect x="305" y="251" width="1" height="35" fill="url(#hs)" opacity="0.80"/>
<rect x="276" y="251" width="1" height="33" fill="url(#hs)" opacity="0.97"/>
<rect x="230" y="251" width="1" height="35" fill="url(#hs)" opacity="0.52"/>
<rect x="408" y="251" width="1" height="21" fill="url(#hs)" opacity="0.51"/>
<rect x="153" y="251" width="1" height="26" fill="url(#hs)" opacity="0.76"/>
<rect x="85" y="251" width="1" height="39" fill="url(#hs)" opacity="0.59"/>
<rect x="461" y="251" width="1" height="36" fill="url(#hs)" opacity="0.69"/>
<rect x="418" y="251" width="1" height="35" fill="url(#hs)" opacity="1.00"/>
<rect x="162" y="251" width="1" height="37" fill="url(#hs)" opacity="0.56"/>
<rect x="403" y="251" width="1" height="39" fill="url(#hs)" opacity="0.94"/>
<rect x="506" y="251" width="1" height="29" fill="url(#hs)" opacity="0.66"/>
<rect x="425" y="251" width="1" height="16" fill="url(#hs)" opacity="0.78"/>
<rect x="464" y="251" width="1" height="20" fill="url(#hs)" opacity="0.51"/>
<rect x="207" y="251" width="1" height="23" fill="url(#hs)" opacity="0.97"/>
<rect x="403" y="251" width="1" height="34" fill="url(#hs)" opacity="0.88"/>
<rect x="434" y="251" width="1" height="30" fill="url(#hs)" opacity="0.59"/>
<rect x="250" y="251" width="1" height="27" fill="url(#hs)" opacity="0.69"/>
<rect x="507" y="251" width="1" height="39" fill="url(#hs)" opacity="0.85"/>
<rect x="299" y="251" width="1" height="26" fill="url(#hs)" opacity="0.60"/>
<rect x="214" y="251" width="1" height="17" fill="url(#hs)" opacity="0.52"/>
<rect x="322" y="251" width="1" height="26" fill="url(#hs)" opacity="0.66"/>
<rect x="151" y="251" width="1" height="39" fill="url(#hs)" opacity="0.59"/>
<rect x="339" y="251" width="1" height="25" fill="url(#hs)" opacity="0.52"/>
<rect x="441" y="251" width="1" height="22" fill="url(#hs)" opacity="0.55"/>
<rect x="525" y="251" width="1" height="24" fill="url(#hs)" opacity="0.63"/>
<rect x="262" y="251" width="1" height="42" fill="url(#hs)" opacity="0.69"/>
<rect x="239" y="251" width="1" height="36" fill="url(#hs)" opacity="0.97"/>
<rect x="347" y="251" width="1" height="42" fill="url(#hs)" opacity="0.70"/>
<rect x="217" y="251" width="1" height="23" fill="url(#hs)" opacity="0.95"/>
<rect x="146" y="251" width="1" height="17" fill="url(#hs)" opacity="0.55"/>
<rect x="383" y="251" width="1" height="34" fill="url(#hs)" opacity="0.74"/>
<rect x="422" y="251" width="1" height="17" fill="url(#hs)" opacity="0.78"/>
<rect x="116" y="251" width="1" height="40" fill="url(#hs)" opacity="0.52"/>
<rect x="258" y="251" width="1" height="28" fill="url(#hs)" opacity="0.98"/>
<rect x="456" y="251" width="1" height="19" fill="url(#hs)" opacity="0.59"/>
<rect x="362" y="251" width="1" height="24" fill="url(#hs)" opacity="0.53"/>
<rect x="234" y="251" width="1" height="30" fill="url(#hs)" opacity="0.60"/>
<rect x="199" y="251" width="1" height="23" fill="url(#hs)" opacity="0.89"/>
<rect x="114" y="251" width="1" height="37" fill="url(#hs)" opacity="0.98"/>
<rect x="416" y="251" width="1" height="15" fill="url(#hs)" opacity="0.59"/>
<rect x="317" y="251" width="1" height="32" fill="url(#hs)" opacity="0.74"/>
<rect x="501" y="251" width="1" height="34" fill="url(#hs)" opacity="0.58"/>
<rect x="325" y="251" width="1" height="30" fill="url(#hs)" opacity="0.64"/>
<rect x="189" y="251" width="1" height="27" fill="url(#hs)" opacity="0.60"/>
<rect x="199" y="251" width="1" height="16" fill="url(#hs)" opacity="0.62"/>
<rect x="496" y="251" width="1" height="24" fill="url(#hs)" opacity="0.85"/>
<rect x="250" y="251" width="1" height="30" fill="url(#hs)" opacity="0.99"/>
<rect x="342" y="251" width="1" height="38" fill="url(#hs)" opacity="0.54"/>
<rect x="214" y="251" width="1" height="42" fill="url(#hs)" opacity="0.59"/>
<rect x="158" y="251" width="1" height="27" fill="url(#hs)" opacity="0.70"/>
<rect x="201" y="251" width="1" height="19" fill="url(#hs)" opacity="0.75"/>
<rect x="293" y="251" width="1" height="37" fill="url(#hs)" opacity="0.65"/>
<rect x="228" y="251" width="1" height="30" fill="url(#hs)" opacity="0.56"/>
<rect x="443" y="251" width="1" height="23" fill="url(#hs)" opacity="0.56"/>
<rect x="541" y="251" width="1" height="14" fill="url(#hs)" opacity="0.59"/>
<rect x="460" y="251" width="1" height="26" fill="url(#hs)" opacity="0.58"/>
<rect x="321" y="251" width="1" height="22" fill="url(#hs)" opacity="0.88"/>
<rect x="220" y="251" width="1" height="19" fill="url(#hs)" opacity="0.92"/>
<rect x="238" y="251" width="1" height="41" fill="url(#hs)" opacity="0.92"/>
<rect x="127" y="251" width="1" height="32" fill="url(#hs)" opacity="0.51"/>
<rect x="302" y="251" width="1" height="15" fill="url(#hs)" opacity="0.54"/>
<rect x="373" y="251" width="1" height="39" fill="url(#hs)" opacity="0.74"/>
<rect x="196" y="251" width="1" height="19" fill="url(#hs)" opacity="0.53"/>
<rect x="370" y="251" width="1" height="26" fill="url(#hs)" opacity="0.52"/>
<rect x="203" y="251" width="1" height="38" fill="url(#hs)" opacity="0.73"/>
<rect x="423" y="251" width="1" height="37" fill="url(#hs)" opacity="0.68"/>
<rect x="171" y="251" width="1" height="32" fill="url(#hs)" opacity="0.52"/>
<rect x="427" y="251" width="1" height="30" fill="url(#hs)" opacity="0.51"/>
<rect x="210" y="251" width="1" height="31" fill="url(#hs)" opacity="0.96"/>
<rect x="370" y="251" width="1" height="20" fill="url(#hs)" opacity="0.80"/>
<rect x="467" y="251" width="1" height="24" fill="url(#hs)" opacity="0.92"/>
<rect x="345" y="251" width="1" height="14" fill="url(#hs)" opacity="0.63"/>
<rect x="250" y="251" width="1" height="34" fill="url(#hs)" opacity="0.62"/>
<rect x="453" y="251" width="1" height="42" fill="url(#hs)" opacity="0.82"/>
<rect x="458" y="251" width="1" height="39" fill="url(#hs)" opacity="0.58"/>
<rect x="511" y="251" width="1" height="36" fill="url(#hs)" opacity="0.66"/>
<rect x="423" y="251" width="1" height="21" fill="url(#hs)" opacity="0.82"/>
<rect x="174" y="251" width="1" height="18" fill="url(#hs)" opacity="0.72"/>
<rect x="446" y="251" width="1" height="41" fill="url(#hs)" opacity="0.83"/>
<rect x="439" y="251" width="1" height="39" fill="url(#hs)" opacity="0.92"/>
<rect x="80" y="251" width="1" height="37" fill="url(#hs)" opacity="0.93"/>
<rect x="153" y="251" width="1" height="29" fill="url(#hs)" opacity="0.79"/>
<rect x="162" y="251" width="1" height="39" fill="url(#hs)" opacity="0.72"/>
<rect x="404" y="251" width="1" height="17" fill="url(#hs)" opacity="0.82"/>
<rect x="90" y="251" width="1" height="30" fill="url(#hs)" opacity="0.69"/>
<rect x="493" y="251" width="1" height="27" fill="url(#hs)" opacity="0.90"/>
<rect x="525" y="251" width="1" height="40" fill="url(#hs)" opacity="0.76"/>
<rect x="389" y="251" width="1" height="33" fill="url(#hs)" opacity="0.64"/>
<rect x="354" y="251" width="1" height="29" fill="url(#hs)" opacity="0.68"/>
<rect x="503" y="251" width="1" height="17" fill="url(#hs)" opacity="0.65"/>
<rect x="379" y="251" width="1" height="31" fill="url(#hs)" opacity="0.86"/>
<rect x="535" y="251" width="1" height="24" fill="url(#hs)" opacity="0.70"/>
<rect x="131" y="251" width="1" height="29" fill="url(#hs)" opacity="0.93"/>
<rect x="281" y="251" width="1" height="26" fill="url(#hs)" opacity="0.68"/>
<rect x="244" y="251" width="1" height="35" fill="url(#hs)" opacity="0.55"/>
<rect x="226" y="251" width="1" height="38" fill="url(#hs)" opacity="0.88"/>
<rect x="257" y="251" width="1" height="27" fill="url(#hs)" opacity="0.68"/>
<rect x="436" y="251" width="1" height="36" fill="url(#hs)" opacity="0.90"/>
<rect x="77" y="251" width="1" height="13.2" fill="url(#tb)"/>
<rect x="78" y="251" width="1" height="15.5" fill="url(#tb)"/>
<rect x="79" y="251" width="1" height="16.2" fill="url(#tb)"/>
<rect x="80" y="251" width="1" height="16.5" fill="url(#tb2)"/>
<rect x="81" y="251" width="1" height="26.0" fill="url(#tb2)"/>
<rect x="82" y="251" width="1" height="13.1" fill="url(#tb2)"/>
<rect x="83" y="251" width="1" height="13.4" fill="url(#tb2)"/>
<rect x="84" y="251" width="1" height="12.7" fill="url(#tb2)"/>
<rect x="85" y="251" width="1" height="12.8" fill="url(#tb2)"/>
<rect x="86" y="251" width="1" height="12.5" fill="url(#tb2)"/>
<rect x="87" y="251" width="1" height="13.3" fill="url(#tb2)"/>
<rect x="88" y="251" width="1" height="13.1" fill="url(#tb2)"/>
<rect x="89" y="251" width="1" height="12.9" fill="url(#tb2)"/>
<rect x="90" y="251" width="1" height="11.8" fill="url(#tb2)"/>
<rect x="91" y="251" width="1" height="11.4" fill="url(#tb2)"/>
<rect x="92" y="251" width="1" height="11.2" fill="url(#tb2)"/>
<rect x="93" y="251" width="1" height="11.4" fill="url(#tb2)"/>
<rect x="94" y="251" width="1" height="11.7" fill="url(#tb2)"/>
<rect x="95" y="251" width="1" height="12.9" fill="url(#tb2)"/>
<rect x="96" y="251" width="1" height="12.5" fill="url(#tb2)"/>
<rect x="97" y="251" width="1" height="11.9" fill="url(#tb2)"/>
<rect x="98" y="251" width="1" height="11.7" fill="url(#tb2)"/>
<rect x="99" y="251" width="1" height="13.0" fill="url(#tb2)"/>
<rect x="100" y="251" width="1" height="13.9" fill="url(#tb2)"/>
<rect x="101" y="251" width="1" height="24.5" fill="url(#tb2)"/>
<rect x="102" y="251" width="1" height="16.9" fill="url(#tb2)"/>
<rect x="103" y="251" width="1" height="27.3" fill="url(#tb2)"/>
<rect x="104" y="251" width="1" height="14.9" fill="url(#tb2)"/>
<rect x="105" y="251" width="1" height="14.8" fill="url(#tb2)"/>
<rect x="106" y="251" width="1" height="23.1" fill="url(#tb2)"/>
<rect x="107" y="251" width="1" height="13.7" fill="url(#tb2)"/>
<rect x="108" y="251" width="1" height="13.3" fill="url(#tb2)"/>
<rect x="109" y="251" width="1" height="13.9" fill="url(#tb2)"/>
<rect x="110" y="251" width="1" height="11.5" fill="url(#tb2)"/>
<rect x="111" y="251" width="1" height="11.5" fill="url(#tb2)"/>
<rect x="112" y="251" width="1" height="8.8" fill="url(#tb)"/>
<rect x="113" y="251" width="1" height="8.3" fill="url(#tb)"/>
<rect x="114" y="251" width="1" height="9.7" fill="url(#tb)"/>
<rect x="115" y="251" width="1" height="8.1" fill="url(#tb)"/>
<rect x="116" y="251" width="1" height="8.4" fill="url(#tb)"/>
<rect x="117" y="251" width="1" height="9.4" fill="url(#tb)"/>
<rect x="118" y="251" width="1" height="10.1" fill="url(#tb)"/>
<rect x="119" y="251" width="1" height="9.9" fill="url(#tb)"/>
<rect x="120" y="251" width="1" height="10.7" fill="url(#tb)"/>
<rect x="121" y="251" width="1" height="10.9" fill="url(#tb)"/>
<rect x="122" y="251" width="1" height="13.2" fill="url(#tb)"/>
<rect x="123" y="251" width="1" height="12.7" fill="url(#tb)"/>
<rect x="124" y="251" width="1" height="22.8" fill="url(#tb)"/>
<rect x="125" y="251" width="1" height="11.4" fill="url(#tb0)"/>
<rect x="126" y="251" width="1" height="20.9" fill="url(#tb0)"/>
<rect x="127" y="251" width="1" height="11.4" fill="url(#tb0)"/>
<rect x="128" y="251" width="1" height="11.8" fill="url(#tb0)"/>
<rect x="129" y="251" width="1" height="12.0" fill="url(#tb0)"/>
<rect x="130" y="251" width="1" height="13.5" fill="url(#tb0)"/>
<rect x="131" y="251" width="1" height="14.5" fill="url(#tb0)"/>
<rect x="132" y="251" width="1" height="14.9" fill="url(#tb0)"/>
<rect x="133" y="251" width="1" height="21.4" fill="url(#tb0)"/>
<rect x="134" y="251" width="1" height="14.2" fill="url(#tb0)"/>
<rect x="135" y="251" width="1" height="11.9" fill="url(#tb0)"/>
<rect x="136" y="251" width="1" height="11.5" fill="url(#tb0)"/>
<rect x="137" y="251" width="1" height="10.1" fill="url(#tb0)"/>
<rect x="138" y="251" width="1" height="8.8" fill="url(#tb0)"/>
<rect x="139" y="251" width="1" height="10.2" fill="url(#tb0)"/>
<rect x="140" y="251" width="1" height="10.6" fill="url(#tb0)"/>
<rect x="141" y="251" width="1" height="9.3" fill="url(#tb0)"/>
<rect x="142" y="251" width="1" height="8.9" fill="url(#tb0)"/>
<rect x="143" y="251" width="1" height="8.9" fill="url(#tb0)"/>
<rect x="144" y="251" width="1" height="9.1" fill="url(#tb0)"/>
<rect x="145" y="251" width="1" height="10.2" fill="url(#tb0)"/>
<rect x="146" y="251" width="1" height="11.1" fill="url(#tb0)"/>
<rect x="147" y="251" width="1" height="10.4" fill="url(#tb0)"/>
<rect x="148" y="251" width="1" height="10.4" fill="url(#tb0)"/>
<rect x="149" y="251" width="1" height="12.6" fill="url(#tb0)"/>
<rect x="150" y="251" width="1" height="20.8" fill="url(#tb0)"/>
<rect x="151" y="251" width="1" height="10.9" fill="url(#tb0)"/>
<rect x="152" y="251" width="1" height="11.9" fill="url(#tb0)"/>
<rect x="153" y="251" width="1" height="12.3" fill="url(#tb0)"/>
<rect x="154" y="251" width="1" height="12.3" fill="url(#tb0)"/>
<rect x="155" y="251" width="1" height="13.2" fill="url(#tb0)"/>
<rect x="156" y="251" width="1" height="11.0" fill="url(#tb0)"/>
<rect x="157" y="251" width="1" height="11.7" fill="url(#tb0)"/>
<rect x="158" y="251" width="1" height="10.8" fill="url(#tb0)"/>
<rect x="159" y="251" width="1" height="10.7" fill="url(#tb0)"/>
<rect x="160" y="251" width="1" height="17.7" fill="url(#tb0)"/>
<rect x="161" y="251" width="1" height="11.4" fill="url(#tb0)"/>
<rect x="162" y="251" width="1" height="10.1" fill="url(#tb0)"/>
<rect x="163" y="251" width="1" height="12.0" fill="url(#tb0)"/>
<rect x="164" y="251" width="1" height="8.7" fill="url(#tb0)"/>
<rect x="165" y="251" width="1" height="8.5" fill="url(#tb0)"/>
<rect x="166" y="251" width="1" height="8.9" fill="url(#tb0)"/>
<rect x="167" y="251" width="1" height="13.6" fill="url(#tb0)"/>
<rect x="168" y="251" width="1" height="9.1" fill="url(#tb0)"/>
<rect x="169" y="251" width="1" height="8.8" fill="url(#tb)"/>
<rect x="170" y="251" width="1" height="8.7" fill="url(#tb)"/>
<rect x="171" y="251" width="1" height="10.4" fill="url(#tb)"/>
<rect x="172" y="251" width="1" height="10.0" fill="url(#tb)"/>
<rect x="173" y="251" width="1" height="10.7" fill="url(#tb)"/>
<rect x="174" y="251" width="1" height="9.4" fill="url(#tb)"/>
<rect x="175" y="251" width="1" height="16.4" fill="url(#tb)"/>
<rect x="176" y="251" width="1" height="9.7" fill="url(#tb)"/>
<rect x="177" y="251" width="1" height="12.2" fill="url(#tb)"/>
<rect x="178" y="251" width="1" height="11.3" fill="url(#tb)"/>
<rect x="179" y="251" width="1" height="10.1" fill="url(#tb)"/>
<rect x="180" y="251" width="1" height="11.5" fill="url(#tb)"/>
<rect x="181" y="251" width="1" height="10.5" fill="url(#tb0)"/>
<rect x="182" y="251" width="1" height="10.7" fill="url(#tb0)"/>
<rect x="183" y="251" width="1" height="11.2" fill="url(#tb0)"/>
<rect x="184" y="251" width="1" height="13.3" fill="url(#tb0)"/>
<rect x="185" y="251" width="1" height="12.8" fill="url(#tb0)"/>
<rect x="186" y="251" width="1" height="11.1" fill="url(#tb0)"/>
<rect x="187" y="251" width="1" height="11.5" fill="url(#tb0)"/>
<rect x="188" y="251" width="1" height="11.2" fill="url(#tb0)"/>
<rect x="189" y="251" width="1" height="11.4" fill="url(#tb0)"/>
<rect x="190" y="251" width="1" height="10.6" fill="url(#tb0)"/>
<rect x="191" y="251" width="1" height="11.7" fill="url(#tb0)"/>
<rect x="192" y="251" width="1" height="10.4" fill="url(#tb0)"/>
<rect x="193" y="251" width="1" height="16.7" fill="url(#tb0)"/>
<rect x="194" y="251" width="1" height="10.8" fill="url(#tb0)"/>
<rect x="195" y="251" width="1" height="11.0" fill="url(#tb0)"/>
<rect x="196" y="251" width="1" height="11.1" fill="url(#tb0)"/>
<rect x="197" y="251" width="1" height="11.4" fill="url(#tb0)"/>
<rect x="198" y="251" width="1" height="10.5" fill="url(#tb0)"/>
<rect x="199" y="251" width="1" height="11.2" fill="url(#tb0)"/>
<rect x="200" y="251" width="1" height="12.2" fill="url(#tb0)"/>
<rect x="201" y="251" width="1" height="12.1" fill="url(#tb0)"/>
<rect x="202" y="251" width="1" height="11.2" fill="url(#tb0)"/>
<rect x="203" y="251" width="1" height="11.2" fill="url(#tb0)"/>
<rect x="204" y="251" width="1" height="11.7" fill="url(#tb0)"/>
<rect x="205" y="251" width="1" height="12.1" fill="url(#tb0)"/>
<rect x="206" y="251" width="1" height="11.2" fill="url(#tb0)"/>
<rect x="207" y="251" width="1" height="10.5" fill="url(#tb0)"/>
<rect x="208" y="251" width="1" height="10.2" fill="url(#tb0)"/>
<rect x="209" y="251" width="1" height="9.3" fill="url(#tb0)"/>
<rect x="210" y="251" width="1" height="9.9" fill="url(#tb0)"/>
<rect x="211" y="251" width="1" height="9.8" fill="url(#tb0)"/>
<rect x="212" y="251" width="1" height="10.1" fill="url(#tb0)"/>
<rect x="213" y="251" width="1" height="10.1" fill="url(#tb0)"/>
<rect x="214" y="251" width="1" height="9.2" fill="url(#tb0)"/>
<rect x="215" y="251" width="1" height="8.7" fill="url(#tb0)"/>
<rect x="216" y="251" width="1" height="9.3" fill="url(#tb0)"/>
<rect x="217" y="251" width="1" height="9.0" fill="url(#tb0)"/>
<rect x="218" y="251" width="1" height="11.3" fill="url(#tb0)"/>
<rect x="219" y="251" width="1" height="9.1" fill="url(#tb0)"/>
<rect x="220" y="251" width="1" height="10.9" fill="url(#tb0)"/>
<rect x="221" y="251" width="1" height="9.4" fill="url(#tb0)"/>
<rect x="222" y="251" width="1" height="11.0" fill="url(#tb0)"/>
<rect x="223" y="251" width="1" height="11.1" fill="url(#tb0)"/>
<rect x="224" y="251" width="1" height="8.8" fill="url(#tb0)"/>
<rect x="225" y="251" width="1" height="16.4" fill="url(#tb0)"/>
<rect x="226" y="251" width="1" height="11.2" fill="url(#tb0)"/>
<rect x="227" y="251" width="1" height="10.7" fill="url(#tb0)"/>
<rect x="228" y="251" width="1" height="8.4" fill="url(#tb0)"/>
<rect x="229" y="251" width="1" height="9.1" fill="url(#tb0)"/>
<rect x="230" y="251" width="1" height="8.9" fill="url(#tb0)"/>
<rect x="231" y="251" width="1" height="9.0" fill="url(#tb0)"/>
<rect x="232" y="251" width="1" height="9.0" fill="url(#tb0)"/>
<rect x="233" y="251" width="1" height="10.9" fill="url(#tb0)"/>
<rect x="234" y="251" width="1" height="10.4" fill="url(#tb0)"/>
<rect x="235" y="251" width="1" height="10.1" fill="url(#tb0)"/>
<rect x="236" y="251" width="1" height="11.3" fill="url(#tb0)"/>
<rect x="237" y="251" width="1" height="10.3" fill="url(#tb0)"/>
<rect x="238" y="251" width="1" height="10.8" fill="url(#tb0)"/>
<rect x="239" y="251" width="1" height="10.2" fill="url(#tb)"/>
<rect x="240" y="251" width="1" height="11.0" fill="url(#tb)"/>
<rect x="241" y="251" width="1" height="19.0" fill="url(#tb)"/>
<rect x="242" y="251" width="1" height="11.5" fill="url(#tb)"/>
<rect x="243" y="251" width="1" height="14.0" fill="url(#tb)"/>
<rect x="244" y="251" width="1" height="11.5" fill="url(#tb)"/>
<rect x="245" y="251" width="1" height="13.1" fill="url(#tb)"/>
<rect x="246" y="251" width="1" height="12.7" fill="url(#tb)"/>
<rect x="247" y="251" width="1" height="12.1" fill="url(#tb)"/>
<rect x="248" y="251" width="1" height="19.8" fill="url(#tb)"/>
<rect x="249" y="251" width="1" height="22.3" fill="url(#tb)"/>
<rect x="250" y="251" width="1" height="14.2" fill="url(#tb)"/>
<rect x="251" y="251" width="1" height="12.6" fill="url(#tb)"/>
<rect x="252" y="251" width="1" height="12.2" fill="url(#tb)"/>
<rect x="253" y="251" width="1" height="13.2" fill="url(#tb)"/>
<rect x="254" y="251" width="1" height="11.7" fill="url(#tb)"/>
<rect x="255" y="251" width="1" height="11.5" fill="url(#tb2)"/>
<rect x="256" y="251" width="1" height="11.3" fill="url(#tb2)"/>
<rect x="257" y="251" width="1" height="12.5" fill="url(#tb2)"/>
<rect x="258" y="251" width="1" height="12.8" fill="url(#tb2)"/>
<rect x="259" y="251" width="1" height="17.4" fill="url(#tb2)"/>
<rect x="260" y="251" width="1" height="11.2" fill="url(#tb2)"/>
<rect x="261" y="251" width="1" height="11.6" fill="url(#tb2)"/>
<rect x="262" y="251" width="1" height="13.3" fill="url(#tb2)"/>
<rect x="263" y="251" width="1" height="13.1" fill="url(#tb2)"/>
<rect x="264" y="251" width="1" height="11.7" fill="url(#tb2)"/>
<rect x="265" y="251" width="1" height="12.8" fill="url(#tb2)"/>
<rect x="266" y="251" width="1" height="19.9" fill="url(#tb2)"/>
<rect x="267" y="251" width="1" height="11.4" fill="url(#tb)"/>
<rect x="268" y="251" width="1" height="11.4" fill="url(#tb)"/>
<rect x="269" y="251" width="1" height="11.0" fill="url(#tb)"/>
<rect x="270" y="251" width="1" height="11.7" fill="url(#tb)"/>
<rect x="271" y="251" width="1" height="12.3" fill="url(#tb)"/>
<rect x="272" y="251" width="1" height="12.4" fill="url(#tb)"/>
<rect x="273" y="251" width="1" height="10.0" fill="url(#tb)"/>
<rect x="274" y="251" width="1" height="10.1" fill="url(#tb)"/>
<rect x="275" y="251" width="1" height="10.2" fill="url(#tb)"/>
<rect x="276" y="251" width="1" height="10.0" fill="url(#tb)"/>
<rect x="277" y="251" width="1" height="12.6" fill="url(#tb)"/>
<rect x="278" y="251" width="1" height="17.2" fill="url(#tb)"/>
<rect x="279" y="251" width="1" height="13.9" fill="url(#tb)"/>
<rect x="280" y="251" width="1" height="13.5" fill="url(#tb)"/>
<rect x="281" y="251" width="1" height="13.3" fill="url(#tb)"/>
<rect x="282" y="251" width="1" height="12.6" fill="url(#tb2)"/>
<rect x="283" y="251" width="1" height="13.1" fill="url(#tb2)"/>
<rect x="284" y="251" width="1" height="12.5" fill="url(#tb2)"/>
<rect x="285" y="251" width="1" height="11.9" fill="url(#tb2)"/>
<rect x="286" y="251" width="1" height="11.3" fill="url(#tb2)"/>
<rect x="287" y="251" width="1" height="16.9" fill="url(#tb2)"/>
<rect x="288" y="251" width="1" height="10.1" fill="url(#tb2)"/>
<rect x="289" y="251" width="1" height="9.7" fill="url(#tb2)"/>
<rect x="290" y="251" width="1" height="9.3" fill="url(#tb2)"/>
<rect x="291" y="251" width="1" height="8.8" fill="url(#tb2)"/>
<rect x="292" y="251" width="1" height="13.8" fill="url(#tb2)"/>
<rect x="293" y="251" width="1" height="13.6" fill="url(#tb2)"/>
<rect x="294" y="251" width="1" height="8.3" fill="url(#tb)"/>
<rect x="295" y="251" width="1" height="8.4" fill="url(#tb)"/>
<rect x="296" y="251" width="1" height="9.9" fill="url(#tb)"/>
<rect x="297" y="251" width="1" height="8.7" fill="url(#tb)"/>
<rect x="298" y="251" width="1" height="9.2" fill="url(#tb)"/>
<rect x="299" y="251" width="1" height="10.6" fill="url(#tb)"/>
<rect x="300" y="251" width="1" height="10.3" fill="url(#tb)"/>
<rect x="301" y="251" width="1" height="9.9" fill="url(#tb)"/>
<rect x="302" y="251" width="1" height="16.0" fill="url(#tb)"/>
<rect x="303" y="251" width="1" height="15.9" fill="url(#tb)"/>
<rect x="304" y="251" width="1" height="11.2" fill="url(#tb)"/>
<rect x="305" y="251" width="1" height="10.5" fill="url(#tb)"/>
<rect x="306" y="251" width="1" height="10.4" fill="url(#tb)"/>
<rect x="307" y="251" width="1" height="10.7" fill="url(#tb)"/>
<rect x="308" y="251" width="1" height="10.9" fill="url(#tb)"/>
<rect x="309" y="251" width="1" height="10.8" fill="url(#tb)"/>
<rect x="310" y="251" width="1" height="12.5" fill="url(#tb)"/>
<rect x="311" y="251" width="1" height="12.6" fill="url(#tb)"/>
<rect x="312" y="251" width="1" height="12.7" fill="url(#tb)"/>
<rect x="313" y="251" width="1" height="11.2" fill="url(#tb)"/>
<rect x="314" y="251" width="1" height="11.3" fill="url(#tb)"/>
<rect x="315" y="251" width="1" height="18.0" fill="url(#tb)"/>
<rect x="316" y="251" width="1" height="11.2" fill="url(#tb)"/>
<rect x="317" y="251" width="1" height="11.4" fill="url(#tb)"/>
<rect x="318" y="251" width="1" height="11.6" fill="url(#tb)"/>
<rect x="319" y="251" width="1" height="12.5" fill="url(#tb)"/>
<rect x="320" y="251" width="1" height="12.3" fill="url(#tb)"/>
<rect x="321" y="251" width="1" height="13.6" fill="url(#tb)"/>
<rect x="322" y="251" width="1" height="12.3" fill="url(#tb)"/>
<rect x="323" y="251" width="1" height="12.1" fill="url(#tb)"/>
<rect x="324" y="251" width="1" height="11.5" fill="url(#tb)"/>
<rect x="325" y="251" width="1" height="10.7" fill="url(#tb)"/>
<rect x="326" y="251" width="1" height="10.3" fill="url(#tb)"/>
<rect x="327" y="251" width="1" height="16.8" fill="url(#tb)"/>
<rect x="328" y="251" width="1" height="10.2" fill="url(#tb)"/>
<rect x="329" y="251" width="1" height="10.0" fill="url(#tb)"/>
<rect x="330" y="251" width="1" height="10.6" fill="url(#tb)"/>
<rect x="331" y="251" width="1" height="12.1" fill="url(#tb)"/>
<rect x="332" y="251" width="1" height="11.2" fill="url(#tb)"/>
<rect x="333" y="251" width="1" height="10.7" fill="url(#tb)"/>
<rect x="334" y="251" width="1" height="14.9" fill="url(#tb)"/>
<rect x="335" y="251" width="1" height="14.0" fill="url(#tb)"/>
<rect x="336" y="251" width="1" height="10.4" fill="url(#tb)"/>
<rect x="337" y="251" width="1" height="8.4" fill="url(#tb)"/>
<rect x="338" y="251" width="1" height="9.8" fill="url(#tb)"/>
<rect x="339" y="251" width="1" height="9.0" fill="url(#tb)"/>
<rect x="340" y="251" width="1" height="10.4" fill="url(#tb)"/>
<rect x="341" y="251" width="1" height="9.1" fill="url(#tb2)"/>
<rect x="342" y="251" width="1" height="15.8" fill="url(#tb2)"/>
<rect x="343" y="251" width="1" height="8.8" fill="url(#tb2)"/>
<rect x="344" y="251" width="1" height="9.0" fill="url(#tb2)"/>
<rect x="345" y="251" width="1" height="10.1" fill="url(#tb)"/>
<rect x="346" y="251" width="1" height="9.5" fill="url(#tb)"/>
<rect x="347" y="251" width="1" height="9.2" fill="url(#tb)"/>
<rect x="348" y="251" width="1" height="16.5" fill="url(#tb0)"/>
<rect x="349" y="251" width="1" height="10.6" fill="url(#tb0)"/>
<rect x="350" y="251" width="1" height="9.0" fill="url(#tb0)"/>
<rect x="351" y="251" width="1" height="9.5" fill="url(#tb0)"/>
<rect x="352" y="251" width="1" height="11.6" fill="url(#tb0)"/>
<rect x="353" y="251" width="1" height="10.2" fill="url(#tb0)"/>
<rect x="354" y="251" width="1" height="11.2" fill="url(#tb0)"/>
<rect x="355" y="251" width="1" height="11.1" fill="url(#tb0)"/>
<rect x="356" y="251" width="1" height="9.5" fill="url(#tb0)"/>
<rect x="357" y="251" width="1" height="8.8" fill="url(#tb0)"/>
<rect x="358" y="251" width="1" height="8.9" fill="url(#tb0)"/>
<rect x="359" y="251" width="1" height="9.0" fill="url(#tb0)"/>
<rect x="360" y="251" width="1" height="9.1" fill="url(#tb0)"/>
<rect x="361" y="251" width="1" height="9.1" fill="url(#tb0)"/>
<rect x="362" y="251" width="1" height="9.2" fill="url(#tb0)"/>
<rect x="363" y="251" width="1" height="9.3" fill="url(#tb0)"/>
<rect x="364" y="251" width="1" height="10.8" fill="url(#tb0)"/>
<rect x="365" y="251" width="1" height="11.0" fill="url(#tb0)"/>
<rect x="366" y="251" width="1" height="9.7" fill="url(#tb0)"/>
<rect x="367" y="251" width="1" height="9.8" fill="url(#tb0)"/>
<rect x="368" y="251" width="1" height="10.4" fill="url(#tb0)"/>
<rect x="369" y="251" width="1" height="10.8" fill="url(#tb0)"/>
<rect x="370" y="251" width="1" height="11.8" fill="url(#tb0)"/>
<rect x="371" y="251" width="1" height="18.3" fill="url(#tb0)"/>
<rect x="372" y="251" width="1" height="12.8" fill="url(#tb0)"/>
<rect x="373" y="251" width="1" height="11.8" fill="url(#tb0)"/>
<rect x="374" y="251" width="1" height="11.6" fill="url(#tb0)"/>
<rect x="375" y="251" width="1" height="12.1" fill="url(#tb0)"/>
<rect x="376" y="251" width="1" height="12.9" fill="url(#tb0)"/>
<rect x="377" y="251" width="1" height="12.8" fill="url(#tb0)"/>
<rect x="378" y="251" width="1" height="12.8" fill="url(#tb0)"/>
<rect x="379" y="251" width="1" height="10.1" fill="url(#tb0)"/>
<rect x="380" y="251" width="1" height="12.8" fill="url(#tb0)"/>
<rect x="381" y="251" width="1" height="13.2" fill="url(#tb0)"/>
<rect x="382" y="251" width="1" height="12.2" fill="url(#tb0)"/>
<rect x="383" y="251" width="1" height="11.8" fill="url(#tb0)"/>
<rect x="384" y="251" width="1" height="12.2" fill="url(#tb0)"/>
<rect x="385" y="251" width="1" height="19.9" fill="url(#tb0)"/>
<rect x="386" y="251" width="1" height="13.7" fill="url(#tb0)"/>
<rect x="387" y="251" width="1" height="14.8" fill="url(#tb0)"/>
<rect x="388" y="251" width="1" height="14.8" fill="url(#tb0)"/>
<rect x="389" y="251" width="1" height="15.7" fill="url(#tb0)"/>
<rect x="390" y="251" width="1" height="15.6" fill="url(#tb0)"/>
<rect x="391" y="251" width="1" height="17.9" fill="url(#tb0)"/>
<rect x="392" y="251" width="1" height="16.1" fill="url(#tb0)"/>
<rect x="393" y="251" width="1" height="16.6" fill="url(#tb0)"/>
<rect x="394" y="251" width="1" height="27.8" fill="url(#tb0)"/>
<rect x="395" y="251" width="1" height="17.9" fill="url(#tb0)"/>
<rect x="396" y="251" width="1" height="17.3" fill="url(#tb0)"/>
<rect x="397" y="251" width="1" height="17.2" fill="url(#tb0)"/>
<rect x="398" y="251" width="1" height="16.9" fill="url(#tb0)"/>
<rect x="399" y="251" width="1" height="16.8" fill="url(#tb0)"/>
<rect x="400" y="251" width="1" height="17.6" fill="url(#tb0)"/>
<rect x="401" y="251" width="1" height="28.9" fill="url(#tb0)"/>
<rect x="402" y="251" width="1" height="17.7" fill="url(#tb0)"/>
<rect x="403" y="251" width="1" height="18.3" fill="url(#tb0)"/>
<rect x="404" y="251" width="1" height="29.6" fill="url(#tb0)"/>
<rect x="405" y="251" width="1" height="22.6" fill="url(#tb0)"/>
<rect x="406" y="251" width="1" height="16.6" fill="url(#tb0)"/>
<rect x="407" y="251" width="1" height="22.9" fill="url(#tb0)"/>
<rect x="408" y="251" width="1" height="13.7" fill="url(#tb0)"/>
<rect x="409" y="251" width="1" height="13.9" fill="url(#tb0)"/>
<rect x="410" y="251" width="1" height="14.5" fill="url(#tb0)"/>
<rect x="411" y="251" width="1" height="22.1" fill="url(#tb0)"/>
<rect x="412" y="251" width="1" height="11.2" fill="url(#tb0)"/>
<rect x="413" y="251" width="1" height="11.5" fill="url(#tb0)"/>
<rect x="414" y="251" width="1" height="11.8" fill="url(#tb0)"/>
<rect x="415" y="251" width="1" height="14.3" fill="url(#tb0)"/>
<rect x="416" y="251" width="1" height="12.9" fill="url(#tb0)"/>
<rect x="417" y="251" width="1" height="20.5" fill="url(#tb0)"/>
<rect x="418" y="251" width="1" height="17.2" fill="url(#tb0)"/>
<rect x="419" y="251" width="1" height="16.5" fill="url(#tb0)"/>
<rect x="420" y="251" width="1" height="16.3" fill="url(#tb)"/>
<rect x="421" y="251" width="1" height="13.1" fill="url(#tb)"/>
<rect x="422" y="251" width="1" height="15.9" fill="url(#tb)"/>
<rect x="423" y="251" width="1" height="13.6" fill="url(#tb)"/>
<rect x="424" y="251" width="1" height="15.6" fill="url(#tb)"/>
<rect x="425" y="251" width="1" height="15.4" fill="url(#tb)"/>
<rect x="426" y="251" width="1" height="14.1" fill="url(#tb)"/>
<rect x="427" y="251" width="1" height="25.9" fill="url(#tb)"/>
<rect x="428" y="251" width="1" height="15.1" fill="url(#tb)"/>
<rect x="429" y="251" width="1" height="13.6" fill="url(#tb)"/>
<rect x="430" y="251" width="1" height="17.5" fill="url(#tb)"/>
<rect x="431" y="251" width="1" height="15.4" fill="url(#tb)"/>
<rect x="432" y="251" width="1" height="15.8" fill="url(#tb0)"/>
<rect x="433" y="251" width="1" height="12.1" fill="url(#tb0)"/>
<rect x="434" y="251" width="1" height="11.6" fill="url(#tb0)"/>
<rect x="435" y="251" width="1" height="11.3" fill="url(#tb0)"/>
<rect x="436" y="251" width="1" height="12.4" fill="url(#tb0)"/>
<rect x="437" y="251" width="1" height="12.5" fill="url(#tb0)"/>
<rect x="438" y="251" width="1" height="12.8" fill="url(#tb0)"/>
<rect x="439" y="251" width="1" height="13.3" fill="url(#tb0)"/>
<rect x="440" y="251" width="1" height="11.4" fill="url(#tb0)"/>
<rect x="441" y="251" width="1" height="12.0" fill="url(#tb0)"/>
<rect x="442" y="251" width="1" height="13.7" fill="url(#tb0)"/>
<rect x="443" y="251" width="1" height="13.6" fill="url(#tb0)"/>
<rect x="444" y="251" width="1" height="13.4" fill="url(#tb0)"/>
<rect x="445" y="251" width="1" height="15.7" fill="url(#tb0)"/>
<rect x="446" y="251" width="1" height="24.1" fill="url(#tb0)"/>
<rect x="447" y="251" width="1" height="16.5" fill="url(#tb0)"/>
<rect x="448" y="251" width="1" height="14.9" fill="url(#tb0)"/>
<rect x="449" y="251" width="1" height="14.6" fill="url(#tb0)"/>
<rect x="450" y="251" width="1" height="26.7" fill="url(#tb0)"/>
<rect x="451" y="251" width="1" height="16.0" fill="url(#tb0)"/>
<rect x="452" y="251" width="1" height="15.7" fill="url(#tb0)"/>
<rect x="453" y="251" width="1" height="17.2" fill="url(#tb0)"/>
<rect x="454" y="251" width="1" height="17.6" fill="url(#tb0)"/>
<rect x="455" y="251" width="1" height="18.8" fill="url(#tb0)"/>
<rect x="456" y="251" width="1" height="18.1" fill="url(#tb0)"/>
<rect x="457" y="251" width="1" height="17.9" fill="url(#tb0)"/>
<rect x="458" y="251" width="1" height="16.1" fill="url(#tb0)"/>
<rect x="459" y="251" width="1" height="15.9" fill="url(#tb0)"/>
<rect x="460" y="251" width="1" height="23.1" fill="url(#tb0)"/>
<rect x="461" y="251" width="1" height="14.5" fill="url(#tb0)"/>
<rect x="462" y="251" width="1" height="13.8" fill="url(#tb0)"/>
<rect x="463" y="251" width="1" height="14.4" fill="url(#tb0)"/>
<rect x="464" y="251" width="1" height="14.1" fill="url(#tb0)"/>
<rect x="465" y="251" width="1" height="12.1" fill="url(#tb0)"/>
<rect x="466" y="251" width="1" height="11.6" fill="url(#tb)"/>
<rect x="467" y="251" width="1" height="12.1" fill="url(#tb)"/>
<rect x="468" y="251" width="1" height="13.4" fill="url(#tb)"/>
<rect x="469" y="251" width="1" height="14.5" fill="url(#tb)"/>
<rect x="470" y="251" width="1" height="20.4" fill="url(#tb)"/>
<rect x="471" y="251" width="1" height="14.5" fill="url(#tb)"/>
<rect x="472" y="251" width="1" height="14.5" fill="url(#tb)"/>
<rect x="473" y="251" width="1" height="13.5" fill="url(#tb0)"/>
<rect x="474" y="251" width="1" height="12.9" fill="url(#tb0)"/>
<rect x="475" y="251" width="1" height="15.7" fill="url(#tb0)"/>
<rect x="476" y="251" width="1" height="16.2" fill="url(#tb0)"/>
<rect x="477" y="251" width="1" height="12.8" fill="url(#tb0)"/>
<rect x="478" y="251" width="1" height="20.9" fill="url(#tb0)"/>
<rect x="479" y="251" width="1" height="11.0" fill="url(#tb0)"/>
<rect x="480" y="251" width="1" height="10.7" fill="url(#tb0)"/>
<rect x="481" y="251" width="1" height="11.5" fill="url(#tb0)"/>
<rect x="482" y="251" width="1" height="11.7" fill="url(#tb0)"/>
<rect x="483" y="251" width="1" height="12.9" fill="url(#tb0)"/>
<rect x="484" y="251" width="1" height="13.6" fill="url(#tb0)"/>
<rect x="485" y="251" width="1" height="13.9" fill="url(#tb0)"/>
<rect x="486" y="251" width="1" height="14.3" fill="url(#tb0)"/>
<rect x="487" y="251" width="1" height="12.8" fill="url(#tb0)"/>
<rect x="488" y="251" width="1" height="15.2" fill="url(#tb0)"/>
<rect x="489" y="251" width="1" height="14.3" fill="url(#tb0)"/>
<rect x="490" y="251" width="1" height="15.4" fill="url(#tb0)"/>
<rect x="491" y="251" width="1" height="16.9" fill="url(#tb0)"/>
<rect x="492" y="251" width="1" height="16.1" fill="url(#tb0)"/>
<rect x="493" y="251" width="1" height="14.2" fill="url(#tb0)"/>
<rect x="494" y="251" width="1" height="21.3" fill="url(#tb0)"/>
<rect x="495" y="251" width="1" height="14.1" fill="url(#tb0)"/>
<rect x="496" y="251" width="1" height="14.6" fill="url(#tb0)"/>
<rect x="497" y="251" width="1" height="23.9" fill="url(#tb0)"/>
<rect x="498" y="251" width="1" height="15.7" fill="url(#tb0)"/>
<rect x="499" y="251" width="1" height="15.9" fill="url(#tb0)"/>
<rect x="500" y="251" width="1" height="15.9" fill="url(#tb0)"/>
<rect x="501" y="251" width="1" height="16.8" fill="url(#tb0)"/>
<rect x="502" y="251" width="1" height="15.6" fill="url(#tb0)"/>
<rect x="503" y="251" width="1" height="15.9" fill="url(#tb0)"/>
<rect x="504" y="251" width="1" height="15.9" fill="url(#tb0)"/>
<rect x="505" y="251" width="1" height="14.6" fill="url(#tb0)"/>
<rect x="506" y="251" width="1" height="12.6" fill="url(#tb0)"/>
<rect x="507" y="251" width="1" height="19.5" fill="url(#tb)"/>
<rect x="508" y="251" width="1" height="12.7" fill="url(#tb)"/>
<rect x="509" y="251" width="1" height="12.1" fill="url(#tb)"/>
<rect x="510" y="251" width="1" height="12.1" fill="url(#tb)"/>
<rect x="511" y="251" width="1" height="12.2" fill="url(#tb)"/>
<rect x="512" y="251" width="1" height="11.9" fill="url(#tb)"/>
<rect x="513" y="251" width="1" height="20.6" fill="url(#tb)"/>
<rect x="514" y="251" width="1" height="13.5" fill="url(#tb)"/>
<rect x="515" y="251" width="1" height="19.8" fill="url(#tb)"/>
<rect x="516" y="251" width="1" height="12.1" fill="url(#tb)"/>
<rect x="517" y="251" width="1" height="10.9" fill="url(#tb)"/>
<rect x="518" y="251" width="1" height="11.2" fill="url(#tb)"/>
<rect x="519" y="251" width="1" height="11.1" fill="url(#tb)"/>
<rect x="520" y="251" width="1" height="17.5" fill="url(#tb0)"/>
<rect x="521" y="251" width="1" height="10.8" fill="url(#tb0)"/>
<rect x="522" y="251" width="1" height="11.3" fill="url(#tb0)"/>
<rect x="523" y="251" width="1" height="11.8" fill="url(#tb0)"/>
<rect x="524" y="251" width="1" height="11.0" fill="url(#tb0)"/>
<rect x="525" y="251" width="1" height="13.0" fill="url(#tb0)"/>
<rect x="526" y="251" width="1" height="12.7" fill="url(#tb0)"/>
<rect x="527" y="251" width="1" height="12.3" fill="url(#tb0)"/>
<rect x="528" y="251" width="1" height="13.6" fill="url(#tb0)"/>
<rect x="529" y="251" width="1" height="13.7" fill="url(#tb0)"/>
<rect x="530" y="251" width="1" height="20.2" fill="url(#tb0)"/>
<rect x="531" y="251" width="1" height="21.6" fill="url(#tb0)"/>
<rect x="532" y="251" width="1" height="13.0" fill="url(#tb0)"/>
<rect x="533" y="251" width="1" height="13.2" fill="url(#tb0)"/>
<rect x="534" y="251" width="1" height="14.1" fill="url(#tb0)"/>
<rect x="535" y="251" width="1" height="15.7" fill="url(#tb0)"/>
<rect x="536" y="251" width="1" height="18.3" fill="url(#tb0)"/>
<rect x="537" y="251" width="1" height="17.4" fill="url(#tb0)"/>
<rect x="538" y="251" width="1" height="15.6" fill="url(#tb0)"/>
<rect x="539" y="251" width="1" height="15.0" fill="url(#tb0)"/>
<rect x="540" y="251" width="1" height="13.4" fill="url(#tb0)"/>
<rect x="541" y="251" width="1" height="12.4" fill="url(#tb0)"/>
<rect x="542" y="251" width="1" height="15.6" fill="url(#tb0)"/>
<rect x="543" y="251" width="1" height="12.4" fill="url(#tb0)"/>
<rect x="85" y="251" width="1" height="6.2" fill="url(#tc)"/>
<rect x="86" y="251" width="1" height="6.7" fill="url(#tc)"/>
<rect x="87" y="251" width="1" height="7.9" fill="url(#tc)"/>
<rect x="88" y="251" width="1" height="11.3" fill="url(#tc)"/>
<rect x="89" y="251" width="1" height="10.4" fill="url(#tc)"/>
<rect x="90" y="251" width="1" height="11.1" fill="url(#tc)"/>
<rect x="91" y="251" width="1" height="9.9" fill="url(#tc)"/>
<rect x="92" y="251" width="1" height="12.2" fill="url(#tc)"/>
<rect x="93" y="251" width="1" height="15.8" fill="url(#tc)"/>
<rect x="94" y="251" width="1" height="36.0" fill="url(#tc)"/>
<rect x="95" y="251" width="1" height="13.8" fill="url(#tc)"/>
<rect x="96" y="251" width="1" height="9.4" fill="url(#tc)"/>
<rect x="97" y="251" width="1" height="8.4" fill="url(#tc)"/>
<rect x="99" y="251" width="1" height="4.9" fill="url(#tc)"/>
<rect x="100" y="251" width="1" height="4.5" fill="url(#tc)"/>
<rect x="268" y="251" width="1" height="3.9" fill="url(#tc)"/>
<rect x="269" y="251" width="1" height="6.6" fill="url(#tc)"/>
<rect x="270" y="251" width="1" height="7.1" fill="url(#tc)"/>
<rect x="271" y="251" width="1" height="7.0" fill="url(#tc)"/>
<rect x="272" y="251" width="1" height="7.0" fill="url(#tc)"/>
<rect x="274" y="251" width="1" height="4.5" fill="url(#tc)"/>
<rect x="270" y="255" width="4" height="2" fill="#90e868" opacity="0.75"/>
</g>
<line x1="78" y1="252" x2="543" y2="252" stroke="#000070" stroke-opacity="0.55" stroke-width="1" stroke-dasharray="1 2 2 3 1 1 1 4 2 2"/>
<rect x="370" y="354" width="2" height="41" fill="#fff"/>
<rect x="411" y="323" width="2" height="72" fill="#fff"/>
<rect x="378" y="386" width="1" height="9" fill="#fff"/>
<rect x="389" y="387" width="1" height="8" fill="#fff"/>
<rect x="399" y="384" width="1" height="11" fill="#fff"/>
<rect x="407" y="386" width="1" height="9" fill="#fff"/>
<rect x="503" y="257" width="1" height="5" fill="#fff"/>
<rect x="503" y="265" width="1" height="7" fill="#fff"/>
<rect x="503" y="274" width="1" height="3" fill="#fff"/>
<rect x="503" y="305" width="1" height="35" fill="#fff"/>
<rect x="221" y="385" width="1" height="5" fill="#fff"/>
<rect x="251" y="334" width="1" height="12" fill="#fff"/>
<rect x="149" y="365" width="1" height="13" fill="#fff"/>
<rect x="157" y="322" width="1" height="7" fill="#fff"/>
<rect x="157" y="344" width="1" height="8" fill="#fff"/>
<rect x="379" y="302" width="1" height="22" fill="#fff"/>
<rect x="139" y="321" width="1" height="1" fill="#ffffe0"/>
<rect x="139" y="359" width="1" height="1" fill="#fffff0"/>
<rect x="138" y="358" width="1" height="1" fill="#ffffc8"/>
<rect x="137" y="324" width="1" height="1" fill="#fff"/>
<rect x="138" y="295" width="1" height="1" fill="#ffffe0"/>
<rect x="138" y="348" width="1" height="2" fill="#ffffc8"/>
<rect x="138" y="312" width="1" height="1" fill="#ffffe0"/>
<rect x="138" y="323" width="1" height="2" fill="#fff"/>
<rect x="138" y="349" width="1" height="1" fill="#fff"/>
<rect x="139" y="350" width="1" height="2" fill="#ffffe0"/>
<rect x="131" y="336" width="1" height="1" fill="#ffffc8"/>
<rect x="130" y="330" width="1" height="1" fill="#ffffc8"/>
<rect x="130" y="334" width="1" height="1" fill="#ffffe0"/>
<rect x="130" y="330" width="1" height="2" fill="#fff"/>
<rect x="131" y="339" width="1" height="1" fill="#fffff0"/>
<rect x="129" y="350" width="1" height="2" fill="#ffffe0"/>
<rect x="131" y="360" width="1" height="1" fill="#ffffc8"/>
<rect x="130" y="340" width="1" height="1" fill="#fffff0"/>
<rect x="130" y="359" width="1" height="1" fill="#ffffc8"/>
<rect x="130" y="333" width="1" height="1" fill="#fffff0"/>
<rect x="130" y="342" width="1" height="1" fill="#fff"/>
<rect x="129" y="333" width="1" height="1" fill="#fffff0"/>
<rect x="130" y="364" width="1" height="1" fill="#fff"/>
<rect x="131" y="364" width="1" height="1" fill="#ffffe0"/>
<rect x="180" y="326" width="1" height="1" fill="#fffff0"/>
<rect x="181" y="310" width="1" height="2" fill="#ffffc8"/>
<rect x="180" y="320" width="1" height="1" fill="#ffffc8"/>
<rect x="179" y="316" width="1" height="2" fill="#ffffc8"/>
<rect x="180" y="323" width="1" height="1" fill="#ffffc8"/>
<rect x="181" y="309" width="1" height="1" fill="#fffff0"/>
<rect x="180" y="297" width="1" height="1" fill="#ffffe0"/>
<rect x="180" y="337" width="1" height="1" fill="#fffff0"/>
<rect x="181" y="292" width="1" height="1" fill="#fff"/>
<rect x="181" y="296" width="1" height="1" fill="#ffffc8"/>
<rect x="179" y="330" width="1" height="1" fill="#fffff0"/>
<rect x="174" y="340" width="1" height="1" fill="#ffffe0"/>
<rect x="175" y="312" width="1" height="1" fill="#fff"/>
<rect x="175" y="341" width="1" height="2" fill="#fff"/>
<rect x="175" y="322" width="1" height="1" fill="#fff"/>
<rect x="175" y="349" width="1" height="2" fill="#fff"/>
<rect x="174" y="320" width="1" height="1" fill="#fffff0"/>
<rect x="175" y="307" width="1" height="1" fill="#ffffe0"/>
<rect x="175" y="305" width="1" height="1" fill="#fff"/>
<rect x="175" y="328" width="1" height="1" fill="#fff"/>
<rect x="175" y="311" width="1" height="2" fill="#ffffc8"/>
<rect x="175" y="344" width="1" height="1" fill="#ffffe0"/>
<rect x="162" y="383" width="1" height="1" fill="#ffffe0"/>
<rect x="161" y="386" width="1" height="1" fill="#fffff0"/>
<rect x="160" y="325" width="1" height="1" fill="#fff"/>
<rect x="161" y="356" width="1" height="1" fill="#ffffe0"/>
<rect x="160" y="349" width="1" height="2" fill="#ffffc8"/>
<rect x="161" y="384" width="1" height="2" fill="#ffffc8"/>
<rect x="161" y="335" width="1" height="2" fill="#fffff0"/>
<rect x="160" y="329" width="1" height="2" fill="#ffffc8"/>
<rect x="162" y="376" width="1" height="1" fill="#fffff0"/>
<rect x="154" y="353" width="1" height="2" fill="#fffff0"/>
<rect x="154" y="350" width="1" height="2" fill="#ffffe0"/>
<rect x="154" y="321" width="1" height="1" fill="#fffff0"/>
<rect x="155" y="348" width="1" height="1" fill="#ffffc8"/>
<rect x="154" y="367" width="1" height="1" fill="#fff"/>
<rect x="154" y="360" width="1" height="2" fill="#fff"/>
<rect x="154" y="336" width="1" height="1" fill="#ffffc8"/>
<rect x="155" y="323" width="1" height="2" fill="#fffff0"/>
<rect x="154" y="334" width="1" height="1" fill="#ffffc8"/>
<rect x="153" y="378" width="1" height="1" fill="#ffffe0"/>
<rect x="154" y="344" width="1" height="1" fill="#ffffc8"/>
<rect x="154" y="336" width="1" height="1" fill="#ffffc8"/>
<rect x="154" y="371" width="1" height="1" fill="#fffff0"/>
<rect x="159" y="373" width="1" height="1" fill="#fff"/>
<rect x="158" y="340" width="1" height="1" fill="#fff"/>
<rect x="159" y="306" width="1" height="1" fill="#fffff0"/>
<rect x="160" y="321" width="1" height="1" fill="#ffffe0"/>
<rect x="159" y="338" width="1" height="2" fill="#fffff0"/>
<rect x="158" y="346" width="1" height="2" fill="#ffffe0"/>
<rect x="159" y="379" width="1" height="1" fill="#fffff0"/>
<rect x="160" y="337" width="1" height="2" fill="#ffffe0"/>
<rect x="160" y="322" width="1" height="1" fill="#ffffe0"/>
<rect x="159" y="323" width="1" height="2" fill="#fff"/>
<rect x="134" y="321" width="1" height="1" fill="#ffffe0"/>
<rect x="134" y="297" width="1" height="2" fill="#fff"/>
<rect x="134" y="311" width="1" height="1" fill="#fffff0"/>
<rect x="134" y="312" width="1" height="1" fill="#ffffe0"/>
<rect x="133" y="313" width="1" height="1" fill="#ffffc8"/>
<rect x="135" y="324" width="1" height="1" fill="#fffff0"/>
<rect x="134" y="303" width="1" height="1" fill="#ffffe0"/>
<rect x="134" y="304" width="1" height="2" fill="#fffff0"/>
<rect x="182" y="330" width="1" height="2" fill="#ffffc8"/>
<rect x="181" y="295" width="1" height="1" fill="#ffffe0"/>
<rect x="182" y="316" width="1" height="2" fill="#fff"/>
<rect x="183" y="296" width="1" height="1" fill="#ffffc8"/>
<rect x="183" y="328" width="1" height="1" fill="#fff"/>
<rect x="182" y="337" width="1" height="1" fill="#ffffe0"/>
<rect x="182" y="308" width="1" height="2" fill="#ffffc8"/>
<rect x="181" y="312" width="1" height="1" fill="#fff"/>
<rect x="182" y="307" width="1" height="1" fill="#ffffc8"/>
<rect x="183" y="301" width="1" height="1" fill="#fff"/>
<rect x="182" y="310" width="1" height="1" fill="#ffffe0"/>
<rect x="181" y="327" width="1" height="2" fill="#fffff0"/>
<rect x="183" y="328" width="1" height="2" fill="#ffffc8"/>
<rect x="182" y="326" width="1" height="1" fill="#ffffe0"/>
<rect x="165" y="310" width="1" height="1" fill="#ffffe0"/>
<rect x="166" y="350" width="1" height="2" fill="#ffffc8"/>
<rect x="165" y="342" width="1" height="1" fill="#ffffe0"/>
<rect x="166" y="279" width="1" height="1" fill="#ffffc8"/>
<rect x="165" y="312" width="1" height="2" fill="#ffffe0"/>
<rect x="166" y="316" width="1" height="1" fill="#fff"/>
<rect x="166" y="311" width="1" height="1" fill="#fffff0"/>
<rect x="167" y="284" width="1" height="1" fill="#ffffe0"/>
<rect x="166" y="354" width="1" height="1" fill="#fffff0"/>
<rect x="166" y="351" width="1" height="2" fill="#fffff0"/>
<rect x="167" y="335" width="1" height="1" fill="#fff"/>
<rect x="168" y="344" width="1" height="2" fill="#ffffc8"/>
<rect x="166" y="340" width="1" height="1" fill="#fffff0"/>
<rect x="168" y="330" width="1" height="1" fill="#ffffe0"/>
<rect x="167" y="328" width="1" height="2" fill="#ffffe0"/>
<rect x="167" y="349" width="1" height="1" fill="#ffffe0"/>
<rect x="168" y="329" width="1" height="1" fill="#ffffc8"/>
<rect x="167" y="336" width="1" height="1" fill="#ffffe0"/>
<rect x="166" y="340" width="1" height="1" fill="#ffffc8"/>
<rect x="168" y="342" width="1" height="1" fill="#fff"/>
<rect x="167" y="340" width="1" height="2" fill="#fffff0"/>
<rect x="168" y="338" width="1" height="1" fill="#ffffc8"/>
<rect x="168" y="335" width="1" height="1" fill="#ffffc8"/>
<rect x="167" y="329" width="1" height="1" fill="#fff"/>
<rect x="157" y="306" width="1" height="2" fill="#fff"/>
<rect x="159" y="359" width="1" height="1" fill="#ffffe0"/>
<rect x="157" y="356" width="1" height="1" fill="#ffffc8"/>
<rect x="158" y="310" width="1" height="2" fill="#fff"/>
<rect x="159" y="342" width="1" height="1" fill="#fff"/>
<rect x="159" y="318" width="1" height="1" fill="#fffff0"/>
<rect x="157" y="327" width="1" height="2" fill="#fff"/>
<rect x="157" y="279" width="1" height="2" fill="#ffffc8"/>
<rect x="158" y="319" width="1" height="1" fill="#ffffe0"/>
<rect x="158" y="318" width="1" height="1" fill="#ffffe0"/>
<rect x="159" y="297" width="1" height="1" fill="#fffff0"/>
<rect x="125" y="306" width="1" height="1" fill="#ffffe0"/>
<rect x="124" y="339" width="1" height="1" fill="#fffff0"/>
<rect x="162" y="380" width="1" height="1" fill="#ffffc8"/>
<rect x="127" y="304" width="1" height="1" fill="#fff"/>
<rect x="169" y="314" width="1" height="1" fill="#ffffc8"/>
<rect x="156" y="357" width="1" height="1" fill="#fffff0"/>
<rect x="138" y="328" width="1" height="1" fill="#fff"/>
<rect x="124" y="269" width="1" height="2" fill="#ffffc8"/>
<rect x="155" y="327" width="1" height="2" fill="#fffff0"/>
<rect x="139" y="323" width="1" height="1" fill="#ffffe0"/>
<rect x="149" y="359" width="1" height="1" fill="#fff"/>
<rect x="134" y="362" width="1" height="1" fill="#fff"/>
<rect x="173" y="364" width="1" height="1" fill="#ffffc8"/>
<rect x="169" y="379" width="1" height="1" fill="#fffff0"/>
<rect x="149" y="306" width="1" height="1" fill="#fffff0"/>
<rect x="163" y="331" width="1" height="1" fill="#ffffc8"/>
<rect x="126" y="310" width="1" height="2" fill="#fffff0"/>
<rect x="141" y="270" width="1" height="1" fill="#fff"/>
<rect x="158" y="356" width="1" height="1" fill="#ffffe0"/>
<rect x="116" y="281" width="1" height="1" fill="#fff"/>
<rect x="178" y="272" width="1" height="1" fill="#fff"/>
<rect x="164" y="374" width="1" height="1" fill="#ffffc8"/>
<rect x="171" y="323" width="1" height="2" fill="#ffffc8"/>
<rect x="114" y="299" width="1" height="2" fill="#fffff0"/>
<rect x="126" y="341" width="1" height="1" fill="#fffff0"/>
<rect x="138" y="378" width="1" height="1" fill="#ffffc8"/>
<rect x="161" y="262" width="1" height="2" fill="#ffffe0"/>
<rect x="161" y="304" width="1" height="1" fill="#ffffe0"/>
<rect x="131" y="372" width="1" height="1" fill="#ffffe0"/>
<rect x="181" y="274" width="1" height="1" fill="#ffffc8"/>
<rect x="153" y="310" width="1" height="1" fill="#ffffc8"/>
<rect x="167" y="365" width="1" height="1" fill="#fffff0"/>
<rect x="184" y="324" width="1" height="1" fill="#ffffc8"/>
<rect x="142" y="381" width="1" height="1" fill="#fff"/>
<rect x="116" y="280" width="1" height="1" fill="#ffffc8"/>
<rect x="138" y="300" width="1" height="2" fill="#fff"/>
<rect x="181" y="387" width="1" height="1" fill="#ffffc8"/>
<rect x="174" y="348" width="1" height="1" fill="#ffffc8"/>
<rect x="133" y="331" width="1" height="1" fill="#ffffc8"/>
<rect x="133" y="352" width="1" height="2" fill="#ffffe0"/>
<rect x="150" y="338" width="1" height="1" fill="#fff"/>
<rect x="115" y="280" width="1" height="1" fill="#fff"/>
<rect x="122" y="309" width="1" height="1" fill="#ffffe0"/>
<rect x="179" y="287" width="1" height="1" fill="#fffff0"/>
<rect x="138" y="354" width="1" height="1" fill="#ffffe0"/>
<rect x="148" y="352" width="1" height="1" fill="#ffffe0"/>
<rect x="121" y="303" width="1" height="2" fill="#fff"/>
<rect x="149" y="364" width="1" height="2" fill="#ffffc8"/>
<rect x="134" y="270" width="1" height="2" fill="#fff"/>
<rect x="127" y="321" width="1" height="1" fill="#fff"/>
<rect x="159" y="326" width="1" height="1" fill="#fffff0"/>
<rect x="166" y="312" width="1" height="1" fill="#fffff0"/>
<rect x="138" y="370" width="1" height="2" fill="#fffff0"/>
<rect x="124" y="345" width="1" height="1" fill="#ffffc8"/>
<rect x="142" y="316" width="1" height="1" fill="#fffff0"/>
<rect x="178" y="272" width="1" height="1" fill="#ffffe0"/>
<rect x="159" y="306" width="1" height="1" fill="#fff"/>
<rect x="177" y="384" width="1" height="2" fill="#fff"/>
<rect x="134" y="375" width="1" height="1" fill="#ffffe0"/>
<rect x="116" y="333" width="1" height="2" fill="#ffffc8"/>
<rect x="121" y="317" width="1" height="1" fill="#fffff0"/>
<rect x="182" y="290" width="1" height="2" fill="#ffffe0"/>
<rect x="153" y="361" width="1" height="1" fill="#fff"/>
<rect x="140" y="380" width="1" height="1" fill="#ffffe0"/>
<rect x="160" y="264" width="1" height="1" fill="#ffffe0"/>
<rect x="159" y="306" width="1" height="2" fill="#fff"/>
<rect x="147" y="268" width="1" height="1" fill="#ffffe0"/>
<rect x="162" y="303" width="1" height="1" fill="#fff"/>
<rect x="137" y="390" width="1" height="1" fill="#fff"/>
<rect x="166" y="314" width="1" height="1" fill="#ffffc8"/>
<rect x="142" y="335" width="1" height="1" fill="#ffffe0"/>
<rect x="171" y="354" width="1" height="1" fill="#fffff0"/>
<rect x="124" y="323" width="1" height="1" fill="#ffffc8"/>
<rect x="165" y="307" width="1" height="1" fill="#fff"/>
<rect x="159" y="354" width="1" height="1" fill="#fffff0"/>
<rect x="130" y="268" width="1" height="2" fill="#ffffe0"/>
<rect x="168" y="268" width="1" height="2" fill="#ffffc8"/>
<rect x="140" y="289" width="1" height="2" fill="#fff"/>
<rect x="141" y="356" width="1" height="1" fill="#fffff0"/>
<rect x="179" y="337" width="1" height="1" fill="#ffffc8"/>
<rect x="193" y="288" width="1" height="1" fill="#fff"/>
<rect x="201" y="352" width="1" height="1" fill="#fff"/>
<rect x="213" y="346" width="1" height="1" fill="#fffff0"/>
<rect x="227" y="327" width="1" height="1" fill="#ffffc8"/>
<rect x="235" y="331" width="1" height="1" fill="#ffffc8"/>
<rect x="234" y="292" width="1" height="2" fill="#fffff0"/>
<rect x="227" y="295" width="1" height="1" fill="#ffffc8"/>
<rect x="202" y="291" width="1" height="2" fill="#ffffe0"/>
<rect x="213" y="373" width="1" height="1" fill="#fffff0"/>
<rect x="210" y="296" width="1" height="2" fill="#fff"/>
<rect x="217" y="329" width="1" height="1" fill="#ffffc8"/>
<rect x="202" y="273" width="1" height="1" fill="#fffff0"/>
<rect x="220" y="377" width="1" height="2" fill="#fffff0"/>
<rect x="215" y="294" width="1" height="2" fill="#ffffe0"/>
<rect x="188" y="369" width="1" height="1" fill="#fffff0"/>
<rect x="238" y="311" width="1" height="1" fill="#fff"/>
<rect x="223" y="324" width="1" height="2" fill="#fff"/>
<rect x="237" y="306" width="1" height="2" fill="#fffff0"/>
<rect x="233" y="285" width="1" height="1" fill="#ffffe0"/>
<rect x="232" y="296" width="1" height="1" fill="#ffffc8"/>
<rect x="196" y="316" width="1" height="2" fill="#ffffe0"/>
<rect x="195" y="318" width="1" height="1" fill="#fffff0"/>
<rect x="188" y="268" width="1" height="1" fill="#ffffc8"/>
<rect x="235" y="353" width="1" height="1" fill="#fffff0"/>
<rect x="223" y="305" width="1" height="1" fill="#fffff0"/>
<rect x="222" y="374" width="1" height="1" fill="#ffffe0"/>
<rect x="215" y="293" width="1" height="1" fill="#fff"/>
<rect x="217" y="297" width="1" height="1" fill="#ffffe0"/>
<rect x="232" y="338" width="1" height="1" fill="#ffffc8"/>
<rect x="237" y="365" width="1" height="1" fill="#ffffc8"/>
<rect x="347" y="269" width="1" height="2" fill="#fffff0"/>
<rect x="358" y="278" width="1" height="1" fill="#fffff0"/>
<rect x="347" y="304" width="1" height="2" fill="#ffffc8"/>
<rect x="346" y="307" width="1" height="1" fill="#fffff0"/>
<rect x="351" y="271" width="1" height="1" fill="#ffffe0"/>
<rect x="340" y="275" width="1" height="1" fill="#fff"/>
<rect x="343" y="294" width="1" height="1" fill="#fff"/>
<rect x="355" y="320" width="1" height="1" fill="#fffff0"/>
<rect x="357" y="277" width="1" height="1" fill="#ffffc8"/>
<rect x="338" y="304" width="1" height="2" fill="#ffffe0"/>
<rect x="334" y="301" width="1" height="1" fill="#fffff0"/>
<rect x="339" y="278" width="1" height="1" fill="#fff"/>
<rect x="336" y="295" width="1" height="2" fill="#fffff0"/>
<rect x="335" y="299" width="1" height="1" fill="#fffff0"/>
<rect x="352" y="289" width="1" height="1" fill="#fff"/>
<rect x="348" y="288" width="1" height="1" fill="#ffffe0"/>
<rect x="356" y="325" width="1" height="1" fill="#ffffe0"/>
<rect x="338" y="266" width="1" height="2" fill="#ffffe0"/>
<rect x="353" y="304" width="1" height="2" fill="#ffffc8"/>
<rect x="352" y="328" width="1" height="2" fill="#fffff0"/>
<rect x="343" y="263" width="1" height="1" fill="#fffff0"/>
<rect x="338" y="280" width="1" height="1" fill="#fff"/>
<rect x="341" y="269" width="1" height="1" fill="#fff"/>
<rect x="333" y="277" width="1" height="2" fill="#ffffc8"/>
<rect x="356" y="327" width="1" height="1" fill="#ffffc8"/>
<rect x="364" y="355" width="1" height="2" fill="#fffff0"/>
<rect x="362" y="361" width="1" height="1" fill="#fff"/>
<rect x="363" y="346" width="1" height="1" fill="#ffffe0"/>
<rect x="363" y="372" width="1" height="1" fill="#fffff0"/>
<rect x="363" y="309" width="1" height="1" fill="#ffffe0"/>
<rect x="363" y="342" width="1" height="1" fill="#fffff0"/>
<rect x="364" y="372" width="1" height="2" fill="#ffffc8"/>
<rect x="364" y="383" width="1" height="1" fill="#ffffe0"/>
<rect x="362" y="366" width="1" height="1" fill="#fffff0"/>
<rect x="363" y="347" width="1" height="1" fill="#ffffc8"/>
<rect x="363" y="293" width="1" height="1" fill="#fffff0"/>
<rect x="364" y="319" width="1" height="1" fill="#ffffe0"/>
<rect x="362" y="365" width="1" height="1" fill="#fffff0"/>
<rect x="363" y="335" width="1" height="1" fill="#ffffe0"/>
<rect x="393" y="301" width="1" height="1" fill="#ffffe0"/>
<rect x="393" y="300" width="1" height="1" fill="#ffffc8"/>
<rect x="393" y="284" width="1" height="2" fill="#ffffe0"/>
<rect x="394" y="292" width="1" height="1" fill="#fff"/>
<rect x="393" y="290" width="1" height="1" fill="#ffffe0"/>
<rect x="393" y="320" width="1" height="1" fill="#ffffc8"/>
<rect x="393" y="290" width="1" height="1" fill="#fffff0"/>
<rect x="376" y="316" width="1" height="1" fill="#fffff0"/>
<rect x="377" y="283" width="1" height="2" fill="#ffffc8"/>
<rect x="376" y="289" width="1" height="2" fill="#fffff0"/>
<rect x="376" y="310" width="1" height="1" fill="#fffff0"/>
<rect x="376" y="281" width="1" height="2" fill="#fffff0"/>
<rect x="376" y="290" width="1" height="1" fill="#fff"/>
<rect x="375" y="312" width="1" height="1" fill="#fff"/>
<rect x="376" y="291" width="1" height="2" fill="#fffff0"/>
<rect x="376" y="303" width="1" height="1" fill="#fffff0"/>
<rect x="375" y="309" width="1" height="1" fill="#ffffe0"/>
<rect x="376" y="301" width="1" height="2" fill="#ffffc8"/>
<rect x="376" y="296" width="1" height="2" fill="#fff"/>
<rect x="376" y="302" width="1" height="1" fill="#ffffc8"/>
<rect x="376" y="312" width="1" height="1" fill="#fffff0"/>
<rect x="377" y="278" width="1" height="1" fill="#ffffe0"/>
<rect x="387" y="339" width="1" height="1" fill="#fffff0"/>
<rect x="388" y="339" width="1" height="2" fill="#fff"/>
<rect x="386" y="333" width="1" height="1" fill="#fffff0"/>
<rect x="387" y="344" width="1" height="2" fill="#fffff0"/>
<rect x="387" y="354" width="1" height="1" fill="#ffffe0"/>
<rect x="387" y="347" width="1" height="1" fill="#ffffe0"/>
<rect x="387" y="326" width="1" height="1" fill="#fff"/>
<rect x="369" y="306" width="1" height="1" fill="#fffff0"/>
<rect x="369" y="317" width="1" height="2" fill="#fff"/>
<rect x="369" y="322" width="1" height="1" fill="#fffff0"/>
<rect x="369" y="315" width="1" height="1" fill="#fff"/>
<rect x="370" y="312" width="1" height="1" fill="#fffff0"/>
<rect x="369" y="321" width="1" height="2" fill="#ffffc8"/>
<rect x="370" y="304" width="1" height="1" fill="#ffffc8"/>
<rect x="370" y="311" width="1" height="1" fill="#fffff0"/>
<rect x="368" y="321" width="1" height="2" fill="#fffff0"/>
<rect x="369" y="300" width="1" height="1" fill="#ffffe0"/>
<rect x="370" y="317" width="1" height="1" fill="#ffffc8"/>
<rect x="368" y="319" width="1" height="2" fill="#fff"/>
<rect x="370" y="309" width="1" height="1" fill="#ffffe0"/>
<rect x="369" y="325" width="1" height="1" fill="#fffff0"/>
<rect x="394" y="300" width="1" height="2" fill="#fffff0"/>
<rect x="394" y="308" width="1" height="1" fill="#fff"/>
<rect x="394" y="301" width="1" height="1" fill="#ffffe0"/>
<rect x="395" y="302" width="1" height="2" fill="#fffff0"/>
<rect x="394" y="320" width="1" height="1" fill="#ffffe0"/>
<rect x="395" y="299" width="1" height="1" fill="#ffffc8"/>
<rect x="394" y="325" width="1" height="2" fill="#ffffe0"/>
<rect x="373" y="332" width="1" height="1" fill="#fff"/>
<rect x="373" y="327" width="1" height="1" fill="#fffff0"/>
<rect x="373" y="312" width="1" height="2" fill="#ffffe0"/>
<rect x="373" y="355" width="1" height="2" fill="#ffffe0"/>
<rect x="373" y="329" width="1" height="1" fill="#fffff0"/>
<rect x="372" y="333" width="1" height="1" fill="#fff"/>
<rect x="373" y="355" width="1" height="1" fill="#ffffe0"/>
<rect x="374" y="310" width="1" height="1" fill="#fffff0"/>
<rect x="372" y="326" width="1" height="1" fill="#fffff0"/>
<rect x="379" y="292" width="1" height="2" fill="#fff"/>
<rect x="379" y="337" width="1" height="1" fill="#fff"/>
<rect x="379" y="352" width="1" height="1" fill="#ffffe0"/>
<rect x="378" y="316" width="1" height="1" fill="#fffff0"/>
<rect x="379" y="372" width="1" height="1" fill="#ffffc8"/>
<rect x="380" y="337" width="1" height="1" fill="#ffffc8"/>
<rect x="379" y="387" width="1" height="2" fill="#ffffc8"/>
<rect x="379" y="355" width="1" height="1" fill="#ffffc8"/>
<rect x="380" y="295" width="1" height="2" fill="#fffff0"/>
<rect x="379" y="380" width="1" height="1" fill="#fffff0"/>
<rect x="362" y="303" width="1" height="2" fill="#ffffe0"/>
<rect x="362" y="277" width="1" height="1" fill="#fffff0"/>
<rect x="362" y="280" width="1" height="1" fill="#ffffc8"/>
<rect x="362" y="305" width="1" height="1" fill="#ffffc8"/>
<rect x="361" y="291" width="1" height="1" fill="#fff"/>
<rect x="363" y="291" width="1" height="1" fill="#ffffc8"/>
<rect x="363" y="298" width="1" height="1" fill="#ffffc8"/>
<rect x="361" y="280" width="1" height="2" fill="#fff"/>
<rect x="362" y="295" width="1" height="1" fill="#fff"/>
<rect x="362" y="299" width="1" height="1" fill="#fffff0"/>
<rect x="362" y="302" width="1" height="2" fill="#ffffc8"/>
<rect x="362" y="289" width="1" height="1" fill="#ffffe0"/>
<rect x="362" y="281" width="1" height="1" fill="#fffff0"/>
<rect x="361" y="295" width="1" height="1" fill="#ffffc8"/>
<rect x="403" y="324" width="1" height="1" fill="#ffffe0"/>
<rect x="403" y="307" width="1" height="1" fill="#fff"/>
<rect x="403" y="309" width="1" height="1" fill="#fffff0"/>
<rect x="403" y="329" width="1" height="1" fill="#fff"/>
<rect x="403" y="339" width="1" height="1" fill="#ffffc8"/>
<rect x="403" y="309" width="1" height="1" fill="#fffff0"/>
<rect x="403" y="318" width="1" height="1" fill="#ffffe0"/>
<rect x="403" y="321" width="1" height="1" fill="#fffff0"/>
<rect x="403" y="327" width="1" height="2" fill="#fff"/>
<rect x="401" y="305" width="1" height="1" fill="#fffff0"/>
<rect x="401" y="335" width="1" height="1" fill="#fffff0"/>
<rect x="401" y="324" width="1" height="1" fill="#fff"/>
<rect x="401" y="376" width="1" height="2" fill="#fffff0"/>
<rect x="402" y="332" width="1" height="1" fill="#fff"/>
<rect x="401" y="378" width="1" height="1" fill="#ffffc8"/>
<rect x="401" y="314" width="1" height="1" fill="#ffffc8"/>
<rect x="401" y="324" width="1" height="1" fill="#fffff0"/>
<rect x="401" y="321" width="1" height="1" fill="#fff"/>
<rect x="402" y="307" width="1" height="1" fill="#ffffe0"/>
<rect x="367" y="367" width="1" height="1" fill="#fff"/>
<rect x="366" y="349" width="1" height="1" fill="#ffffe0"/>
<rect x="367" y="345" width="1" height="1" fill="#ffffc8"/>
<rect x="368" y="326" width="1" height="2" fill="#fff"/>
<rect x="366" y="352" width="1" height="1" fill="#fffff0"/>
<rect x="367" y="356" width="1" height="1" fill="#fff"/>
<rect x="367" y="360" width="1" height="1" fill="#ffffc8"/>
<rect x="367" y="367" width="1" height="1" fill="#ffffc8"/>
<rect x="367" y="340" width="1" height="1" fill="#fffff0"/>
<rect x="395" y="336" width="1" height="1" fill="#fff"/>
<rect x="395" y="353" width="1" height="1" fill="#fff"/>
<rect x="396" y="326" width="1" height="1" fill="#fff"/>
<rect x="394" y="330" width="1" height="1" fill="#fff"/>
<rect x="396" y="342" width="1" height="1" fill="#fff"/>
<rect x="395" y="303" width="1" height="1" fill="#ffffe0"/>
<rect x="394" y="318" width="1" height="1" fill="#ffffe0"/>
<rect x="402" y="300" width="1" height="1" fill="#ffffe0"/>
<rect x="403" y="331" width="1" height="1" fill="#ffffc8"/>
<rect x="402" y="325" width="1" height="1" fill="#ffffc8"/>
<rect x="402" y="339" width="1" height="1" fill="#ffffe0"/>
<rect x="402" y="315" width="1" height="1" fill="#ffffc8"/>
<rect x="401" y="337" width="1" height="1" fill="#ffffe0"/>
<rect x="402" y="313" width="1" height="1" fill="#fff"/>
<rect x="401" y="322" width="1" height="1" fill="#fffff0"/>
<rect x="363" y="282" width="1" height="1" fill="#ffffe0"/>
<rect x="401" y="313" width="1" height="1" fill="#fffff0"/>
<rect x="375" y="379" width="1" height="1" fill="#fff"/>
<rect x="381" y="382" width="1" height="1" fill="#ffffc8"/>
<rect x="378" y="323" width="1" height="2" fill="#fffff0"/>
<rect x="402" y="383" width="1" height="1" fill="#ffffc8"/>
<rect x="377" y="311" width="1" height="1" fill="#fffff0"/>
<rect x="403" y="342" width="1" height="1" fill="#ffffc8"/>
<rect x="380" y="385" width="1" height="1" fill="#ffffe0"/>
<rect x="394" y="369" width="1" height="1" fill="#ffffc8"/>
<rect x="408" y="320" width="1" height="1" fill="#fffff0"/>
<rect x="400" y="329" width="1" height="2" fill="#ffffc8"/>
<rect x="373" y="307" width="1" height="1" fill="#fff"/>
<rect x="394" y="304" width="1" height="1" fill="#fff"/>
<rect x="366" y="309" width="1" height="1" fill="#ffffe0"/>
<rect x="376" y="385" width="1" height="2" fill="#ffffc8"/>
<rect x="387" y="331" width="1" height="1" fill="#fff"/>
<rect x="375" y="390" width="1" height="2" fill="#fff"/>
<rect x="376" y="284" width="1" height="1" fill="#ffffc8"/>
<rect x="398" y="291" width="1" height="2" fill="#fff"/>
<rect x="378" y="278" width="1" height="1" fill="#ffffc8"/>
<rect x="373" y="305" width="1" height="1" fill="#ffffe0"/>
<rect x="404" y="264" width="1" height="1" fill="#fffff0"/>
<rect x="411" y="322" width="1" height="2" fill="#fff"/>
<rect x="400" y="372" width="1" height="1" fill="#ffffe0"/>
<rect x="404" y="369" width="1" height="1" fill="#fffff0"/>
<rect x="403" y="363" width="1" height="1" fill="#ffffc8"/>
<rect x="376" y="308" width="1" height="1" fill="#ffffe0"/>
<rect x="387" y="311" width="1" height="1" fill="#fff"/>
<rect x="360" y="336" width="1" height="1" fill="#ffffc8"/>
<rect x="384" y="368" width="1" height="1" fill="#ffffe0"/>
<rect x="372" y="328" width="1" height="1" fill="#fff"/>
<rect x="406" y="363" width="1" height="2" fill="#fff"/>
<rect x="391" y="334" width="1" height="1" fill="#ffffe0"/>
<rect x="397" y="321" width="1" height="1" fill="#fffff0"/>
<rect x="363" y="354" width="1" height="1" fill="#fff"/>
<rect x="376" y="357" width="1" height="2" fill="#ffffe0"/>
<rect x="381" y="371" width="1" height="1" fill="#fffff0"/>
<rect x="392" y="276" width="1" height="1" fill="#fff"/>
<rect x="376" y="303" width="1" height="2" fill="#fff"/>
<rect x="374" y="309" width="1" height="1" fill="#ffffe0"/>
<rect x="366" y="347" width="1" height="1" fill="#ffffc8"/>
<rect x="401" y="319" width="1" height="1" fill="#ffffe0"/>
<rect x="370" y="306" width="1" height="1" fill="#fff"/>
<rect x="380" y="283" width="1" height="1" fill="#fff"/>
<rect x="362" y="275" width="1" height="1" fill="#ffffc8"/>
<rect x="403" y="385" width="1" height="2" fill="#ffffe0"/>
<rect x="412" y="308" width="1" height="1" fill="#ffffe0"/>
<rect x="370" y="363" width="1" height="1" fill="#fff"/>
<rect x="384" y="339" width="1" height="1" fill="#fffff0"/>
<rect x="389" y="272" width="1" height="1" fill="#ffffe0"/>
<rect x="370" y="299" width="1" height="1" fill="#ffffe0"/>
<rect x="371" y="359" width="1" height="2" fill="#ffffe0"/>
<rect x="401" y="376" width="1" height="1" fill="#ffffe0"/>
<rect x="370" y="365" width="1" height="1" fill="#fff"/>
<rect x="411" y="360" width="1" height="1" fill="#fff"/>
<rect x="381" y="292" width="1" height="1" fill="#ffffc8"/>
<rect x="403" y="314" width="1" height="1" fill="#ffffe0"/>
<rect x="401" y="307" width="1" height="1" fill="#fff"/>
<rect x="366" y="291" width="1" height="2" fill="#fff"/>
<rect x="381" y="272" width="1" height="1" fill="#fff"/>
<rect x="367" y="359" width="1" height="1" fill="#fffff0"/>
<rect x="411" y="348" width="1" height="1" fill="#ffffe0"/>
<rect x="395" y="364" width="1" height="1" fill="#ffffc8"/>
<rect x="410" y="384" width="1" height="2" fill="#fff"/>
<rect x="377" y="283" width="1" height="1" fill="#fffff0"/>
<rect x="411" y="364" width="1" height="1" fill="#fffff0"/>
<rect x="363" y="326" width="1" height="1" fill="#fff"/>
<rect x="369" y="353" width="1" height="1" fill="#fff"/>
<rect x="393" y="389" width="1" height="1" fill="#fffff0"/>
<rect x="423" y="308" width="1" height="1" fill="#fffff0"/>
<rect x="424" y="326" width="1" height="2" fill="#fffff0"/>
<rect x="462" y="320" width="1" height="1" fill="#ffffe0"/>
<rect x="469" y="372" width="1" height="1" fill="#ffffe0"/>
<rect x="473" y="365" width="1" height="2" fill="#fff"/>
<rect x="448" y="381" width="1" height="2" fill="#ffffe0"/>
<rect x="419" y="320" width="1" height="2" fill="#fffff0"/>
<rect x="443" y="350" width="1" height="1" fill="#ffffc8"/>
<rect x="418" y="366" width="1" height="1" fill="#ffffc8"/>
<rect x="485" y="301" width="1" height="2" fill="#ffffe0"/>
<rect x="442" y="328" width="1" height="2" fill="#fffff0"/>
<rect x="445" y="302" width="1" height="1" fill="#ffffc8"/>
<rect x="485" y="369" width="1" height="1" fill="#fffff0"/>
<rect x="483" y="322" width="1" height="1" fill="#ffffc8"/>
<rect x="441" y="367" width="1" height="1" fill="#fff"/>
<rect x="467" y="316" width="1" height="1" fill="#fff"/>
<rect x="455" y="381" width="1" height="1" fill="#ffffc8"/>
<rect x="436" y="308" width="1" height="2" fill="#ffffc8"/>
<rect x="458" y="375" width="1" height="2" fill="#fff"/>
<rect x="448" y="364" width="1" height="1" fill="#fffff0"/>
<rect x="448" y="355" width="1" height="1" fill="#fffff0"/>
<rect x="469" y="271" width="1" height="1" fill="#fff"/>
<rect x="423" y="303" width="1" height="1" fill="#ffffc8"/>
<rect x="420" y="353" width="1" height="1" fill="#fff"/>
<rect x="427" y="384" width="1" height="2" fill="#fffff0"/>
<rect x="475" y="389" width="1" height="1" fill="#ffffc8"/>
<rect x="472" y="308" width="1" height="1" fill="#fffff0"/>
<rect x="466" y="310" width="1" height="2" fill="#fffff0"/>
<rect x="461" y="297" width="1" height="1" fill="#fff"/>
<rect x="479" y="301" width="1" height="1" fill="#ffffc8"/>
<rect x="421" y="368" width="1" height="1" fill="#fffff0"/>
<rect x="429" y="290" width="1" height="1" fill="#ffffc8"/>
<rect x="481" y="363" width="1" height="2" fill="#ffffe0"/>
<rect x="421" y="293" width="1" height="2" fill="#fffff0"/>
<rect x="459" y="348" width="1" height="1" fill="#ffffc8"/>
<rect x="463" y="335" width="1" height="2" fill="#fff"/>
<rect x="477" y="319" width="1" height="1" fill="#ffffe0"/>
<rect x="474" y="281" width="1" height="1" fill="#fff"/>
<rect x="478" y="364" width="1" height="1" fill="#fff"/>
<rect x="430" y="279" width="1" height="1" fill="#ffffe0"/>
<rect x="463" y="389" width="1" height="1" fill="#ffffc8"/>
<rect x="475" y="292" width="1" height="1" fill="#fff"/>
<rect x="465" y="369" width="1" height="2" fill="#fffff0"/>
<rect x="441" y="297" width="1" height="1" fill="#ffffe0"/>
<rect x="447" y="372" width="1" height="1" fill="#fff"/>
<rect x="461" y="320" width="1" height="1" fill="#fffff0"/>
<rect x="460" y="322" width="1" height="2" fill="#ffffc8"/>
<rect x="460" y="332" width="1" height="1" fill="#fff"/>
<rect x="461" y="328" width="1" height="1" fill="#ffffc8"/>
<rect x="461" y="339" width="1" height="1" fill="#ffffe0"/>
<rect x="462" y="319" width="1" height="1" fill="#ffffe0"/>
<rect x="461" y="336" width="1" height="2" fill="#fffff0"/>
<rect x="467" y="354" width="1" height="1" fill="#ffffc8"/>
<rect x="468" y="352" width="1" height="1" fill="#fff"/>
<rect x="467" y="340" width="1" height="1" fill="#fff"/>
<rect x="467" y="354" width="1" height="1" fill="#fff"/>
<rect x="467" y="339" width="1" height="1" fill="#fffff0"/>
<rect x="467" y="356" width="1" height="2" fill="#fffff0"/>
<rect x="498" y="264" width="1" height="2" fill="#ffffc8"/>
<rect x="521" y="297" width="1" height="1" fill="#ffffc8"/>
<rect x="527" y="286" width="1" height="1" fill="#fff"/>
<rect x="510" y="307" width="1" height="1" fill="#ffffe0"/>
<rect x="519" y="307" width="1" height="1" fill="#ffffe0"/>
<rect x="538" y="267" width="1" height="1" fill="#fffff0"/>
<rect x="527" y="279" width="1" height="2" fill="#ffffc8"/>
<rect x="493" y="278" width="1" height="1" fill="#ffffe0"/>
<rect x="537" y="282" width="1" height="1" fill="#fff"/>
<rect x="509" y="273" width="1" height="1" fill="#ffffc8"/>
<text y="26.3" class="t"><tspan x="139.1" textLength="86.4" lengthAdjust="spacingAndGlyphs">BackScatter:</tspan> <tspan x="231.6" textLength="50.9" lengthAdjust="spacingAndGlyphs">Gridded</tspan> <tspan x="289.1" textLength="28.4" lengthAdjust="spacingAndGlyphs">data</tspan> <tspan x="322.1" textLength="33.4" lengthAdjust="spacingAndGlyphs">(1km</tspan> <tspan x="359.1" textLength="9.4" lengthAdjust="spacingAndGlyphs">x</tspan> <tspan x="372.1" textLength="25.9" lengthAdjust="spacingAndGlyphs">4m)</tspan> <tspan x="401.6" textLength="44.9" lengthAdjust="spacingAndGlyphs">(pcolor</tspan> <tspan x="450.6" textLength="29.9" lengthAdjust="spacingAndGlyphs">plot)</tspan></text>
<text y="240.3" class="t"><tspan x="102.1" textLength="86.9" lengthAdjust="spacingAndGlyphs">BackScatter:</tspan> <tspan x="195.6" textLength="22.4" lengthAdjust="spacingAndGlyphs">Full</tspan> <tspan x="224.1" textLength="28.4" lengthAdjust="spacingAndGlyphs">data</tspan> <tspan x="258.3" textLength="16.7" lengthAdjust="spacingAndGlyphs">set</tspan> <tspan x="280.6" textLength="48.6" lengthAdjust="spacingAndGlyphs">(scatter</tspan> <tspan x="335.1" textLength="29.9" lengthAdjust="spacingAndGlyphs">plot,</tspan> <tspan x="368.6" textLength="37.9" lengthAdjust="spacingAndGlyphs">every</tspan> <tspan x="412.6" textLength="27.9" lengthAdjust="spacingAndGlyphs">10th</tspan> <tspan x="445.6" textLength="32.9" lengthAdjust="spacingAndGlyphs">point</tspan> <tspan x="484.3" textLength="32.2" lengthAdjust="spacingAndGlyphs">used)</tspan></text>
<text y="434.5" class="t"><tspan x="262.6" textLength="56.9" lengthAdjust="spacingAndGlyphs">Distance,</tspan> <tspan x="324.6" textLength="29.9" lengthAdjust="spacingAndGlyphs">(km)</tspan></text>
<text transform="translate(45,113.5) rotate(-90)" text-anchor="middle" textLength="62" lengthAdjust="spacingAndGlyphs" class="t">Depth, (m)</text>
<text transform="translate(45,326.5) rotate(-90)" text-anchor="middle" textLength="62" lengthAdjust="spacingAndGlyphs" class="t">Depth, (m)</text>
</svg>
</body></html>
